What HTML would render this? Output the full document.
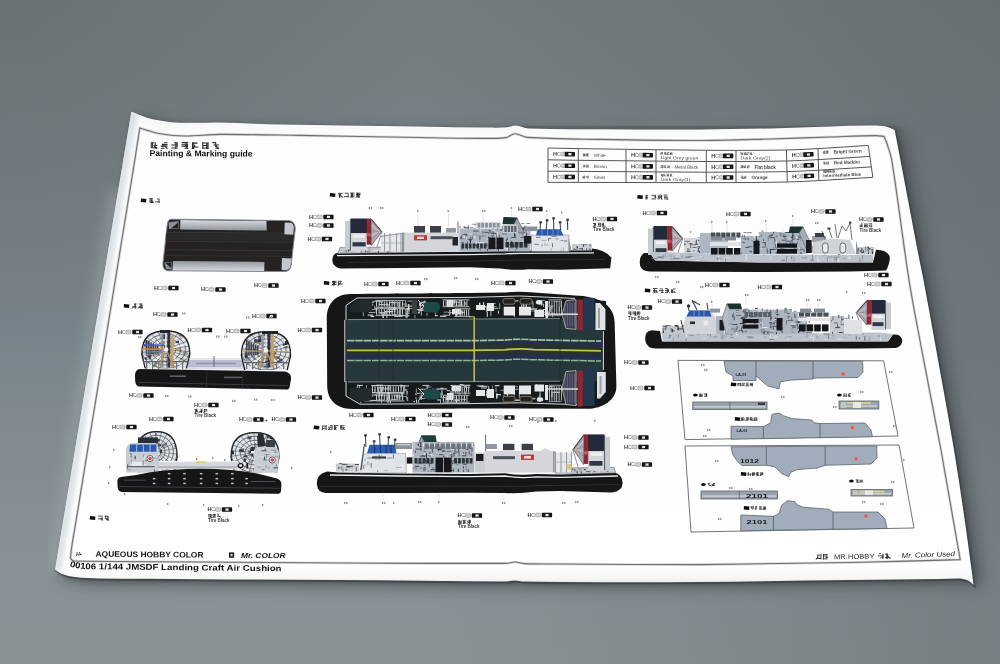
<!DOCTYPE html>
<html><head><meta charset="utf-8"><title>Painting &amp; Marking guide</title>
<style>html,body{margin:0;padding:0;background:#8b9092;}body{width:1000px;height:664px;overflow:hidden;font-family:"Liberation Sans",sans-serif;}svg{display:block}text{font-family:"Liberation Sans",sans-serif;}</style>
</head><body>
<svg width="1000" height="664" viewBox="0 0 1000 664">

<defs>
<linearGradient id="bgv" x1="0" y1="0" x2="0" y2="1">
 <stop offset="0" stop-color="#757c7f"/>
 <stop offset="0.5" stop-color="#79868b"/>
 <stop offset="0.85" stop-color="#889296"/>
 <stop offset="1" stop-color="#899295"/>
</linearGradient>
<radialGradient id="bgtl" gradientUnits="userSpaceOnUse" cx="0" cy="0" r="420">
 <stop offset="0" stop-color="#4e5458" stop-opacity="0.26"/>
 <stop offset="1" stop-color="#4e5458" stop-opacity="0"/>
</radialGradient>
<linearGradient id="bgr" x1="0" y1="0" x2="1" y2="0">
 <stop offset="0.42" stop-color="#485054" stop-opacity="0"/>
 <stop offset="0.72" stop-color="#485054" stop-opacity="0.13"/>
 <stop offset="0.9" stop-color="#485054" stop-opacity="0.24"/>
 <stop offset="1" stop-color="#485054" stop-opacity="0.28"/>
</linearGradient>
<filter id="sh" x="-10%" y="-10%" width="120%" height="120%"><feGaussianBlur stdDeviation="7"/></filter>
<filter id="sh2" x="-10%" y="-10%" width="120%" height="120%"><feGaussianBlur stdDeviation="2.5"/></filter>
<filter id="soft" x="-2%" y="-2%" width="104%" height="104%"><feGaussianBlur stdDeviation="0.55"/></filter>
<filter id="soft2" x="-2%" y="-2%" width="104%" height="104%"><feGaussianBlur stdDeviation="0.7"/></filter>
<linearGradient id="pg" x1="0" y1="0" x2="0" y2="1">
 <stop offset="0" stop-color="#f4f5f5"/>
 <stop offset="0.06" stop-color="#fdfdfd"/>
 <stop offset="0.96" stop-color="#ffffff"/>
 <stop offset="0.985" stop-color="#f6f7f7"/>
 <stop offset="1" stop-color="#e4e6e6"/>
</linearGradient>
<clipPath id="pc"><path d="M131.3,111.4 C134.2,112.6 137.1,113.8 140.0,115.0 C142.6,116.0 145.3,117.2 148.0,118.0 C151.9,119.1 156.0,119.9 160.0,120.6 C164.0,121.3 168.0,121.9 172.0,122.2 C178.0,122.6 184.0,122.7 190.0,122.8 C200.0,122.9 210.0,122.4 220.0,122.6 C236.7,122.9 253.3,123.9 270.0,124.2 C320.0,125.1 370.0,125.6 420.0,126.4 C443.3,126.8 466.7,127.4 490.0,127.6 C495.7,127.7 501.4,127.7 507.0,127.2 C509.9,127.0 512.7,125.3 515.6,125.5 C520.2,125.8 524.4,128.3 529.0,128.5 C552.6,129.5 576.3,129.1 600.0,129.2 C633.3,129.4 666.7,129.5 700.0,129.4 C723.3,129.3 746.7,129.0 770.0,128.5 C790.0,128.0 810.0,127.0 830.0,126.4 C843.3,126.0 856.7,125.5 870.0,125.5 C875.3,125.5 880.7,125.4 886.0,126.4 C889.1,127.0 891.8,128.8 894.7,130.0 C896.6,140.0 898.5,150.0 900.4,160.0 C902.9,173.3 905.5,186.7 908.0,200.0 C911.5,218.7 915.0,237.3 918.6,256.0 C920.2,264.0 922.0,272.0 923.5,280.0 C927.6,302.0 931.6,324.0 935.5,346.0 C941.7,380.7 948.2,415.3 954.0,450.0 C958.0,473.9 961.5,498.0 965.0,522.0 C968.0,543.0 970.7,564.0 973.6,585.0 C971.7,583.5 970.1,581.6 968.0,580.6 C965.5,579.4 962.7,578.8 960.0,578.6 C953.3,578.2 946.7,578.9 940.0,579.0 C910.0,579.4 880.0,579.6 850.0,580.0 C800.0,580.6 750.0,581.6 700.0,582.0 C666.7,582.3 633.3,582.3 600.0,582.2 C574.7,582.1 549.3,582.1 524.0,581.6 C521.0,581.5 518.0,580.4 515.0,580.4 C512.0,580.4 509.0,581.4 506.0,581.4 C450.7,581.3 395.3,580.4 340.0,580.0 C293.3,579.7 246.7,579.5 200.0,579.2 C166.7,579.0 133.3,579.1 100.0,578.5 C91.7,578.4 83.3,578.0 75.0,577.0 C70.6,576.5 66.2,575.6 62.0,574.0 C59.4,573.0 57.3,571.0 55.0,569.5 L131.3,111.4 Z"/></clipPath>
</defs>

<rect width="1000" height="664" fill="url(#bgv)"/>
<rect width="1000" height="664" fill="url(#bgtl)"/>
<rect width="1000" height="664" fill="url(#bgr)"/>
<path d="M131.3,111.4 C134.2,112.6 137.1,113.8 140.0,115.0 C142.6,116.0 145.3,117.2 148.0,118.0 C151.9,119.1 156.0,119.9 160.0,120.6 C164.0,121.3 168.0,121.9 172.0,122.2 C178.0,122.6 184.0,122.7 190.0,122.8 C200.0,122.9 210.0,122.4 220.0,122.6 C236.7,122.9 253.3,123.9 270.0,124.2 C320.0,125.1 370.0,125.6 420.0,126.4 C443.3,126.8 466.7,127.4 490.0,127.6 C495.7,127.7 501.4,127.7 507.0,127.2 C509.9,127.0 512.7,125.3 515.6,125.5 C520.2,125.8 524.4,128.3 529.0,128.5 C552.6,129.5 576.3,129.1 600.0,129.2 C633.3,129.4 666.7,129.5 700.0,129.4 C723.3,129.3 746.7,129.0 770.0,128.5 C790.0,128.0 810.0,127.0 830.0,126.4 C843.3,126.0 856.7,125.5 870.0,125.5 C875.3,125.5 880.7,125.4 886.0,126.4 C889.1,127.0 891.8,128.8 894.7,130.0 C896.6,140.0 898.5,150.0 900.4,160.0 C902.9,173.3 905.5,186.7 908.0,200.0 C911.5,218.7 915.0,237.3 918.6,256.0 C920.2,264.0 922.0,272.0 923.5,280.0 C927.6,302.0 931.6,324.0 935.5,346.0 C941.7,380.7 948.2,415.3 954.0,450.0 C958.0,473.9 961.5,498.0 965.0,522.0 C968.0,543.0 970.7,564.0 973.6,585.0 C971.7,583.5 970.1,581.6 968.0,580.6 C965.5,579.4 962.7,578.8 960.0,578.6 C953.3,578.2 946.7,578.9 940.0,579.0 C910.0,579.4 880.0,579.6 850.0,580.0 C800.0,580.6 750.0,581.6 700.0,582.0 C666.7,582.3 633.3,582.3 600.0,582.2 C574.7,582.1 549.3,582.1 524.0,581.6 C521.0,581.5 518.0,580.4 515.0,580.4 C512.0,580.4 509.0,581.4 506.0,581.4 C450.7,581.3 395.3,580.4 340.0,580.0 C293.3,579.7 246.7,579.5 200.0,579.2 C166.7,579.0 133.3,579.1 100.0,578.5 C91.7,578.4 83.3,578.0 75.0,577.0 C70.6,576.5 66.2,575.6 62.0,574.0 C59.4,573.0 57.3,571.0 55.0,569.5 L131.3,111.4 Z" fill="#4a4f52" opacity="0.55" filter="url(#sh)" transform="translate(12,3)"/>
<path d="M131.3,111.4 C134.2,112.6 137.1,113.8 140.0,115.0 C142.6,116.0 145.3,117.2 148.0,118.0 C151.9,119.1 156.0,119.9 160.0,120.6 C164.0,121.3 168.0,121.9 172.0,122.2 C178.0,122.6 184.0,122.7 190.0,122.8 C200.0,122.9 210.0,122.4 220.0,122.6 C236.7,122.9 253.3,123.9 270.0,124.2 C320.0,125.1 370.0,125.6 420.0,126.4 C443.3,126.8 466.7,127.4 490.0,127.6 C495.7,127.7 501.4,127.7 507.0,127.2 C509.9,127.0 512.7,125.3 515.6,125.5 C520.2,125.8 524.4,128.3 529.0,128.5 C552.6,129.5 576.3,129.1 600.0,129.2 C633.3,129.4 666.7,129.5 700.0,129.4 C723.3,129.3 746.7,129.0 770.0,128.5 C790.0,128.0 810.0,127.0 830.0,126.4 C843.3,126.0 856.7,125.5 870.0,125.5 C875.3,125.5 880.7,125.4 886.0,126.4 C889.1,127.0 891.8,128.8 894.7,130.0 C896.6,140.0 898.5,150.0 900.4,160.0 C902.9,173.3 905.5,186.7 908.0,200.0 C911.5,218.7 915.0,237.3 918.6,256.0 C920.2,264.0 922.0,272.0 923.5,280.0 C927.6,302.0 931.6,324.0 935.5,346.0 C941.7,380.7 948.2,415.3 954.0,450.0 C958.0,473.9 961.5,498.0 965.0,522.0 C968.0,543.0 970.7,564.0 973.6,585.0 C971.7,583.5 970.1,581.6 968.0,580.6 C965.5,579.4 962.7,578.8 960.0,578.6 C953.3,578.2 946.7,578.9 940.0,579.0 C910.0,579.4 880.0,579.6 850.0,580.0 C800.0,580.6 750.0,581.6 700.0,582.0 C666.7,582.3 633.3,582.3 600.0,582.2 C574.7,582.1 549.3,582.1 524.0,581.6 C521.0,581.5 518.0,580.4 515.0,580.4 C512.0,580.4 509.0,581.4 506.0,581.4 C450.7,581.3 395.3,580.4 340.0,580.0 C293.3,579.7 246.7,579.5 200.0,579.2 C166.7,579.0 133.3,579.1 100.0,578.5 C91.7,578.4 83.3,578.0 75.0,577.0 C70.6,576.5 66.2,575.6 62.0,574.0 C59.4,573.0 57.3,571.0 55.0,569.5 L131.3,111.4 Z" fill="#3c4042" opacity="0.55" filter="url(#sh2)" transform="translate(3.5,2.5)"/>
<path d="M131.3,111.4 C134.2,112.6 137.1,113.8 140.0,115.0 C142.6,116.0 145.3,117.2 148.0,118.0 C151.9,119.1 156.0,119.9 160.0,120.6 C164.0,121.3 168.0,121.9 172.0,122.2 C178.0,122.6 184.0,122.7 190.0,122.8 C200.0,122.9 210.0,122.4 220.0,122.6 C236.7,122.9 253.3,123.9 270.0,124.2 C320.0,125.1 370.0,125.6 420.0,126.4 C443.3,126.8 466.7,127.4 490.0,127.6 C495.7,127.7 501.4,127.7 507.0,127.2 C509.9,127.0 512.7,125.3 515.6,125.5 C520.2,125.8 524.4,128.3 529.0,128.5 C552.6,129.5 576.3,129.1 600.0,129.2 C633.3,129.4 666.7,129.5 700.0,129.4 C723.3,129.3 746.7,129.0 770.0,128.5 C790.0,128.0 810.0,127.0 830.0,126.4 C843.3,126.0 856.7,125.5 870.0,125.5 C875.3,125.5 880.7,125.4 886.0,126.4 C889.1,127.0 891.8,128.8 894.7,130.0 C896.6,140.0 898.5,150.0 900.4,160.0 C902.9,173.3 905.5,186.7 908.0,200.0 C911.5,218.7 915.0,237.3 918.6,256.0 C920.2,264.0 922.0,272.0 923.5,280.0 C927.6,302.0 931.6,324.0 935.5,346.0 C941.7,380.7 948.2,415.3 954.0,450.0 C958.0,473.9 961.5,498.0 965.0,522.0 C968.0,543.0 970.7,564.0 973.6,585.0 C971.7,583.5 970.1,581.6 968.0,580.6 C965.5,579.4 962.7,578.8 960.0,578.6 C953.3,578.2 946.7,578.9 940.0,579.0 C910.0,579.4 880.0,579.6 850.0,580.0 C800.0,580.6 750.0,581.6 700.0,582.0 C666.7,582.3 633.3,582.3 600.0,582.2 C574.7,582.1 549.3,582.1 524.0,581.6 C521.0,581.5 518.0,580.4 515.0,580.4 C512.0,580.4 509.0,581.4 506.0,581.4 C450.7,581.3 395.3,580.4 340.0,580.0 C293.3,579.7 246.7,579.5 200.0,579.2 C166.7,579.0 133.3,579.1 100.0,578.5 C91.7,578.4 83.3,578.0 75.0,577.0 C70.6,576.5 66.2,575.6 62.0,574.0 C59.4,573.0 57.3,571.0 55.0,569.5 L131.3,111.4 Z" fill="#454a4d" opacity="0.30" filter="url(#sh)" transform="translate(2,9)"/>
<path d="M505,128 C600,131 760,130 830,128 S880,126 896,132" fill="none" stroke="#3a3f42" stroke-width="16" opacity="0.42" filter="url(#sh)"/>
<path d="M131.3,111.4 C134.2,112.6 137.1,113.8 140.0,115.0 C142.6,116.0 145.3,117.2 148.0,118.0 C151.9,119.1 156.0,119.9 160.0,120.6 C164.0,121.3 168.0,121.9 172.0,122.2 C178.0,122.6 184.0,122.7 190.0,122.8 C200.0,122.9 210.0,122.4 220.0,122.6 C236.7,122.9 253.3,123.9 270.0,124.2 C320.0,125.1 370.0,125.6 420.0,126.4 C443.3,126.8 466.7,127.4 490.0,127.6 C495.7,127.7 501.4,127.7 507.0,127.2 C509.9,127.0 512.7,125.3 515.6,125.5 C520.2,125.8 524.4,128.3 529.0,128.5 C552.6,129.5 576.3,129.1 600.0,129.2 C633.3,129.4 666.7,129.5 700.0,129.4 C723.3,129.3 746.7,129.0 770.0,128.5 C790.0,128.0 810.0,127.0 830.0,126.4 C843.3,126.0 856.7,125.5 870.0,125.5 C875.3,125.5 880.7,125.4 886.0,126.4 C889.1,127.0 891.8,128.8 894.7,130.0 C896.6,140.0 898.5,150.0 900.4,160.0 C902.9,173.3 905.5,186.7 908.0,200.0 C911.5,218.7 915.0,237.3 918.6,256.0 C920.2,264.0 922.0,272.0 923.5,280.0 C927.6,302.0 931.6,324.0 935.5,346.0 C941.7,380.7 948.2,415.3 954.0,450.0 C958.0,473.9 961.5,498.0 965.0,522.0 C968.0,543.0 970.7,564.0 973.6,585.0 C971.7,583.5 970.1,581.6 968.0,580.6 C965.5,579.4 962.7,578.8 960.0,578.6 C953.3,578.2 946.7,578.9 940.0,579.0 C910.0,579.4 880.0,579.6 850.0,580.0 C800.0,580.6 750.0,581.6 700.0,582.0 C666.7,582.3 633.3,582.3 600.0,582.2 C574.7,582.1 549.3,582.1 524.0,581.6 C521.0,581.5 518.0,580.4 515.0,580.4 C512.0,580.4 509.0,581.4 506.0,581.4 C450.7,581.3 395.3,580.4 340.0,580.0 C293.3,579.7 246.7,579.5 200.0,579.2 C166.7,579.0 133.3,579.1 100.0,578.5 C91.7,578.4 83.3,578.0 75.0,577.0 C70.6,576.5 66.2,575.6 62.0,574.0 C59.4,573.0 57.3,571.0 55.0,569.5 L131.3,111.4 Z" fill="none" stroke="#3e4346" stroke-width="2.2" opacity="0.7" filter="url(#soft2)" transform="translate(0.8,1.0)"/>
<path d="M118,190 L55,570" fill="none" stroke="#a9b4b8" stroke-width="12" opacity="0.55" filter="url(#sh)"/>
<path d="M131.3,111.4 C134.2,112.6 137.1,113.8 140.0,115.0 C142.6,116.0 145.3,117.2 148.0,118.0 C151.9,119.1 156.0,119.9 160.0,120.6 C164.0,121.3 168.0,121.9 172.0,122.2 C178.0,122.6 184.0,122.7 190.0,122.8 C200.0,122.9 210.0,122.4 220.0,122.6 C236.7,122.9 253.3,123.9 270.0,124.2 C320.0,125.1 370.0,125.6 420.0,126.4 C443.3,126.8 466.7,127.4 490.0,127.6 C495.7,127.7 501.4,127.7 507.0,127.2 C509.9,127.0 512.7,125.3 515.6,125.5 C520.2,125.8 524.4,128.3 529.0,128.5 C552.6,129.5 576.3,129.1 600.0,129.2 C633.3,129.4 666.7,129.5 700.0,129.4 C723.3,129.3 746.7,129.0 770.0,128.5 C790.0,128.0 810.0,127.0 830.0,126.4 C843.3,126.0 856.7,125.5 870.0,125.5 C875.3,125.5 880.7,125.4 886.0,126.4 C889.1,127.0 891.8,128.8 894.7,130.0 C896.6,140.0 898.5,150.0 900.4,160.0 C902.9,173.3 905.5,186.7 908.0,200.0 C911.5,218.7 915.0,237.3 918.6,256.0 C920.2,264.0 922.0,272.0 923.5,280.0 C927.6,302.0 931.6,324.0 935.5,346.0 C941.7,380.7 948.2,415.3 954.0,450.0 C958.0,473.9 961.5,498.0 965.0,522.0 C968.0,543.0 970.7,564.0 973.6,585.0 C971.7,583.5 970.1,581.6 968.0,580.6 C965.5,579.4 962.7,578.8 960.0,578.6 C953.3,578.2 946.7,578.9 940.0,579.0 C910.0,579.4 880.0,579.6 850.0,580.0 C800.0,580.6 750.0,581.6 700.0,582.0 C666.7,582.3 633.3,582.3 600.0,582.2 C574.7,582.1 549.3,582.1 524.0,581.6 C521.0,581.5 518.0,580.4 515.0,580.4 C512.0,580.4 509.0,581.4 506.0,581.4 C450.7,581.3 395.3,580.4 340.0,580.0 C293.3,579.7 246.7,579.5 200.0,579.2 C166.7,579.0 133.3,579.1 100.0,578.5 C91.7,578.4 83.3,578.0 75.0,577.0 C70.6,576.5 66.2,575.6 62.0,574.0 C59.4,573.0 57.3,571.0 55.0,569.5 L131.3,111.4 Z" fill="url(#pg)"/>
<g clip-path="url(#pc)"><path d="M131.3,111.4 L55,569.5" fill="none" stroke="#c3ccd2" stroke-width="13" opacity="0.55" filter="url(#sh2)"/></g>
<g clip-path="url(#pc)"><g filter="url(#soft)">
<path d="M139.8,128.0 C142.5,128.9 145.2,129.8 148.0,130.6 C152.0,131.7 156.0,133.1 160.2,133.7 C168.2,134.9 176.2,135.9 184.3,136.0 C196.2,136.1 208.1,134.5 220.0,134.4 C246.7,134.3 273.3,135.0 300.0,135.4 C340.0,136.0 380.0,136.9 420.0,137.5 C443.3,137.9 466.7,138.4 490.0,138.4 C495.3,138.4 500.7,138.6 506.0,137.6 C509.2,137.0 511.7,133.8 515.0,133.8 C519.2,133.8 522.8,137.1 527.0,137.4 C551.3,139.0 575.7,139.0 600.0,139.4 C633.3,140.0 666.7,140.6 700.0,140.5 C723.3,140.4 746.7,139.6 770.0,139.0 C790.0,138.5 810.0,137.6 830.0,137.0 C845.3,136.5 860.7,135.8 876.0,135.6 C878.7,135.6 881.3,136.1 884.0,136.4 C884.8,138.3 885.8,140.1 886.4,142.0 C888.3,147.9 890.7,153.8 891.7,160.0 C898.2,199.9 902.7,240.1 909.0,280.0 C912.5,302.1 916.9,324.0 921.0,346.0 C927.5,380.7 934.6,415.3 941.0,450.0 C947.7,486.5 953.8,523.1 960.2,559.6 C923.5,560.6 886.7,561.8 850.0,562.5 C800.0,563.5 750.0,564.3 700.0,564.6 C653.3,564.8 606.7,564.3 560.0,564.0 C548.0,563.9 536.0,564.1 524.0,563.6 C521.0,563.5 518.0,562.0 515.0,562.0 C512.0,562.0 509.0,563.4 506.0,563.4 C450.7,563.7 395.3,563.3 340.0,563.0 C293.3,562.8 246.7,562.3 200.0,562.0 C160.0,561.7 120.0,561.6 80.0,561.2 C77.7,561.2 75.2,561.5 73.0,560.8 C71.8,560.4 71.3,558.9 70.4,558.0 C70.9,553.7 71.3,549.3 72.0,545.0 C73.3,536.6 74.8,528.3 76.2,520.0 C94.7,406.7 113.2,293.3 131.6,180.0 C134.4,162.7 137.1,145.3 139.8,128.0 Z" fill="none" stroke="#b4b4b8" stroke-width="2.6" opacity="0.5"/>
<path d="M139.8,128.0 C142.5,128.9 145.2,129.8 148.0,130.6 C152.0,131.7 156.0,133.1 160.2,133.7 C168.2,134.9 176.2,135.9 184.3,136.0 C196.2,136.1 208.1,134.5 220.0,134.4 C246.7,134.3 273.3,135.0 300.0,135.4 C340.0,136.0 380.0,136.9 420.0,137.5 C443.3,137.9 466.7,138.4 490.0,138.4 C495.3,138.4 500.7,138.6 506.0,137.6 C509.2,137.0 511.7,133.8 515.0,133.8 C519.2,133.8 522.8,137.1 527.0,137.4 C551.3,139.0 575.7,139.0 600.0,139.4 C633.3,140.0 666.7,140.6 700.0,140.5 C723.3,140.4 746.7,139.6 770.0,139.0 C790.0,138.5 810.0,137.6 830.0,137.0 C845.3,136.5 860.7,135.8 876.0,135.6 C878.7,135.6 881.3,136.1 884.0,136.4 C884.8,138.3 885.8,140.1 886.4,142.0 C888.3,147.9 890.7,153.8 891.7,160.0 C898.2,199.9 902.7,240.1 909.0,280.0 C912.5,302.1 916.9,324.0 921.0,346.0 C927.5,380.7 934.6,415.3 941.0,450.0 C947.7,486.5 953.8,523.1 960.2,559.6 C923.5,560.6 886.7,561.8 850.0,562.5 C800.0,563.5 750.0,564.3 700.0,564.6 C653.3,564.8 606.7,564.3 560.0,564.0 C548.0,563.9 536.0,564.1 524.0,563.6 C521.0,563.5 518.0,562.0 515.0,562.0 C512.0,562.0 509.0,563.4 506.0,563.4 C450.7,563.7 395.3,563.3 340.0,563.0 C293.3,562.8 246.7,562.3 200.0,562.0 C160.0,561.7 120.0,561.6 80.0,561.2 C77.7,561.2 75.2,561.5 73.0,560.8 C71.8,560.4 71.3,558.9 70.4,558.0 C70.9,553.7 71.3,549.3 72.0,545.0 C73.3,536.6 74.8,528.3 76.2,520.0 C94.7,406.7 113.2,293.3 131.6,180.0 C134.4,162.7 137.1,145.3 139.8,128.0 Z" fill="none" stroke="#707075" stroke-width="1.1"/>
<path d="M151.6,142.8 L154.2,142.8 M153.6,145.5 L157.2,145.5 M150.6,147.8 L157.2,147.8 M151.3,142.3 L151.3,146.9 M155.2,142.3 L155.2,148.9 M152.6,142.3 L152.6,146.9 M153.9,145.3 L157.2,148.9 " stroke="#2a2a2a" stroke-width="1.05" fill="none"/>
<path d="M163.9,142.8 L167.5,142.8 M161.9,144.5 L167.5,144.5 M160.9,146.1 L167.5,146.1 M160.9,148.2 L164.5,148.2 M162.9,143.6 L162.9,146.9 M164.2,145.3 L167.5,148.9 " stroke="#2a2a2a" stroke-width="1.05" fill="none"/>
<path d="M174.2,142.8 L177.8,142.8 M171.2,144.9 L177.8,144.9 M171.2,147.9 L177.8,147.9 M177.1,142.3 L177.1,146.9 M175.8,142.3 L175.8,148.9 " stroke="#2a2a2a" stroke-width="1.05" fill="none"/>
<path d="M181.5,142.5 L188.1,142.5 M181.5,144.3 L188.1,144.3 M181.5,146.1 L188.1,146.1 M184.5,148.2 L188.1,148.2 M186.1,142.3 L186.1,146.9 M187.4,143.6 L187.4,146.9 M184.8,145.3 L188.1,148.9 " stroke="#2a2a2a" stroke-width="1.05" fill="none"/>
<path d="M192.8,143.1 L197.4,143.1 M192.8,146.9 L198.4,146.9 M192.5,142.3 L192.5,148.9 M193.8,142.3 L193.8,148.9 M195.1,145.3 L191.8,148.9 " stroke="#2a2a2a" stroke-width="1.05" fill="none"/>
<path d="M202.1,143.0 L208.7,143.0 M202.1,145.5 L208.7,145.5 M202.1,147.9 L208.7,147.9 M208.0,142.3 L208.0,148.9 M206.7,143.6 L206.7,148.9 M202.8,142.3 L202.8,148.9 " stroke="#2a2a2a" stroke-width="1.05" fill="none"/>
<path d="M212.4,142.6 L216.0,142.6 M213.4,144.9 L219.0,144.9 M215.4,148.1 L219.0,148.1 M215.7,142.3 L215.7,146.9 M215.7,145.3 L219.0,148.9 " stroke="#2a2a2a" stroke-width="1.05" fill="none"/>
<text x="149.6" y="156.1" font-size="8.5" fill="#111" font-weight="bold" textLength="103" lengthAdjust="spacingAndGlyphs" transform="rotate(0.3 150 156)">Painting &amp; Marking guide</text>
<text x="76.0" y="555.8" font-size="5.2" fill="#222" font-weight="bold" font-style="italic">H&#8226;</text>
<text x="95.5" y="556.7" font-size="8.0" fill="#111" font-weight="bold" textLength="108" lengthAdjust="spacingAndGlyphs" transform="rotate(0.5 96 557)">AQUEOUS HOBBY COLOR</text>
<rect x="229.0" y="552.4" width="5.2" height="5.4" fill="#222" />
<rect x="230.6" y="554.0" width="2.0" height="2.2" fill="#ddd" />
<text x="241.0" y="557.9" font-size="8.0" fill="#111" font-weight="bold" font-style="italic" textLength="44.5" lengthAdjust="spacingAndGlyphs">Mr. COLOR</text>
<path id="btp" d="M69.6,566.4 C75,568.2 82,568.9 92,569.2 C150,569.9 220,570.6 283,571.2" fill="none"/>
<text font-size="8.3" font-weight="bold" fill="#111"><textPath href="#btp" textLength="212" lengthAdjust="spacingAndGlyphs">00106 1/144 JMSDF Landing Craft Air Cushion</textPath></text>
<path d="M816.8,555.1 L821.4,555.1 M816.0,558.5 L821.4,558.5 M820.9,554.2 L820.9,559.6 M817.6,555.3 L817.6,558.0 M818.7,556.6 L816.0,559.6 " stroke="#222" stroke-width="0.80" fill="none"/>
<path d="M823.0,554.6 L827.6,554.6 M823.0,556.0 L826.0,556.0 M825.4,557.3 L828.4,557.3 M823.0,558.8 L826.0,558.8 M823.5,554.2 L823.5,559.6 M826.8,554.2 L826.8,559.6 " stroke="#222" stroke-width="0.80" fill="none"/>
<text x="834.0" y="559.2" font-size="6.8" fill="#222" font-weight="normal" textLength="40.5" lengthAdjust="spacingAndGlyphs" transform="rotate(-0.8 834 559)">MR.HOBBY</text>
<path d="M878.8,553.7 L881.0,553.7 M878.0,555.9 L883.4,555.9 M880.4,557.8 L883.4,557.8 M882.9,553.5 L882.9,557.3 M882.9,554.6 L882.9,558.9 " stroke="#222" stroke-width="0.80" fill="none"/>
<path d="M885.0,554.0 L888.0,554.0 M885.0,557.6 L890.4,557.6 M887.7,554.6 L887.7,557.3 M887.7,554.6 L887.7,558.9 M886.6,553.5 L886.6,558.9 M887.7,555.9 L890.4,558.9 " stroke="#222" stroke-width="0.80" fill="none"/>
<text x="901.6" y="558.0" font-size="7.0" fill="#222" font-weight="normal" font-style="italic" textLength="53.5" lengthAdjust="spacingAndGlyphs" transform="rotate(-2.0 901 558)">Mr. Color Used</text>
<path d="M141.0,198.6 l5.4,0.4 l-0.3,3.4 l-5.4,-0.4 z" fill="#111"/>
<path d="M149.0,198.6 L152.9,198.6 M149.7,200.0 L152.9,200.0 M149.0,201.2 L153.6,201.2 M149.7,202.5 L153.6,202.5 M151.3,198.4 L151.3,203.0 M151.3,200.5 L153.6,203.0 " stroke="#2a2a2a" stroke-width="0.85" fill="none"/>
<path d="M157.1,199.0 L159.6,199.0 M155.0,201.9 L159.6,201.9 M159.1,199.3 L159.1,203.0 " stroke="#2a2a2a" stroke-width="0.85" fill="none"/>
<path d="M124.0,304.1 l5.4,0.4 l-0.3,3.4 l-5.4,-0.4 z" fill="#111"/>
<path d="M134.1,303.9 L136.6,303.9 M132.0,307.0 L136.6,307.0 M135.2,303.9 L135.2,308.5 M135.2,303.9 L135.2,308.5 M134.3,306.0 L132.0,308.5 " stroke="#2a2a2a" stroke-width="0.85" fill="none"/>
<path d="M138.7,304.0 L142.6,304.0 M138.7,307.4 L142.6,307.4 M141.2,303.9 L141.2,308.5 M140.3,304.8 L140.3,308.5 M142.1,304.8 L142.1,308.5 M140.3,306.0 L138.0,308.5 " stroke="#2a2a2a" stroke-width="0.85" fill="none"/>
<path d="M330.0,193.1 l5.4,0.4 l-0.3,3.4 l-5.4,-0.4 z" fill="#111"/>
<path d="M338.0,193.3 L342.6,193.3 M338.7,194.7 L340.5,194.7 M340.1,196.8 L342.6,196.8 M339.4,193.8 L339.4,197.5 M339.4,193.8 L339.4,197.5 M340.3,193.8 L340.3,196.1 M340.3,195.0 L342.6,197.5 " stroke="#2a2a2a" stroke-width="0.85" fill="none"/>
<path d="M344.7,193.2 L348.6,193.2 M344.0,196.6 L348.6,196.6 M348.1,193.8 L348.1,197.5 " stroke="#2a2a2a" stroke-width="0.85" fill="none"/>
<path d="M350.0,193.1 L354.6,193.1 M350.7,195.0 L354.6,195.0 M350.7,196.8 L354.6,196.8 M351.4,192.9 L351.4,197.5 M352.3,193.8 L352.3,196.1 M352.3,192.9 L352.3,197.5 M352.3,195.0 L350.0,197.5 " stroke="#2a2a2a" stroke-width="0.85" fill="none"/>
<path d="M356.0,193.2 L360.6,193.2 M356.0,194.5 L360.6,194.5 M356.0,195.8 L358.5,195.8 M356.0,196.9 L359.9,196.9 M357.4,192.9 L357.4,196.1 M359.2,193.8 L359.2,197.5 M358.3,192.9 L358.3,197.5 M358.3,195.0 L356.0,197.5 " stroke="#2a2a2a" stroke-width="0.85" fill="none"/>
<path d="M324.0,281.1 l5.4,0.4 l-0.3,3.4 l-5.4,-0.4 z" fill="#111"/>
<path d="M332.0,281.4 L336.6,281.4 M332.0,282.7 L336.6,282.7 M332.0,284.5 L336.6,284.5 M334.3,280.9 L334.3,285.5 M333.4,280.9 L333.4,285.5 M334.3,281.8 L334.3,284.1 M334.3,283.0 L332.0,285.5 " stroke="#2a2a2a" stroke-width="0.85" fill="none"/>
<path d="M338.0,281.3 L341.9,281.3 M338.0,284.0 L342.6,284.0 M338.5,281.8 L338.5,285.5 M340.3,281.8 L340.3,284.1 M340.3,283.0 L338.0,285.5 " stroke="#2a2a2a" stroke-width="0.85" fill="none"/>
<path d="M637.5,195.1 l5.4,0.4 l-0.3,3.4 l-5.4,-0.4 z" fill="#111"/>
<path d="M646.2,195.7 L648.0,195.7 M645.5,197.9 L648.0,197.9 M646.0,194.9 L646.0,199.5 M646.9,195.8 L646.9,199.5 " stroke="#2a2a2a" stroke-width="0.85" fill="none"/>
<path d="M651.5,195.3 L656.1,195.3 M653.6,196.8 L656.1,196.8 M651.5,198.9 L656.1,198.9 M655.6,195.8 L655.6,198.1 " stroke="#2a2a2a" stroke-width="0.85" fill="none"/>
<path d="M659.6,195.0 L661.4,195.0 M658.2,196.7 L662.1,196.7 M657.5,198.8 L660.0,198.8 M658.9,194.9 L658.9,198.1 M661.6,194.9 L661.6,199.5 M658.9,195.8 L658.9,198.1 M659.8,197.0 L662.1,199.5 " stroke="#2a2a2a" stroke-width="0.85" fill="none"/>
<path d="M663.5,195.0 L667.4,195.0 M664.2,197.0 L668.1,197.0 M665.6,199.0 L668.1,199.0 M664.9,195.8 L664.9,199.5 M665.8,197.0 L668.1,199.5 " stroke="#2a2a2a" stroke-width="0.85" fill="none"/>
<path d="M645.0,288.6 l5.4,0.4 l-0.3,3.4 l-5.4,-0.4 z" fill="#111"/>
<path d="M653.0,288.5 L657.6,288.5 M653.0,290.6 L657.6,290.6 M653.0,292.1 L657.6,292.1 M654.4,288.4 L654.4,293.0 M655.3,290.5 L657.6,293.0 " stroke="#2a2a2a" stroke-width="0.85" fill="none"/>
<path d="M659.7,288.8 L661.5,288.8 M659.0,290.6 L663.6,290.6 M661.1,292.5 L663.6,292.5 M662.2,288.4 L662.2,293.0 " stroke="#2a2a2a" stroke-width="0.85" fill="none"/>
<path d="M665.0,288.5 L667.5,288.5 M665.0,290.5 L668.9,290.5 M665.0,292.4 L667.5,292.4 M667.3,288.4 L667.3,293.0 M668.2,289.3 L668.2,291.6 M668.2,289.3 L668.2,291.6 M667.3,290.5 L669.6,293.0 " stroke="#2a2a2a" stroke-width="0.85" fill="none"/>
<path d="M673.1,289.0 L675.6,289.0 M671.0,292.1 L674.9,292.1 M671.5,289.3 L671.5,293.0 M672.4,289.3 L672.4,293.0 M673.3,290.5 L675.6,293.0 " stroke="#2a2a2a" stroke-width="0.85" fill="none"/>
<path d="M314.0,425.6 l5.4,0.4 l-0.3,3.4 l-5.4,-0.4 z" fill="#111"/>
<path d="M322.0,426.0 L326.6,426.0 M324.1,428.7 L326.6,428.7 M322.5,426.3 L322.5,430.0 M326.1,425.4 L326.1,430.0 M324.3,427.5 L322.0,430.0 " stroke="#2a2a2a" stroke-width="0.85" fill="none"/>
<path d="M330.1,425.5 L332.6,425.5 M328.0,427.2 L332.6,427.2 M328.0,429.3 L332.6,429.3 M332.1,426.3 L332.1,428.6 M330.3,427.5 L328.0,430.0 " stroke="#2a2a2a" stroke-width="0.85" fill="none"/>
<path d="M334.0,425.6 L338.6,425.6 M334.0,427.6 L336.5,427.6 M334.0,429.4 L336.5,429.4 M335.4,426.3 L335.4,428.6 M334.5,425.4 L334.5,430.0 M336.3,427.5 L334.0,430.0 " stroke="#2a2a2a" stroke-width="0.85" fill="none"/>
<path d="M340.7,425.8 L344.6,425.8 M342.1,427.7 L344.6,427.7 M340.0,429.0 L344.6,429.0 M341.4,425.4 L341.4,428.6 M340.5,425.4 L340.5,428.6 M342.3,427.5 L344.6,430.0 " stroke="#2a2a2a" stroke-width="0.85" fill="none"/>
<path d="M90.0,516.1 l5.4,0.4 l-0.3,3.4 l-5.4,-0.4 z" fill="#111"/>
<path d="M98.0,516.1 L102.6,516.1 M98.0,518.8 L102.6,518.8 M102.1,516.8 L102.1,520.5 M100.3,518.0 L102.6,520.5 " stroke="#2a2a2a" stroke-width="0.85" fill="none"/>
<path d="M104.7,516.2 L107.9,516.2 M106.1,519.5 L108.6,519.5 M108.1,515.9 L108.1,520.5 M107.2,516.8 L107.2,520.5 M105.4,515.9 L105.4,519.1 M106.3,518.0 L108.6,520.5 " stroke="#2a2a2a" stroke-width="0.85" fill="none"/>
<text x="154.0" y="289.9" font-size="5.6" fill="#3a3a3a" font-weight="bold" >H</text>
<text x="157.8" y="289.9" font-size="5.6" fill="#6a6a6a" font-weight="normal" >C</text>
<rect x="161.8" y="286.2" width="5.4" height="3.6" rx="1.4" fill="#d4d4d4" stroke="#8a8a8a" stroke-width="0.6"/>
<rect x="168.3" y="285.7" width="10.3" height="4.6" rx="0.9" fill="#121212"/>
<rect x="171.9" y="286.9" width="3.2" height="2.3" fill="#e2e2e2"/>
<text x="201.0" y="291.4" font-size="5.6" fill="#3a3a3a" font-weight="bold" >H</text>
<text x="204.8" y="291.4" font-size="5.6" fill="#6a6a6a" font-weight="normal" >C</text>
<rect x="208.8" y="287.7" width="5.4" height="3.6" rx="1.4" fill="#d4d4d4" stroke="#8a8a8a" stroke-width="0.6"/>
<rect x="215.3" y="287.2" width="10.3" height="4.6" rx="0.9" fill="#121212"/>
<rect x="218.9" y="288.4" width="3.2" height="2.3" fill="#e2e2e2"/>
<text x="254.0" y="287.4" font-size="5.6" fill="#3a3a3a" font-weight="bold" >H</text>
<text x="257.8" y="287.4" font-size="5.6" fill="#6a6a6a" font-weight="normal" >C</text>
<rect x="261.8" y="283.7" width="5.4" height="3.6" rx="1.4" fill="#d4d4d4" stroke="#8a8a8a" stroke-width="0.6"/>
<rect x="268.3" y="283.2" width="10.3" height="4.6" rx="0.9" fill="#121212"/>
<rect x="271.9" y="284.4" width="3.2" height="2.3" fill="#e2e2e2"/>
<text x="309.0" y="218.9" font-size="5.6" fill="#3a3a3a" font-weight="bold" >H</text>
<text x="312.8" y="218.9" font-size="5.6" fill="#6a6a6a" font-weight="normal" >C</text>
<rect x="316.8" y="215.2" width="5.4" height="3.6" rx="1.4" fill="#d4d4d4" stroke="#8a8a8a" stroke-width="0.6"/>
<rect x="323.3" y="214.7" width="10.3" height="4.6" rx="0.9" fill="#121212"/>
<rect x="326.9" y="215.8" width="3.2" height="2.3" fill="#e2e2e2"/>
<text x="309.0" y="227.4" font-size="5.6" fill="#3a3a3a" font-weight="bold" >H</text>
<text x="312.8" y="227.4" font-size="5.6" fill="#6a6a6a" font-weight="normal" >C</text>
<rect x="316.8" y="223.7" width="5.4" height="3.6" rx="1.4" fill="#d4d4d4" stroke="#8a8a8a" stroke-width="0.6"/>
<rect x="323.3" y="223.2" width="10.3" height="4.6" rx="0.9" fill="#121212"/>
<rect x="326.9" y="224.3" width="3.2" height="2.3" fill="#e2e2e2"/>
<text x="307.5" y="240.9" font-size="5.6" fill="#3a3a3a" font-weight="bold" >H</text>
<text x="311.3" y="240.9" font-size="5.6" fill="#6a6a6a" font-weight="normal" >C</text>
<rect x="315.3" y="237.2" width="5.4" height="3.6" rx="1.4" fill="#d4d4d4" stroke="#8a8a8a" stroke-width="0.6"/>
<rect x="321.8" y="236.7" width="10.3" height="4.6" rx="0.9" fill="#121212"/>
<rect x="325.4" y="237.8" width="3.2" height="2.3" fill="#e2e2e2"/>
<text x="301.0" y="302.9" font-size="5.6" fill="#3a3a3a" font-weight="bold" >H</text>
<text x="304.8" y="302.9" font-size="5.6" fill="#6a6a6a" font-weight="normal" >C</text>
<rect x="308.8" y="299.2" width="5.4" height="3.6" rx="1.4" fill="#d4d4d4" stroke="#8a8a8a" stroke-width="0.6"/>
<rect x="315.3" y="298.7" width="10.3" height="4.6" rx="0.9" fill="#121212"/>
<rect x="318.9" y="299.9" width="3.2" height="2.3" fill="#e2e2e2"/>
<text x="153.0" y="316.4" font-size="5.6" fill="#3a3a3a" font-weight="bold" >H</text>
<text x="156.8" y="316.4" font-size="5.6" fill="#6a6a6a" font-weight="normal" >C</text>
<rect x="160.8" y="312.7" width="5.4" height="3.6" rx="1.4" fill="#d4d4d4" stroke="#8a8a8a" stroke-width="0.6"/>
<rect x="167.3" y="312.2" width="10.3" height="4.6" rx="0.9" fill="#121212"/>
<rect x="170.9" y="313.4" width="3.2" height="2.3" fill="#e2e2e2"/>
<text x="252.0" y="317.9" font-size="5.6" fill="#3a3a3a" font-weight="bold" >H</text>
<text x="255.8" y="317.9" font-size="5.6" fill="#6a6a6a" font-weight="normal" >C</text>
<rect x="259.8" y="314.2" width="5.4" height="3.6" rx="1.4" fill="#d4d4d4" stroke="#8a8a8a" stroke-width="0.6"/>
<rect x="266.3" y="313.7" width="10.3" height="4.6" rx="0.9" fill="#121212"/>
<rect x="269.9" y="314.9" width="3.2" height="2.3" fill="#e2e2e2"/>
<text x="118.0" y="333.9" font-size="5.6" fill="#3a3a3a" font-weight="bold" >H</text>
<text x="121.8" y="333.9" font-size="5.6" fill="#6a6a6a" font-weight="normal" >C</text>
<rect x="125.8" y="330.2" width="5.4" height="3.6" rx="1.4" fill="#d4d4d4" stroke="#8a8a8a" stroke-width="0.6"/>
<rect x="132.3" y="329.7" width="10.3" height="4.6" rx="0.9" fill="#121212"/>
<rect x="135.9" y="330.9" width="3.2" height="2.3" fill="#e2e2e2"/>
<text x="187.5" y="331.9" font-size="5.6" fill="#3a3a3a" font-weight="bold" >H</text>
<text x="191.3" y="331.9" font-size="5.6" fill="#6a6a6a" font-weight="normal" >C</text>
<rect x="195.3" y="328.2" width="5.4" height="3.6" rx="1.4" fill="#d4d4d4" stroke="#8a8a8a" stroke-width="0.6"/>
<rect x="201.8" y="327.7" width="10.3" height="4.6" rx="0.9" fill="#121212"/>
<rect x="205.4" y="328.9" width="3.2" height="2.3" fill="#e2e2e2"/>
<text x="226.0" y="332.9" font-size="5.6" fill="#3a3a3a" font-weight="bold" >H</text>
<text x="229.8" y="332.9" font-size="5.6" fill="#6a6a6a" font-weight="normal" >C</text>
<rect x="233.8" y="329.2" width="5.4" height="3.6" rx="1.4" fill="#d4d4d4" stroke="#8a8a8a" stroke-width="0.6"/>
<rect x="240.3" y="328.7" width="10.3" height="4.6" rx="0.9" fill="#121212"/>
<rect x="243.9" y="329.9" width="3.2" height="2.3" fill="#e2e2e2"/>
<text x="297.5" y="331.9" font-size="5.6" fill="#3a3a3a" font-weight="bold" >H</text>
<text x="301.3" y="331.9" font-size="5.6" fill="#6a6a6a" font-weight="normal" >C</text>
<rect x="305.3" y="328.2" width="5.4" height="3.6" rx="1.4" fill="#d4d4d4" stroke="#8a8a8a" stroke-width="0.6"/>
<rect x="311.8" y="327.7" width="10.3" height="4.6" rx="0.9" fill="#121212"/>
<rect x="315.4" y="328.9" width="3.2" height="2.3" fill="#e2e2e2"/>
<text x="129.0" y="397.4" font-size="5.6" fill="#3a3a3a" font-weight="bold" >H</text>
<text x="132.8" y="397.4" font-size="5.6" fill="#6a6a6a" font-weight="normal" >C</text>
<rect x="136.8" y="393.7" width="5.4" height="3.6" rx="1.4" fill="#d4d4d4" stroke="#8a8a8a" stroke-width="0.6"/>
<rect x="143.3" y="393.2" width="10.3" height="4.6" rx="0.9" fill="#121212"/>
<rect x="146.9" y="394.4" width="3.2" height="2.3" fill="#e2e2e2"/>
<text x="194.0" y="406.9" font-size="5.6" fill="#3a3a3a" font-weight="bold" >H</text>
<text x="197.8" y="406.9" font-size="5.6" fill="#6a6a6a" font-weight="normal" >C</text>
<rect x="201.8" y="403.2" width="5.4" height="3.6" rx="1.4" fill="#d4d4d4" stroke="#8a8a8a" stroke-width="0.6"/>
<rect x="208.3" y="402.7" width="10.3" height="4.6" rx="0.9" fill="#121212"/>
<rect x="211.9" y="403.9" width="3.2" height="2.3" fill="#e2e2e2"/>
<text x="297.5" y="399.4" font-size="5.6" fill="#3a3a3a" font-weight="bold" >H</text>
<text x="301.3" y="399.4" font-size="5.6" fill="#6a6a6a" font-weight="normal" >C</text>
<rect x="305.3" y="395.7" width="5.4" height="3.6" rx="1.4" fill="#d4d4d4" stroke="#8a8a8a" stroke-width="0.6"/>
<rect x="311.8" y="395.2" width="10.3" height="4.6" rx="0.9" fill="#121212"/>
<rect x="315.4" y="396.4" width="3.2" height="2.3" fill="#e2e2e2"/>
<text x="149.0" y="420.9" font-size="5.6" fill="#3a3a3a" font-weight="bold" >H</text>
<text x="152.8" y="420.9" font-size="5.6" fill="#6a6a6a" font-weight="normal" >C</text>
<rect x="156.8" y="417.2" width="5.4" height="3.6" rx="1.4" fill="#d4d4d4" stroke="#8a8a8a" stroke-width="0.6"/>
<rect x="163.3" y="416.7" width="10.3" height="4.6" rx="0.9" fill="#121212"/>
<rect x="166.9" y="417.9" width="3.2" height="2.3" fill="#e2e2e2"/>
<text x="239.0" y="421.4" font-size="5.6" fill="#3a3a3a" font-weight="bold" >H</text>
<text x="242.8" y="421.4" font-size="5.6" fill="#6a6a6a" font-weight="normal" >C</text>
<rect x="246.8" y="417.7" width="5.4" height="3.6" rx="1.4" fill="#d4d4d4" stroke="#8a8a8a" stroke-width="0.6"/>
<rect x="253.3" y="417.2" width="10.3" height="4.6" rx="0.9" fill="#121212"/>
<rect x="256.9" y="418.4" width="3.2" height="2.3" fill="#e2e2e2"/>
<text x="271.5" y="421.4" font-size="5.6" fill="#3a3a3a" font-weight="bold" >H</text>
<text x="275.3" y="421.4" font-size="5.6" fill="#6a6a6a" font-weight="normal" >C</text>
<rect x="279.3" y="417.7" width="5.4" height="3.6" rx="1.4" fill="#d4d4d4" stroke="#8a8a8a" stroke-width="0.6"/>
<rect x="285.8" y="417.2" width="10.3" height="4.6" rx="0.9" fill="#121212"/>
<rect x="289.4" y="418.4" width="3.2" height="2.3" fill="#e2e2e2"/>
<text x="112.0" y="428.9" font-size="5.6" fill="#3a3a3a" font-weight="bold" >H</text>
<text x="115.8" y="428.9" font-size="5.6" fill="#6a6a6a" font-weight="normal" >C</text>
<rect x="119.8" y="425.2" width="5.4" height="3.6" rx="1.4" fill="#d4d4d4" stroke="#8a8a8a" stroke-width="0.6"/>
<rect x="126.3" y="424.7" width="10.3" height="4.6" rx="0.9" fill="#121212"/>
<rect x="129.9" y="425.9" width="3.2" height="2.3" fill="#e2e2e2"/>
<text x="207.5" y="511.4" font-size="5.6" fill="#3a3a3a" font-weight="bold" >H</text>
<text x="211.3" y="511.4" font-size="5.6" fill="#6a6a6a" font-weight="normal" >C</text>
<rect x="215.3" y="507.7" width="5.4" height="3.6" rx="1.4" fill="#d4d4d4" stroke="#8a8a8a" stroke-width="0.6"/>
<rect x="221.8" y="507.2" width="10.3" height="4.6" rx="0.9" fill="#121212"/>
<rect x="225.4" y="508.4" width="3.2" height="2.3" fill="#e2e2e2"/>
<text x="518.0" y="210.9" font-size="5.6" fill="#3a3a3a" font-weight="bold" >H</text>
<text x="521.8" y="210.9" font-size="5.6" fill="#6a6a6a" font-weight="normal" >C</text>
<rect x="525.8" y="207.2" width="5.4" height="3.6" rx="1.4" fill="#d4d4d4" stroke="#8a8a8a" stroke-width="0.6"/>
<rect x="532.3" y="206.7" width="10.3" height="4.6" rx="0.9" fill="#121212"/>
<rect x="535.9" y="207.8" width="3.2" height="2.3" fill="#e2e2e2"/>
<text x="364.0" y="285.9" font-size="5.6" fill="#3a3a3a" font-weight="bold" >H</text>
<text x="367.8" y="285.9" font-size="5.6" fill="#6a6a6a" font-weight="normal" >C</text>
<rect x="371.8" y="282.2" width="5.4" height="3.6" rx="1.4" fill="#d4d4d4" stroke="#8a8a8a" stroke-width="0.6"/>
<rect x="378.3" y="281.7" width="10.3" height="4.6" rx="0.9" fill="#121212"/>
<rect x="381.9" y="282.9" width="3.2" height="2.3" fill="#e2e2e2"/>
<text x="396.0" y="284.9" font-size="5.6" fill="#3a3a3a" font-weight="bold" >H</text>
<text x="399.8" y="284.9" font-size="5.6" fill="#6a6a6a" font-weight="normal" >C</text>
<rect x="403.8" y="281.2" width="5.4" height="3.6" rx="1.4" fill="#d4d4d4" stroke="#8a8a8a" stroke-width="0.6"/>
<rect x="410.3" y="280.7" width="10.3" height="4.6" rx="0.9" fill="#121212"/>
<rect x="413.9" y="281.9" width="3.2" height="2.3" fill="#e2e2e2"/>
<text x="491.0" y="284.9" font-size="5.6" fill="#3a3a3a" font-weight="bold" >H</text>
<text x="494.8" y="284.9" font-size="5.6" fill="#6a6a6a" font-weight="normal" >C</text>
<rect x="498.8" y="281.2" width="5.4" height="3.6" rx="1.4" fill="#d4d4d4" stroke="#8a8a8a" stroke-width="0.6"/>
<rect x="505.3" y="280.7" width="10.3" height="4.6" rx="0.9" fill="#121212"/>
<rect x="508.9" y="281.9" width="3.2" height="2.3" fill="#e2e2e2"/>
<text x="528.5" y="283.4" font-size="5.6" fill="#3a3a3a" font-weight="bold" >H</text>
<text x="532.3" y="283.4" font-size="5.6" fill="#6a6a6a" font-weight="normal" >C</text>
<rect x="536.3" y="279.7" width="5.4" height="3.6" rx="1.4" fill="#d4d4d4" stroke="#8a8a8a" stroke-width="0.6"/>
<rect x="542.8" y="279.2" width="10.3" height="4.6" rx="0.9" fill="#121212"/>
<rect x="546.4" y="280.4" width="3.2" height="2.3" fill="#e2e2e2"/>
<text x="592.5" y="220.9" font-size="5.6" fill="#3a3a3a" font-weight="bold" >H</text>
<text x="596.3" y="220.9" font-size="5.6" fill="#6a6a6a" font-weight="normal" >C</text>
<rect x="600.3" y="217.2" width="5.4" height="3.6" rx="1.4" fill="#d4d4d4" stroke="#8a8a8a" stroke-width="0.6"/>
<rect x="606.8" y="216.7" width="10.3" height="4.6" rx="0.9" fill="#121212"/>
<rect x="610.4" y="217.8" width="3.2" height="2.3" fill="#e2e2e2"/>
<text x="642.5" y="214.9" font-size="5.6" fill="#3a3a3a" font-weight="bold" >H</text>
<text x="646.3" y="214.9" font-size="5.6" fill="#6a6a6a" font-weight="normal" >C</text>
<rect x="650.3" y="211.2" width="5.4" height="3.6" rx="1.4" fill="#d4d4d4" stroke="#8a8a8a" stroke-width="0.6"/>
<rect x="656.8" y="210.7" width="10.3" height="4.6" rx="0.9" fill="#121212"/>
<rect x="660.4" y="211.8" width="3.2" height="2.3" fill="#e2e2e2"/>
<text x="627.5" y="309.4" font-size="5.6" fill="#3a3a3a" font-weight="bold" >H</text>
<text x="631.3" y="309.4" font-size="5.6" fill="#6a6a6a" font-weight="normal" >C</text>
<rect x="635.3" y="305.7" width="5.4" height="3.6" rx="1.4" fill="#d4d4d4" stroke="#8a8a8a" stroke-width="0.6"/>
<rect x="641.8" y="305.2" width="10.3" height="4.6" rx="0.9" fill="#121212"/>
<rect x="645.4" y="306.4" width="3.2" height="2.3" fill="#e2e2e2"/>
<text x="657.5" y="303.4" font-size="5.6" fill="#3a3a3a" font-weight="bold" >H</text>
<text x="661.3" y="303.4" font-size="5.6" fill="#6a6a6a" font-weight="normal" >C</text>
<rect x="665.3" y="299.7" width="5.4" height="3.6" rx="1.4" fill="#d4d4d4" stroke="#8a8a8a" stroke-width="0.6"/>
<rect x="671.8" y="299.2" width="10.3" height="4.6" rx="0.9" fill="#121212"/>
<rect x="675.4" y="300.4" width="3.2" height="2.3" fill="#e2e2e2"/>
<text x="726.0" y="215.9" font-size="5.6" fill="#3a3a3a" font-weight="bold" >H</text>
<text x="729.8" y="215.9" font-size="5.6" fill="#6a6a6a" font-weight="normal" >C</text>
<rect x="733.8" y="212.2" width="5.4" height="3.6" rx="1.4" fill="#d4d4d4" stroke="#8a8a8a" stroke-width="0.6"/>
<rect x="740.3" y="211.7" width="10.3" height="4.6" rx="0.9" fill="#121212"/>
<rect x="743.9" y="212.8" width="3.2" height="2.3" fill="#e2e2e2"/>
<text x="811.0" y="213.4" font-size="5.6" fill="#3a3a3a" font-weight="bold" >H</text>
<text x="814.8" y="213.4" font-size="5.6" fill="#6a6a6a" font-weight="normal" >C</text>
<rect x="818.8" y="209.7" width="5.4" height="3.6" rx="1.4" fill="#d4d4d4" stroke="#8a8a8a" stroke-width="0.6"/>
<rect x="825.3" y="209.2" width="10.3" height="4.6" rx="0.9" fill="#121212"/>
<rect x="828.9" y="210.3" width="3.2" height="2.3" fill="#e2e2e2"/>
<text x="859.0" y="221.4" font-size="5.6" fill="#3a3a3a" font-weight="bold" >H</text>
<text x="862.8" y="221.4" font-size="5.6" fill="#6a6a6a" font-weight="normal" >C</text>
<rect x="866.8" y="217.7" width="5.4" height="3.6" rx="1.4" fill="#d4d4d4" stroke="#8a8a8a" stroke-width="0.6"/>
<rect x="873.3" y="217.2" width="10.3" height="4.6" rx="0.9" fill="#121212"/>
<rect x="876.9" y="218.3" width="3.2" height="2.3" fill="#e2e2e2"/>
<text x="705.0" y="286.9" font-size="5.6" fill="#3a3a3a" font-weight="bold" >H</text>
<text x="708.8" y="286.9" font-size="5.6" fill="#6a6a6a" font-weight="normal" >C</text>
<rect x="712.8" y="283.2" width="5.4" height="3.6" rx="1.4" fill="#d4d4d4" stroke="#8a8a8a" stroke-width="0.6"/>
<rect x="719.3" y="282.7" width="10.3" height="4.6" rx="0.9" fill="#121212"/>
<rect x="722.9" y="283.9" width="3.2" height="2.3" fill="#e2e2e2"/>
<text x="757.5" y="288.9" font-size="5.6" fill="#3a3a3a" font-weight="bold" >H</text>
<text x="761.3" y="288.9" font-size="5.6" fill="#6a6a6a" font-weight="normal" >C</text>
<rect x="765.3" y="285.2" width="5.4" height="3.6" rx="1.4" fill="#d4d4d4" stroke="#8a8a8a" stroke-width="0.6"/>
<rect x="771.8" y="284.7" width="10.3" height="4.6" rx="0.9" fill="#121212"/>
<rect x="775.4" y="285.9" width="3.2" height="2.3" fill="#e2e2e2"/>
<text x="864.0" y="276.9" font-size="5.6" fill="#3a3a3a" font-weight="bold" >H</text>
<text x="867.8" y="276.9" font-size="5.6" fill="#6a6a6a" font-weight="normal" >C</text>
<rect x="871.8" y="273.2" width="5.4" height="3.6" rx="1.4" fill="#d4d4d4" stroke="#8a8a8a" stroke-width="0.6"/>
<rect x="878.3" y="272.7" width="10.3" height="4.6" rx="0.9" fill="#121212"/>
<rect x="881.9" y="273.9" width="3.2" height="2.3" fill="#e2e2e2"/>
<text x="867.0" y="285.9" font-size="5.6" fill="#3a3a3a" font-weight="bold" >H</text>
<text x="870.8" y="285.9" font-size="5.6" fill="#6a6a6a" font-weight="normal" >C</text>
<rect x="874.8" y="282.2" width="5.4" height="3.6" rx="1.4" fill="#d4d4d4" stroke="#8a8a8a" stroke-width="0.6"/>
<rect x="881.3" y="281.7" width="10.3" height="4.6" rx="0.9" fill="#121212"/>
<rect x="884.9" y="282.9" width="3.2" height="2.3" fill="#e2e2e2"/>
<text x="349.0" y="416.9" font-size="5.6" fill="#3a3a3a" font-weight="bold" >H</text>
<text x="352.8" y="416.9" font-size="5.6" fill="#6a6a6a" font-weight="normal" >C</text>
<rect x="356.8" y="413.2" width="5.4" height="3.6" rx="1.4" fill="#d4d4d4" stroke="#8a8a8a" stroke-width="0.6"/>
<rect x="363.3" y="412.7" width="10.3" height="4.6" rx="0.9" fill="#121212"/>
<rect x="366.9" y="413.9" width="3.2" height="2.3" fill="#e2e2e2"/>
<text x="391.0" y="420.9" font-size="5.6" fill="#3a3a3a" font-weight="bold" >H</text>
<text x="394.8" y="420.9" font-size="5.6" fill="#6a6a6a" font-weight="normal" >C</text>
<rect x="398.8" y="417.2" width="5.4" height="3.6" rx="1.4" fill="#d4d4d4" stroke="#8a8a8a" stroke-width="0.6"/>
<rect x="405.3" y="416.7" width="10.3" height="4.6" rx="0.9" fill="#121212"/>
<rect x="408.9" y="417.9" width="3.2" height="2.3" fill="#e2e2e2"/>
<text x="427.5" y="416.9" font-size="5.6" fill="#3a3a3a" font-weight="bold" >H</text>
<text x="431.3" y="416.9" font-size="5.6" fill="#6a6a6a" font-weight="normal" >C</text>
<rect x="435.3" y="413.2" width="5.4" height="3.6" rx="1.4" fill="#d4d4d4" stroke="#8a8a8a" stroke-width="0.6"/>
<rect x="441.8" y="412.7" width="10.3" height="4.6" rx="0.9" fill="#121212"/>
<rect x="445.4" y="413.9" width="3.2" height="2.3" fill="#e2e2e2"/>
<text x="427.5" y="426.4" font-size="5.6" fill="#3a3a3a" font-weight="bold" >H</text>
<text x="431.3" y="426.4" font-size="5.6" fill="#6a6a6a" font-weight="normal" >C</text>
<rect x="435.3" y="422.7" width="5.4" height="3.6" rx="1.4" fill="#d4d4d4" stroke="#8a8a8a" stroke-width="0.6"/>
<rect x="441.8" y="422.2" width="10.3" height="4.6" rx="0.9" fill="#121212"/>
<rect x="445.4" y="423.4" width="3.2" height="2.3" fill="#e2e2e2"/>
<text x="490.0" y="419.4" font-size="5.6" fill="#3a3a3a" font-weight="bold" >H</text>
<text x="493.8" y="419.4" font-size="5.6" fill="#6a6a6a" font-weight="normal" >C</text>
<rect x="497.8" y="415.7" width="5.4" height="3.6" rx="1.4" fill="#d4d4d4" stroke="#8a8a8a" stroke-width="0.6"/>
<rect x="504.3" y="415.2" width="10.3" height="4.6" rx="0.9" fill="#121212"/>
<rect x="507.9" y="416.4" width="3.2" height="2.3" fill="#e2e2e2"/>
<text x="529.0" y="421.4" font-size="5.6" fill="#3a3a3a" font-weight="bold" >H</text>
<text x="532.8" y="421.4" font-size="5.6" fill="#6a6a6a" font-weight="normal" >C</text>
<rect x="536.8" y="417.7" width="5.4" height="3.6" rx="1.4" fill="#d4d4d4" stroke="#8a8a8a" stroke-width="0.6"/>
<rect x="543.3" y="417.2" width="10.3" height="4.6" rx="0.9" fill="#121212"/>
<rect x="546.9" y="418.4" width="3.2" height="2.3" fill="#e2e2e2"/>
<text x="624.0" y="364.4" font-size="5.6" fill="#3a3a3a" font-weight="bold" >H</text>
<text x="627.8" y="364.4" font-size="5.6" fill="#6a6a6a" font-weight="normal" >C</text>
<rect x="631.8" y="360.7" width="5.4" height="3.6" rx="1.4" fill="#d4d4d4" stroke="#8a8a8a" stroke-width="0.6"/>
<rect x="638.3" y="360.2" width="10.3" height="4.6" rx="0.9" fill="#121212"/>
<rect x="641.9" y="361.4" width="3.2" height="2.3" fill="#e2e2e2"/>
<text x="630.0" y="389.9" font-size="5.6" fill="#3a3a3a" font-weight="bold" >H</text>
<text x="633.8" y="389.9" font-size="5.6" fill="#6a6a6a" font-weight="normal" >C</text>
<rect x="637.8" y="386.2" width="5.4" height="3.6" rx="1.4" fill="#d4d4d4" stroke="#8a8a8a" stroke-width="0.6"/>
<rect x="644.3" y="385.7" width="10.3" height="4.6" rx="0.9" fill="#121212"/>
<rect x="647.9" y="386.9" width="3.2" height="2.3" fill="#e2e2e2"/>
<text x="624.0" y="439.4" font-size="5.6" fill="#3a3a3a" font-weight="bold" >H</text>
<text x="627.8" y="439.4" font-size="5.6" fill="#6a6a6a" font-weight="normal" >C</text>
<rect x="631.8" y="435.7" width="5.4" height="3.6" rx="1.4" fill="#d4d4d4" stroke="#8a8a8a" stroke-width="0.6"/>
<rect x="638.3" y="435.2" width="10.3" height="4.6" rx="0.9" fill="#121212"/>
<rect x="641.9" y="436.4" width="3.2" height="2.3" fill="#e2e2e2"/>
<text x="624.0" y="448.9" font-size="5.6" fill="#3a3a3a" font-weight="bold" >H</text>
<text x="627.8" y="448.9" font-size="5.6" fill="#6a6a6a" font-weight="normal" >C</text>
<rect x="631.8" y="445.2" width="5.4" height="3.6" rx="1.4" fill="#d4d4d4" stroke="#8a8a8a" stroke-width="0.6"/>
<rect x="638.3" y="444.7" width="10.3" height="4.6" rx="0.9" fill="#121212"/>
<rect x="641.9" y="445.9" width="3.2" height="2.3" fill="#e2e2e2"/>
<text x="627.5" y="466.4" font-size="5.6" fill="#3a3a3a" font-weight="bold" >H</text>
<text x="631.3" y="466.4" font-size="5.6" fill="#6a6a6a" font-weight="normal" >C</text>
<rect x="635.3" y="462.7" width="5.4" height="3.6" rx="1.4" fill="#d4d4d4" stroke="#8a8a8a" stroke-width="0.6"/>
<rect x="641.8" y="462.2" width="10.3" height="4.6" rx="0.9" fill="#121212"/>
<rect x="645.4" y="463.4" width="3.2" height="2.3" fill="#e2e2e2"/>
<text x="527.5" y="516.9" font-size="5.6" fill="#3a3a3a" font-weight="bold" >H</text>
<text x="531.3" y="516.9" font-size="5.6" fill="#6a6a6a" font-weight="normal" >C</text>
<rect x="535.3" y="513.2" width="5.4" height="3.6" rx="1.4" fill="#d4d4d4" stroke="#8a8a8a" stroke-width="0.6"/>
<rect x="541.8" y="512.7" width="10.3" height="4.6" rx="0.9" fill="#121212"/>
<rect x="545.4" y="513.9" width="3.2" height="2.3" fill="#e2e2e2"/>
<text x="457.5" y="517.4" font-size="5.6" fill="#3a3a3a" font-weight="bold" >H</text>
<text x="461.3" y="517.4" font-size="5.6" fill="#6a6a6a" font-weight="normal" >C</text>
<rect x="465.3" y="513.7" width="5.4" height="3.6" rx="1.4" fill="#d4d4d4" stroke="#8a8a8a" stroke-width="0.6"/>
<rect x="471.8" y="513.2" width="10.3" height="4.6" rx="0.9" fill="#121212"/>
<rect x="475.4" y="514.4" width="3.2" height="2.3" fill="#e2e2e2"/>
<text x="264.5" y="421.5" font-size="6.0" fill="#333" font-weight="normal" >+</text>
<path d="M194.5,409.4 L197.6,409.4 M196.1,410.3 L197.6,410.3 M195.0,411.3 L198.1,411.3 M194.5,412.2 L196.5,412.2 M196.3,409.2 L196.3,411.7 M195.6,409.2 L195.6,412.8 M196.3,410.8 L198.1,412.8 " stroke="#333" stroke-width="0.80" fill="none"/>
<path d="M200.6,409.2 L202.6,409.2 M200.6,410.4 L202.6,410.4 M199.5,411.4 L202.6,411.4 M199.5,412.2 L202.1,412.2 M201.5,409.2 L201.5,412.8 M201.5,409.9 L201.5,412.8 M200.8,410.8 L199.0,412.8 " stroke="#333" stroke-width="0.80" fill="none"/>
<path d="M204.0,409.6 L207.1,409.6 M203.5,410.9 L205.5,410.9 M204.0,412.1 L205.5,412.1 M204.6,409.2 L204.6,411.7 M206.7,409.2 L206.7,411.7 M205.3,410.8 L203.5,412.8 " stroke="#333" stroke-width="0.80" fill="none"/>
<text x="194.5" y="417.4" font-size="4.7" fill="#3a3a3a" font-weight="bold" textLength="21.5" lengthAdjust="spacingAndGlyphs">Tire Black</text>
<path d="M208.0,514.6 L211.1,514.6 M208.0,515.9 L211.6,515.9 M208.5,517.1 L211.1,517.1 M211.2,514.2 L211.2,517.8 M210.5,514.2 L210.5,516.7 M209.8,515.8 L211.6,517.8 " stroke="#333" stroke-width="0.80" fill="none"/>
<path d="M212.5,514.5 L216.1,514.5 M212.5,515.9 L214.5,515.9 M212.5,517.2 L216.1,517.2 M215.0,514.2 L215.0,516.7 M214.3,514.2 L214.3,516.7 M214.3,515.8 L212.5,517.8 " stroke="#333" stroke-width="0.80" fill="none"/>
<path d="M217.0,514.3 L219.0,514.3 M217.5,516.5 L220.6,516.5 M218.1,514.9 L218.1,516.7 M218.8,515.8 L220.6,517.8 " stroke="#333" stroke-width="0.80" fill="none"/>
<text x="208.0" y="522.4" font-size="4.7" fill="#3a3a3a" font-weight="bold" textLength="21.5" lengthAdjust="spacingAndGlyphs">Tire Black</text>
<path d="M593.0,223.5 L596.1,223.5 M594.6,224.7 L596.1,224.7 M593.5,226.2 L596.1,226.2 M594.8,223.2 L594.8,225.7 M594.8,223.9 L594.8,225.7 M594.8,223.2 L594.8,225.7 M594.8,224.8 L593.0,226.8 " stroke="#333" stroke-width="0.80" fill="none"/>
<path d="M598.0,223.2 L601.1,223.2 M598.0,224.7 L601.1,224.7 M597.5,226.2 L601.1,226.2 M598.6,223.2 L598.6,225.7 M600.7,223.2 L600.7,226.8 " stroke="#333" stroke-width="0.80" fill="none"/>
<path d="M602.5,223.2 L604.0,223.2 M602.0,224.7 L604.0,224.7 M602.5,226.1 L605.6,226.1 M603.1,223.2 L603.1,226.8 M603.1,223.2 L603.1,226.8 " stroke="#333" stroke-width="0.80" fill="none"/>
<text x="593.0" y="231.4" font-size="4.7" fill="#3a3a3a" font-weight="bold" textLength="21.5" lengthAdjust="spacingAndGlyphs">Tire Black</text>
<path d="M628.0,312.0 L631.6,312.0 M628.0,313.4 L631.6,313.4 M629.6,314.8 L631.6,314.8 M630.5,311.7 L630.5,315.3 " stroke="#333" stroke-width="0.80" fill="none"/>
<path d="M632.5,311.9 L636.1,311.9 M632.5,312.9 L635.6,312.9 M632.5,313.9 L636.1,313.9 M634.1,315.0 L636.1,315.0 M635.7,311.7 L635.7,315.3 M635.7,311.7 L635.7,315.3 M634.3,313.3 L636.1,315.3 " stroke="#333" stroke-width="0.80" fill="none"/>
<path d="M637.0,312.0 L640.1,312.0 M637.0,313.1 L640.6,313.1 M637.5,314.9 L640.1,314.9 M638.8,311.7 L638.8,314.2 M637.4,311.7 L637.4,314.2 M638.8,313.3 L637.0,315.3 " stroke="#333" stroke-width="0.80" fill="none"/>
<text x="628.0" y="319.9" font-size="4.7" fill="#3a3a3a" font-weight="bold" textLength="21.5" lengthAdjust="spacingAndGlyphs">Tire Black</text>
<path d="M861.1,223.9 L862.6,223.9 M859.5,225.3 L861.5,225.3 M859.5,226.6 L862.6,226.6 M861.3,224.4 L861.3,226.2 M862.0,224.4 L862.0,227.3 " stroke="#333" stroke-width="0.80" fill="none"/>
<path d="M864.0,224.0 L867.6,224.0 M864.0,225.5 L867.1,225.5 M864.0,226.8 L867.6,226.8 M867.2,224.4 L867.2,227.3 M865.1,224.4 L865.1,227.3 M865.8,225.3 L864.0,227.3 " stroke="#333" stroke-width="0.80" fill="none"/>
<path d="M868.5,223.8 L872.1,223.8 M868.5,225.3 L870.5,225.3 M870.1,226.8 L871.6,226.8 M871.7,224.4 L871.7,227.3 M870.3,225.3 L868.5,227.3 " stroke="#333" stroke-width="0.80" fill="none"/>
<text x="859.5" y="231.9" font-size="4.7" fill="#3a3a3a" font-weight="bold" textLength="21.5" lengthAdjust="spacingAndGlyphs">Tire Black</text>
<path d="M458.5,520.4 L460.0,520.4 M458.0,521.8 L461.6,521.8 M458.5,523.2 L461.1,523.2 M459.8,520.9 L459.8,523.8 M461.2,520.2 L461.2,523.8 M459.1,520.2 L459.1,523.8 M459.8,521.8 L458.0,523.8 " stroke="#333" stroke-width="0.80" fill="none"/>
<path d="M462.5,520.3 L466.1,520.3 M464.1,522.0 L466.1,522.0 M462.5,523.0 L466.1,523.0 M464.3,520.2 L464.3,523.8 M463.6,520.2 L463.6,523.8 " stroke="#333" stroke-width="0.80" fill="none"/>
<path d="M468.6,520.2 L470.1,520.2 M467.0,521.2 L470.6,521.2 M467.5,522.2 L470.6,522.2 M468.6,523.2 L470.1,523.2 M470.2,520.2 L470.2,522.7 M469.5,520.2 L469.5,523.8 M469.5,520.2 L469.5,522.7 M468.8,521.8 L467.0,523.8 " stroke="#333" stroke-width="0.80" fill="none"/>
<text x="458.0" y="528.4" font-size="4.7" fill="#3a3a3a" font-weight="bold" textLength="21.5" lengthAdjust="spacingAndGlyphs">Tire Black</text>
<line x1="548.0" y1="148.0" x2="548.0" y2="182.3" stroke="#555" stroke-width="1.00" />
<line x1="578.3" y1="148.6" x2="578.3" y2="182.4" stroke="#555" stroke-width="1.00" />
<line x1="626.0" y1="149.3" x2="626.0" y2="182.5" stroke="#555" stroke-width="1.00" />
<line x1="656.0" y1="149.7" x2="656.0" y2="182.6" stroke="#555" stroke-width="1.00" />
<line x1="706.3" y1="150.3" x2="706.3" y2="182.7" stroke="#555" stroke-width="1.00" />
<line x1="736.0" y1="150.4" x2="736.0" y2="182.6" stroke="#555" stroke-width="1.00" />
<line x1="786.4" y1="150.0" x2="787.3" y2="182.0" stroke="#555" stroke-width="1.00" />
<line x1="818.0" y1="148.6" x2="818.9" y2="180.6" stroke="#555" stroke-width="1.00" />
<line x1="868.3" y1="145.4" x2="872.8" y2="177.3" stroke="#555" stroke-width="1.00" />
<path d="M548.0,148.0 C558.1,148.2 568.2,148.4 578.3,148.6 C594.2,148.9 610.1,149.1 626.0,149.3 C636.0,149.4 646.0,149.6 656.0,149.7 C672.8,149.9 689.5,150.2 706.3,150.3 C716.2,150.4 726.1,150.4 736.0,150.4 C752.8,150.3 769.6,150.4 786.4,150.0 C796.9,149.8 807.5,149.2 818.0,148.6 C834.8,147.7 851.5,146.5 868.3,145.4" fill="none" stroke="#555" stroke-width="1.00" />
<path d="M548.0,159.8 C558.1,160.0 568.2,160.1 578.3,160.3 C594.2,160.4 610.1,160.6 626.0,160.8 C636.0,160.9 646.0,161.0 656.0,161.1 C672.8,161.2 689.5,161.4 706.3,161.5 C716.2,161.5 726.1,161.6 736.0,161.5 C752.9,161.4 769.8,161.4 786.7,161.0 C797.3,160.8 807.8,160.2 818.3,159.6 C835.5,158.7 852.7,157.5 869.9,156.4" fill="none" stroke="#555" stroke-width="1.00" />
<path d="M548.0,171.2 C558.1,171.2 568.2,171.3 578.3,171.4 C594.2,171.5 610.1,171.6 626.0,171.7 C636.0,171.8 646.0,171.9 656.0,171.9 C672.8,172.0 689.5,172.1 706.3,172.2 C716.2,172.2 726.1,172.2 736.0,172.1 C753.0,172.0 770.0,172.0 787.0,171.6 C797.5,171.4 808.1,170.8 818.6,170.2 C836.2,169.2 853.8,168.0 871.3,166.9" fill="none" stroke="#555" stroke-width="1.00" />
<path d="M548.0,182.3 C558.1,182.3 568.2,182.4 578.3,182.4 C594.2,182.4 610.1,182.5 626.0,182.5 C636.0,182.5 646.0,182.6 656.0,182.6 C672.8,182.6 689.5,182.7 706.3,182.7 C716.2,182.7 726.1,182.7 736.0,182.6 C753.1,182.5 770.2,182.4 787.3,182.0 C797.8,181.7 808.4,181.2 818.9,180.6 C836.9,179.6 854.8,178.4 872.8,177.3" fill="none" stroke="#555" stroke-width="1.00" />
<g transform="rotate(0.97 548.0 153.8)">
<text x="553.0" y="155.7" font-size="5.6" fill="#3a3a3a" font-weight="bold" >H</text>
<text x="556.8" y="155.7" font-size="5.6" fill="#6a6a6a" font-weight="normal" >C</text>
<rect x="560.8" y="152.0" width="5.4" height="3.6" rx="1.4" fill="#d4d4d4" stroke="#8a8a8a" stroke-width="0.6"/>
<rect x="564.7" y="151.5" width="10.3" height="4.6" rx="0.9" fill="#121212"/>
<rect x="568.3" y="152.7" width="3.2" height="2.3" fill="#e2e2e2"/>
<path d="M582.8,153.1 L584.2,153.1 M582.8,154.2 L585.4,154.2 M582.8,155.3 L584.2,155.3 M583.6,153.6 L583.6,155.6 M585.1,153.0 L585.1,155.6 M584.6,153.0 L584.6,155.6 M584.1,154.2 L585.4,155.6 " stroke="#555" stroke-width="0.60" fill="none"/>
<path d="M586.5,153.2 L588.7,153.2 M586.5,154.1 L588.3,154.1 M586.1,155.3 L588.7,155.3 M587.4,153.0 L587.4,154.9 M586.4,153.0 L586.4,154.9 M587.9,153.0 L587.9,155.6 M587.4,154.2 L586.1,155.6 " stroke="#555" stroke-width="0.60" fill="none"/>
<text x="593.8" y="156.0" font-size="4.6" fill="#484848" font-weight="normal" >White</text>
</g>
<g transform="rotate(0.65 548.0 165.5)">
<text x="553.0" y="167.4" font-size="5.6" fill="#3a3a3a" font-weight="bold" >H</text>
<text x="556.8" y="167.4" font-size="5.6" fill="#6a6a6a" font-weight="normal" >C</text>
<rect x="560.8" y="163.7" width="5.4" height="3.6" rx="1.4" fill="#d4d4d4" stroke="#8a8a8a" stroke-width="0.6"/>
<rect x="564.7" y="163.2" width="10.3" height="4.6" rx="0.9" fill="#121212"/>
<rect x="568.3" y="164.3" width="3.2" height="2.3" fill="#e2e2e2"/>
<path d="M582.8,164.8 L585.4,164.8 M582.8,165.7 L585.4,165.7 M582.8,166.6 L585.4,166.6 M584.6,164.5 L584.6,166.4 " stroke="#555" stroke-width="0.60" fill="none"/>
<path d="M586.1,164.8 L588.7,164.8 M586.1,165.6 L588.7,165.6 M586.1,166.6 L588.7,166.6 M586.9,165.1 L586.9,166.4 M587.4,165.7 L588.7,167.1 " stroke="#555" stroke-width="0.60" fill="none"/>
<text x="593.8" y="167.5" font-size="4.6" fill="#484848" font-weight="normal" >Brown</text>
</g>
<g transform="rotate(0.34 548.0 176.8)">
<text x="553.0" y="178.7" font-size="5.6" fill="#3a3a3a" font-weight="bold" >H</text>
<text x="556.8" y="178.7" font-size="5.6" fill="#6a6a6a" font-weight="normal" >C</text>
<rect x="560.8" y="175.0" width="5.4" height="3.6" rx="1.4" fill="#d4d4d4" stroke="#8a8a8a" stroke-width="0.6"/>
<rect x="564.7" y="174.5" width="10.3" height="4.6" rx="0.9" fill="#121212"/>
<rect x="568.3" y="175.7" width="3.2" height="2.3" fill="#e2e2e2"/>
<path d="M584.0,175.8 L585.0,175.8 M583.2,176.6 L585.4,176.6 M582.8,177.3 L584.2,177.3 M584.0,178.0 L585.0,178.0 M583.1,175.7 L583.1,178.3 M584.1,175.7 L584.1,178.3 M584.1,176.9 L582.8,178.3 " stroke="#555" stroke-width="0.60" fill="none"/>
<path d="M587.3,176.0 L588.3,176.0 M587.3,177.8 L588.7,177.8 M588.4,175.7 L588.4,177.5 M586.4,175.7 L586.4,177.5 M587.4,175.7 L587.4,178.3 " stroke="#555" stroke-width="0.60" fill="none"/>
<text x="593.8" y="178.7" font-size="4.6" fill="#484848" font-weight="normal" >Silver</text>
</g>
<g transform="rotate(0.67 626.0 154.9)">
<text x="631.0" y="156.8" font-size="5.6" fill="#3a3a3a" font-weight="bold" >H</text>
<text x="634.8" y="156.8" font-size="5.6" fill="#6a6a6a" font-weight="normal" >C</text>
<rect x="638.8" y="153.1" width="5.4" height="3.6" rx="1.4" fill="#d4d4d4" stroke="#8a8a8a" stroke-width="0.6"/>
<rect x="642.7" y="152.6" width="10.3" height="4.6" rx="0.9" fill="#121212"/>
<rect x="646.3" y="153.8" width="3.2" height="2.3" fill="#e2e2e2"/>
<path d="M660.9,152.1 L662.9,152.1 M660.5,152.9 L662.9,152.9 M660.9,154.0 L661.8,154.0 M660.7,152.4 L660.7,154.3 M662.2,151.9 L662.2,154.3 " stroke="#555" stroke-width="0.60" fill="none"/>
<path d="M664.0,152.0 L666.0,152.0 M664.0,153.0 L666.0,153.0 M663.6,153.7 L666.0,153.7 M665.8,151.9 L665.8,154.3 M664.8,153.0 L666.0,154.3 " stroke="#555" stroke-width="0.60" fill="none"/>
<path d="M667.1,151.9 L669.1,151.9 M666.7,152.9 L668.0,152.9 M666.7,154.0 L669.1,154.0 M667.9,151.9 L667.9,154.3 M667.9,153.0 L666.7,154.3 " stroke="#555" stroke-width="0.60" fill="none"/>
<path d="M670.2,152.0 L671.8,152.0 M670.2,152.9 L672.2,152.9 M669.8,154.0 L671.8,154.0 M672.0,151.9 L672.0,154.3 M670.5,152.4 L670.5,154.3 M671.0,153.0 L672.2,154.3 " stroke="#555" stroke-width="0.60" fill="none"/>
<text x="660.5" y="158.7" font-size="4.4" fill="#484848" font-weight="normal" textLength="38" lengthAdjust="spacingAndGlyphs">Light Grey green</text>
</g>
<g transform="rotate(0.47 626.0 166.2)">
<text x="631.0" y="168.1" font-size="5.6" fill="#3a3a3a" font-weight="bold" >H</text>
<text x="634.8" y="168.1" font-size="5.6" fill="#6a6a6a" font-weight="normal" >C</text>
<rect x="638.8" y="164.4" width="5.4" height="3.6" rx="1.4" fill="#d4d4d4" stroke="#8a8a8a" stroke-width="0.6"/>
<rect x="642.7" y="163.9" width="10.3" height="4.6" rx="0.9" fill="#121212"/>
<rect x="646.3" y="165.1" width="3.2" height="2.3" fill="#e2e2e2"/>
<path d="M660.5,165.3 L663.1,165.3 M661.7,166.4 L663.1,166.4 M660.5,167.3 L663.1,167.3 M662.8,165.2 L662.8,167.0 M662.3,165.2 L662.3,167.0 M661.8,166.3 L660.5,167.8 " stroke="#555" stroke-width="0.60" fill="none"/>
<path d="M665.0,165.4 L666.0,165.4 M663.8,166.9 L666.0,166.9 M664.1,165.2 L664.1,167.8 M665.1,165.2 L665.1,167.0 M665.1,166.3 L666.4,167.8 " stroke="#555" stroke-width="0.60" fill="none"/>
<path d="M667.5,165.4 L668.5,165.4 M668.3,166.2 L669.3,166.2 M668.3,167.4 L669.7,167.4 M669.4,165.2 L669.4,167.0 M667.9,165.7 L667.9,167.0 M668.9,165.7 L668.9,167.8 M668.4,166.3 L667.1,167.8 " stroke="#555" stroke-width="0.60" fill="none"/>
<text x="674.5" y="168.2" font-size="4.6" fill="#484848" font-weight="normal" >Metal Black</text>
</g>
<g transform="rotate(0.28 626.0 177.2)">
<text x="631.0" y="179.1" font-size="5.6" fill="#3a3a3a" font-weight="bold" >H</text>
<text x="634.8" y="179.1" font-size="5.6" fill="#6a6a6a" font-weight="normal" >C</text>
<rect x="638.8" y="175.4" width="5.4" height="3.6" rx="1.4" fill="#d4d4d4" stroke="#8a8a8a" stroke-width="0.6"/>
<rect x="642.7" y="174.9" width="10.3" height="4.6" rx="0.9" fill="#121212"/>
<rect x="646.3" y="176.0" width="3.2" height="2.3" fill="#e2e2e2"/>
<path d="M660.9,174.2 L661.8,174.2 M660.9,175.0 L662.9,175.0 M660.9,175.8 L662.9,175.8 M662.7,173.9 L662.7,176.3 M661.7,173.9 L661.7,175.6 M661.7,175.0 L662.9,176.3 " stroke="#555" stroke-width="0.60" fill="none"/>
<path d="M663.6,174.2 L664.9,174.2 M663.6,175.6 L666.0,175.6 M663.8,173.9 L663.8,176.3 M664.3,174.4 L664.3,175.6 " stroke="#555" stroke-width="0.60" fill="none"/>
<path d="M666.7,174.0 L669.1,174.0 M666.7,175.6 L668.0,175.6 M668.4,174.4 L668.4,176.3 M667.4,173.9 L667.4,175.6 M668.4,174.4 L668.4,176.3 M667.9,175.0 L666.7,176.3 " stroke="#555" stroke-width="0.60" fill="none"/>
<path d="M669.8,174.0 L671.8,174.0 M669.8,175.8 L671.8,175.8 M670.5,173.9 L670.5,176.3 M671.5,173.9 L671.5,175.6 M671.0,175.0 L672.2,176.3 " stroke="#555" stroke-width="0.60" fill="none"/>
<text x="660.5" y="180.7" font-size="4.4" fill="#484848" font-weight="normal" textLength="30" lengthAdjust="spacingAndGlyphs">Dark Gray(1)</text>
</g>
<g transform="rotate(0.13 706.3 155.8)">
<text x="711.3" y="157.7" font-size="5.6" fill="#3a3a3a" font-weight="bold" >H</text>
<text x="715.1" y="157.7" font-size="5.6" fill="#6a6a6a" font-weight="normal" >C</text>
<rect x="719.1" y="154.0" width="5.4" height="3.6" rx="1.4" fill="#d4d4d4" stroke="#8a8a8a" stroke-width="0.6"/>
<rect x="723.0" y="153.5" width="10.3" height="4.6" rx="0.9" fill="#121212"/>
<rect x="726.6" y="154.7" width="3.2" height="2.3" fill="#e2e2e2"/>
<path d="M740.5,152.7 L741.8,152.7 M740.5,153.2 L742.9,153.2 M740.5,153.9 L742.9,153.9 M740.9,154.6 L742.5,154.6 M742.2,153.0 L742.2,154.2 M742.7,152.5 L742.7,154.2 " stroke="#555" stroke-width="0.60" fill="none"/>
<path d="M744.7,152.6 L746.0,152.6 M744.0,153.6 L746.0,153.6 M743.6,154.6 L745.6,154.6 M745.8,152.5 L745.8,154.9 M744.3,152.5 L744.3,154.9 M744.8,153.6 L746.0,154.9 " stroke="#555" stroke-width="0.60" fill="none"/>
<path d="M746.7,152.6 L749.1,152.6 M746.7,154.3 L748.0,154.3 M748.9,152.5 L748.9,154.2 M746.9,152.5 L746.9,154.9 M747.9,153.6 L746.7,154.9 " stroke="#555" stroke-width="0.60" fill="none"/>
<path d="M750.2,152.7 L752.2,152.7 M750.2,153.5 L751.8,153.5 M749.8,154.5 L752.2,154.5 M751.0,152.5 L751.0,154.2 M751.0,153.6 L752.2,154.9 " stroke="#555" stroke-width="0.60" fill="none"/>
<text x="740.5" y="159.3" font-size="4.4" fill="#484848" font-weight="normal" textLength="30" lengthAdjust="spacingAndGlyphs">Dark Gray(2)</text>
</g>
<g transform="rotate(-0.00 706.3 166.8)">
<text x="711.3" y="168.7" font-size="5.6" fill="#3a3a3a" font-weight="bold" >H</text>
<text x="715.1" y="168.7" font-size="5.6" fill="#6a6a6a" font-weight="normal" >C</text>
<rect x="719.1" y="165.0" width="5.4" height="3.6" rx="1.4" fill="#d4d4d4" stroke="#8a8a8a" stroke-width="0.6"/>
<rect x="723.0" y="164.5" width="10.3" height="4.6" rx="0.9" fill="#121212"/>
<rect x="726.6" y="165.7" width="3.2" height="2.3" fill="#e2e2e2"/>
<path d="M740.9,165.6 L743.1,165.6 M740.5,166.7 L741.9,166.7 M740.5,167.7 L742.7,167.7 M742.8,165.5 L742.8,168.1 M742.3,166.0 L742.3,168.1 M742.8,165.5 L742.8,167.3 M741.8,166.7 L740.5,168.1 " stroke="#555" stroke-width="0.60" fill="none"/>
<path d="M745.0,165.7 L746.4,165.7 M744.2,167.6 L746.4,167.6 M745.1,165.5 L745.1,168.1 M744.1,165.5 L744.1,168.1 M744.1,166.0 L744.1,167.3 M745.1,166.7 L743.8,168.1 " stroke="#555" stroke-width="0.60" fill="none"/>
<path d="M747.5,165.6 L749.7,165.6 M747.5,166.4 L748.5,166.4 M748.3,167.0 L749.7,167.0 M747.1,167.8 L748.5,167.8 M747.9,165.5 L747.9,168.1 M748.4,166.7 L747.1,168.1 " stroke="#555" stroke-width="0.60" fill="none"/>
<text x="754.5" y="168.5" font-size="4.6" fill="#484848" font-weight="bold" >Flat black</text>
</g>
<g transform="rotate(-0.13 706.3 177.5)">
<text x="711.3" y="179.4" font-size="5.6" fill="#3a3a3a" font-weight="bold" >H</text>
<text x="715.1" y="179.4" font-size="5.6" fill="#6a6a6a" font-weight="normal" >C</text>
<rect x="719.1" y="175.7" width="5.4" height="3.6" rx="1.4" fill="#d4d4d4" stroke="#8a8a8a" stroke-width="0.6"/>
<rect x="723.0" y="175.2" width="10.3" height="4.6" rx="0.9" fill="#121212"/>
<rect x="726.6" y="176.4" width="3.2" height="2.3" fill="#e2e2e2"/>
<path d="M740.9,176.2 L742.7,176.2 M740.5,177.4 L741.9,177.4 M741.7,178.4 L743.1,178.4 M742.8,176.1 L742.8,178.7 M742.3,176.7 L742.3,178.7 M741.8,177.3 L743.1,178.7 " stroke="#555" stroke-width="0.60" fill="none"/>
<path d="M745.0,176.3 L746.4,176.3 M743.8,177.2 L746.4,177.2 M743.8,178.3 L746.4,178.3 M744.1,176.7 L744.1,178.7 M745.1,176.7 L745.1,178.7 M745.1,177.3 L743.8,178.7 " stroke="#555" stroke-width="0.60" fill="none"/>
<text x="751.5" y="179.1" font-size="4.6" fill="#484848" font-weight="bold" >Orange</text>
</g>
<g transform="rotate(-2.54 786.6 155.4)">
<text x="791.6" y="157.3" font-size="5.6" fill="#3a3a3a" font-weight="bold" >H</text>
<text x="795.4" y="157.3" font-size="5.6" fill="#6a6a6a" font-weight="normal" >C</text>
<rect x="799.4" y="153.6" width="5.4" height="3.6" rx="1.4" fill="#d4d4d4" stroke="#8a8a8a" stroke-width="0.6"/>
<rect x="803.3" y="153.1" width="10.3" height="4.6" rx="0.9" fill="#121212"/>
<rect x="806.9" y="154.3" width="3.2" height="2.3" fill="#e2e2e2"/>
<path d="M823.8,152.8 L825.3,152.8 M822.7,153.9 L825.3,153.9 M823.0,154.9 L825.3,154.9 M824.0,152.7 L824.0,155.3 M825.0,152.7 L825.0,155.3 " stroke="#555" stroke-width="0.60" fill="none"/>
<path d="M826.0,152.8 L828.6,152.8 M826.0,153.5 L828.6,153.5 M827.1,154.3 L828.2,154.3 M826.0,155.1 L828.6,155.1 M827.8,152.7 L827.8,154.6 M826.7,152.7 L826.7,154.6 M827.3,153.9 L826.0,155.3 " stroke="#555" stroke-width="0.60" fill="none"/>
<text x="833.7" y="155.7" font-size="4.6" fill="#484848" font-weight="bold" >Bright Green</text>
</g>
<g transform="rotate(-2.54 786.9 166.3)">
<text x="791.9" y="168.2" font-size="5.6" fill="#3a3a3a" font-weight="bold" >H</text>
<text x="795.7" y="168.2" font-size="5.6" fill="#6a6a6a" font-weight="normal" >C</text>
<rect x="799.7" y="164.5" width="5.4" height="3.6" rx="1.4" fill="#d4d4d4" stroke="#8a8a8a" stroke-width="0.6"/>
<rect x="803.6" y="164.0" width="10.3" height="4.6" rx="0.9" fill="#121212"/>
<rect x="807.2" y="165.2" width="3.2" height="2.3" fill="#e2e2e2"/>
<path d="M823.0,163.9 L825.6,163.9 M823.0,165.6 L825.6,165.6 M824.8,163.6 L824.8,165.4 M824.8,163.6 L824.8,166.2 " stroke="#555" stroke-width="0.60" fill="none"/>
<path d="M827.4,163.8 L828.9,163.8 M826.3,164.7 L827.7,164.7 M826.3,165.8 L828.9,165.8 M828.6,163.6 L828.6,166.2 M826.5,163.6 L826.5,166.2 M827.6,164.8 L828.9,166.2 " stroke="#555" stroke-width="0.60" fill="none"/>
<text x="834.0" y="166.6" font-size="4.6" fill="#484848" font-weight="bold" >Red Madder</text>
</g>
<g transform="rotate(-2.54 787.2 176.9)">
<text x="792.2" y="178.8" font-size="5.6" fill="#3a3a3a" font-weight="bold" >H</text>
<text x="796.0" y="178.8" font-size="5.6" fill="#6a6a6a" font-weight="normal" >C</text>
<rect x="800.0" y="175.1" width="5.4" height="3.6" rx="1.4" fill="#d4d4d4" stroke="#8a8a8a" stroke-width="0.6"/>
<rect x="803.9" y="174.6" width="10.3" height="4.6" rx="0.9" fill="#121212"/>
<rect x="807.5" y="175.7" width="3.2" height="2.3" fill="#e2e2e2"/>
<path d="M823.3,172.1 L825.7,172.1 M823.3,173.7 L825.7,173.7 M825.4,172.1 L825.4,174.5 M825.4,172.1 L825.4,174.5 M824.0,172.1 L824.0,174.5 M824.5,173.2 L825.7,174.5 " stroke="#555" stroke-width="0.60" fill="none"/>
<path d="M826.4,172.3 L828.8,172.3 M826.7,173.2 L828.4,173.2 M827.4,174.0 L828.4,174.0 M828.5,172.6 L828.5,174.5 M826.6,172.1 L826.6,174.5 M828.5,172.1 L828.5,173.8 M827.6,173.2 L828.8,174.5 " stroke="#555" stroke-width="0.60" fill="none"/>
<path d="M829.5,172.2 L831.9,172.2 M830.5,173.3 L831.9,173.3 M829.5,174.1 L831.9,174.1 M830.7,172.6 L830.7,173.8 M829.7,172.1 L829.7,174.5 M830.7,173.2 L831.9,174.5 " stroke="#555" stroke-width="0.60" fill="none"/>
<path d="M833.6,172.2 L834.6,172.2 M833.6,173.9 L835.0,173.9 M834.2,172.1 L834.2,174.5 M833.8,172.6 L833.8,174.5 M832.8,172.1 L832.8,174.5 M833.8,173.2 L835.0,174.5 " stroke="#555" stroke-width="0.60" fill="none"/>
<text x="823.3" y="178.9" font-size="4.4" fill="#484848" font-weight="bold" textLength="38" lengthAdjust="spacingAndGlyphs">Intermediate Blue</text>
</g>
<rect x="368.7" y="206.9" width="1.4" height="2.2" fill="#999"/>
<rect x="370.8" y="206.9" width="1.4" height="2.2" fill="#999"/>
<rect x="380.0" y="206.9" width="1.4" height="2.2" fill="#999"/>
<rect x="382.1" y="206.9" width="1.4" height="2.2" fill="#999"/>
<rect x="417.0" y="209.9" width="1.4" height="2.2" fill="#999"/>
<rect x="447.5" y="209.9" width="1.4" height="2.2" fill="#999"/>
<rect x="482.0" y="209.9" width="1.4" height="2.2" fill="#999"/>
<rect x="484.1" y="209.9" width="1.4" height="2.2" fill="#999"/>
<rect x="510.7" y="206.9" width="1.4" height="2.2" fill="#999"/>
<rect x="546.0" y="209.9" width="1.4" height="2.2" fill="#999"/>
<rect x="561.0" y="211.4" width="1.4" height="2.2" fill="#999"/>
<rect x="454.0" y="276.9" width="1.4" height="2.2" fill="#999"/>
<rect x="456.1" y="276.9" width="1.4" height="2.2" fill="#999"/>
<rect x="475.0" y="277.9" width="1.4" height="2.2" fill="#999"/>
<rect x="477.1" y="277.9" width="1.4" height="2.2" fill="#999"/>
<rect x="424.0" y="277.9" width="1.4" height="2.2" fill="#999"/>
<rect x="426.1" y="277.9" width="1.4" height="2.2" fill="#999"/>
<rect x="690.0" y="230.9" width="1.4" height="2.2" fill="#999"/>
<rect x="711.0" y="220.9" width="1.4" height="2.2" fill="#999"/>
<rect x="726.0" y="220.9" width="1.4" height="2.2" fill="#999"/>
<rect x="765.0" y="219.9" width="1.4" height="2.2" fill="#999"/>
<rect x="792.0" y="214.9" width="1.4" height="2.2" fill="#999"/>
<rect x="815.0" y="221.9" width="1.4" height="2.2" fill="#999"/>
<rect x="817.1" y="221.9" width="1.4" height="2.2" fill="#999"/>
<rect x="676.0" y="280.9" width="1.4" height="2.2" fill="#999"/>
<rect x="678.1" y="280.9" width="1.4" height="2.2" fill="#999"/>
<rect x="692.0" y="300.9" width="1.4" height="2.2" fill="#999"/>
<rect x="694.1" y="300.9" width="1.4" height="2.2" fill="#999"/>
<rect x="711.0" y="300.9" width="1.4" height="2.2" fill="#999"/>
<rect x="745.0" y="293.9" width="1.4" height="2.2" fill="#999"/>
<rect x="747.1" y="293.9" width="1.4" height="2.2" fill="#999"/>
<rect x="806.0" y="298.9" width="1.4" height="2.2" fill="#999"/>
<rect x="808.1" y="298.9" width="1.4" height="2.2" fill="#999"/>
<rect x="817.0" y="298.9" width="1.4" height="2.2" fill="#999"/>
<rect x="819.1" y="298.9" width="1.4" height="2.2" fill="#999"/>
<rect x="846.0" y="290.9" width="1.4" height="2.2" fill="#999"/>
<rect x="862.0" y="291.9" width="1.4" height="2.2" fill="#999"/>
<rect x="864.1" y="291.9" width="1.4" height="2.2" fill="#999"/>
<rect x="330.0" y="450.9" width="1.4" height="2.2" fill="#999"/>
<rect x="344.0" y="501.9" width="1.4" height="2.2" fill="#999"/>
<rect x="346.1" y="501.9" width="1.4" height="2.2" fill="#999"/>
<rect x="382.0" y="501.9" width="1.4" height="2.2" fill="#999"/>
<rect x="384.1" y="501.9" width="1.4" height="2.2" fill="#999"/>
<rect x="393.0" y="501.9" width="1.4" height="2.2" fill="#999"/>
<rect x="418.0" y="500.9" width="1.4" height="2.2" fill="#999"/>
<rect x="420.1" y="500.9" width="1.4" height="2.2" fill="#999"/>
<rect x="438.0" y="500.9" width="1.4" height="2.2" fill="#999"/>
<rect x="502.0" y="501.9" width="1.4" height="2.2" fill="#999"/>
<rect x="504.1" y="501.9" width="1.4" height="2.2" fill="#999"/>
<rect x="562.0" y="501.9" width="1.4" height="2.2" fill="#999"/>
<rect x="564.1" y="501.9" width="1.4" height="2.2" fill="#999"/>
<rect x="575.0" y="500.9" width="1.4" height="2.2" fill="#999"/>
<rect x="577.1" y="500.9" width="1.4" height="2.2" fill="#999"/>
<rect x="466.0" y="425.9" width="1.4" height="2.2" fill="#999"/>
<rect x="468.1" y="425.9" width="1.4" height="2.2" fill="#999"/>
<rect x="509.0" y="424.9" width="1.4" height="2.2" fill="#999"/>
<rect x="511.1" y="424.9" width="1.4" height="2.2" fill="#999"/>
<rect x="537.0" y="420.9" width="1.4" height="2.2" fill="#999"/>
<rect x="553.0" y="419.9" width="1.4" height="2.2" fill="#999"/>
<rect x="555.1" y="419.9" width="1.4" height="2.2" fill="#999"/>
<rect x="594.0" y="419.9" width="1.4" height="2.2" fill="#999"/>
<rect x="700.0" y="285.9" width="1.4" height="2.2" fill="#999"/>
<rect x="702.1" y="285.9" width="1.4" height="2.2" fill="#999"/>
<rect x="655.0" y="275.9" width="1.4" height="2.2" fill="#999"/>
<rect x="657.1" y="275.9" width="1.4" height="2.2" fill="#999"/>
<rect x="884.0" y="266.9" width="1.4" height="2.2" fill="#999"/>
<rect x="886.1" y="266.9" width="1.4" height="2.2" fill="#999"/>
<line x1="418.0" y1="213.0" x2="418.0" y2="232.0" stroke="#c4c6c8" stroke-width="0.50" />
<line x1="448.5" y1="213.0" x2="448.5" y2="226.0" stroke="#c4c6c8" stroke-width="0.50" />
<line x1="483.0" y1="213.0" x2="483.0" y2="222.0" stroke="#c4c6c8" stroke-width="0.50" />
<line x1="511.7" y1="210.0" x2="511.7" y2="217.0" stroke="#c4c6c8" stroke-width="0.50" />
<line x1="547.0" y1="213.0" x2="547.0" y2="222.0" stroke="#c4c6c8" stroke-width="0.50" />
<line x1="712.0" y1="224.0" x2="712.0" y2="236.0" stroke="#c4c6c8" stroke-width="0.50" />
<line x1="727.0" y1="224.0" x2="727.0" y2="236.0" stroke="#c4c6c8" stroke-width="0.50" />
<line x1="766.0" y1="223.0" x2="766.0" y2="232.0" stroke="#c4c6c8" stroke-width="0.50" />
<line x1="793.0" y1="218.0" x2="793.0" y2="226.0" stroke="#c4c6c8" stroke-width="0.50" />
<line x1="712.0" y1="304.0" x2="712.0" y2="310.0" stroke="#c4c6c8" stroke-width="0.50" />
<line x1="746.0" y1="297.0" x2="746.0" y2="304.0" stroke="#c4c6c8" stroke-width="0.50" />
<line x1="807.0" y1="302.0" x2="807.0" y2="309.0" stroke="#c4c6c8" stroke-width="0.50" />
<line x1="818.0" y1="302.0" x2="818.0" y2="309.0" stroke="#c4c6c8" stroke-width="0.50" />
<line x1="383.0" y1="494.0" x2="383.0" y2="501.0" stroke="#c4c6c8" stroke-width="0.50" />
<line x1="439.0" y1="494.0" x2="439.0" y2="500.0" stroke="#c4c6c8" stroke-width="0.50" />
<line x1="503.0" y1="494.0" x2="503.0" y2="501.0" stroke="#c4c6c8" stroke-width="0.50" />
<line x1="563.0" y1="494.0" x2="563.0" y2="501.0" stroke="#c4c6c8" stroke-width="0.50" />
<linearGradient id="rail1" x1="0" y1="0" x2="0" y2="1"><stop offset="0" stop-color="#d9dce0"/><stop offset="1" stop-color="#8e959d"/></linearGradient>
<linearGradient id="rail2" x1="0" y1="0" x2="0" y2="1"><stop offset="0" stop-color="#9097a0"/><stop offset="1" stop-color="#d6d9de"/></linearGradient>
<path d="M171,219.2 L289,220.6 Q295.6,221.5 295.2,229.5 L291,266 Q290.2,271.6 284,271.5 L168,270.8 Q162.2,270 163,262.5 L167.2,225 Q167.8,219.3 171,219.2 Z" fill="#252424" stroke="#80868d" stroke-width="1.00" />
<line x1="166.0" y1="232.3" x2="292.0" y2="233.3" stroke="#3a3a3a" stroke-width="0.80" />
<line x1="166.0" y1="241.3" x2="292.0" y2="242.3" stroke="#383838" stroke-width="0.80" />
<line x1="166.0" y1="249.8" x2="292.0" y2="250.8" stroke="#3a3a3a" stroke-width="0.80" />
<line x1="166.0" y1="255.5" x2="292.0" y2="256.5" stroke="#323232" stroke-width="0.80" />
<rect x="166.0" y="233.5" width="126.0" height="7.0" fill="#2b2a2a" />
<path d="M180.5,219.9 L266.5,221 L266.7,230.6 L180,229.6 Z" fill="url(#rail1)" />
<path d="M173,261 L264.5,261.9 L264.2,271 L172.5,270.4 Z" fill="url(#rail2)" />
<path d="M284.7,222.4 L291,222.8 Q294.2,224 293.8,229 L293.2,234.8 L284.4,234.2 Z" fill="#c4c8ce" />
<path d="M282,258 L291.6,258.6 L290.4,266.5 Q289.8,270 285,270.2 L281.6,270 Z" fill="#c4c8ce" />
<path d="M168.5,222.5 L178.5,221 L178.5,229 L169,229 Z" fill="#8a9097" />
<path d="M171,228.6 L178,222.5 L178,228.6 Z" fill="#222" />
<path d="M164.5,262.5 L172,262.5 L172,269.5 L166,269 Z" fill="#8a9097" />
<path d="M165.5,263 L171.5,263 L171.5,268.6 Z" fill="#222" />
<path d="M336,253.2 L400,252.6 L470,251.8 L505,251 Q515,250.3 528,250.6 L585,250 L592,248.6 Q604,249.6 611.4,257.5 L610.2,268.2 L560,269.8 L528,269.2 Q515,270.6 500,268.4 L470,267.2 L400,268 L340,268.6 Q331.6,266 332.4,259 Q333,254.2 336,253.2 Z" fill="#121415" />
<path d="M340,247.4 L402,247 L402,252.6 L338,253.4 Z" fill="#c3c7cc" stroke="#4a5058" stroke-width="0.50" />
<rect x="377.8" y="250.2" width="1.1" height="2.4" fill="#3a3f45" />
<rect x="390.6" y="250.3" width="1.7" height="0.7" fill="#2a2e33" />
<rect x="368.7" y="248.5" width="0.9" height="1.5" fill="#6f767e" />
<rect x="365.1" y="248.2" width="0.8" height="4.2" fill="#3a3f45" />
<rect x="349.2" y="249.8" width="1.5" height="1.0" fill="#6f767e" />
<rect x="386.6" y="251.0" width="2.2" height="0.8" fill="#6f767e" />
<rect x="372.8" y="250.0" width="5.7" height="0.9" fill="#e4e6e8" />
<rect x="358.6" y="248.9" width="2.2" height="0.6" fill="#2a2e33" />
<rect x="389.2" y="249.7" width="1.0" height="1.7" fill="#2a2e33" />
<rect x="389.3" y="249.3" width="3.7" height="1.0" fill="#3a3f45" />
<rect x="356.1" y="250.9" width="0.8" height="1.7" fill="#e4e6e8" />
<rect x="362.6" y="249.6" width="1.7" height="0.7" fill="#6f767e" />
<rect x="348.0" y="248.5" width="0.8" height="3.3" fill="#2a2e33" />
<rect x="386.8" y="248.0" width="1.0" height="4.5" fill="#3a3f45" />
<rect x="366.5" y="251.0" width="3.8" height="0.8" fill="#6f767e" />
<rect x="361.1" y="250.8" width="0.8" height="1.8" fill="#6f767e" />
<rect x="388.1" y="249.8" width="0.8" height="2.8" fill="#3a3f45" />
<rect x="345.8" y="249.7" width="0.6" height="2.9" fill="#2a2e33" />
<rect x="389.8" y="249.2" width="1.8" height="1.1" fill="#3a3f45" />
<rect x="388.3" y="248.8" width="5.9" height="0.9" fill="#6f767e" />
<rect x="378.2" y="250.4" width="3.5" height="0.7" fill="#e4e6e8" />
<rect x="358.4" y="249.2" width="1.0" height="3.4" fill="#e4e6e8" />
<path d="M337,255.6 L470,254.6 L505,253.8 Q515,253.1 528,253.4 L594,252.8" fill="none" stroke="#eceef0" stroke-width="1.30" />
<path d="M348,262.4 L470,261.2 L505,260.4 Q515,259.7 528,260.0 L605,259.6" fill="none" stroke="#3a3f42" stroke-width="0.70" />
<rect x="345.0" y="221.0" width="4.6" height="28.5" fill="#c9cdd2" />
<rect x="349.8" y="219.0" width="1.4" height="31.0" fill="#5a6068" />
<rect x="351.0" y="218.5" width="16.0" height="14.7" fill="#222a3a" />
<rect x="351.0" y="233.2" width="16.0" height="17.3" fill="#d2d5da" />
<rect x="352.5" y="234.5" width="12.2" height="3.2" fill="#eceef0" />
<rect x="352.5" y="242.2" width="13.2" height="4.2" fill="#2f3946" />
<rect x="366.8" y="218.5" width="4.4" height="26.2" fill="#93272f" />
<rect x="366.8" y="233.2" width="4.4" height="3.2" fill="#c9555a" />
<path d="M371.0,219.0 L381.6,231.9 L371.4,245.4 Z" fill="#a9aeb8" stroke="#3a3f45" stroke-width="0.60" />
<line x1="371.4" y1="220.5" x2="380.6" y2="231.9" stroke="#b05a62" stroke-width="0.50" />
<line x1="371.4" y1="225.5" x2="380.2" y2="231.9" stroke="#eceef0" stroke-width="0.50" />
<line x1="371.4" y1="230.5" x2="379.8" y2="231.9" stroke="#b05a62" stroke-width="0.50" />
<line x1="371.4" y1="235.5" x2="379.4" y2="231.9" stroke="#eceef0" stroke-width="0.50" />
<line x1="371.4" y1="240.5" x2="379.0" y2="231.9" stroke="#b05a62" stroke-width="0.50" />
<line x1="371.2" y1="218.8" x2="382.0" y2="231.9" stroke="#30343a" stroke-width="0.90" />
<line x1="382.0" y1="231.9" x2="377.0" y2="247.3" stroke="#5a6068" stroke-width="0.70" />
<rect x="381.0" y="234.0" width="21.0" height="17.5" fill="#e4e6e9" />
<line x1="384.5" y1="233.0" x2="384.5" y2="251.5" stroke="#7d848c" stroke-width="0.80" />
<line x1="390.0" y1="233.0" x2="390.0" y2="251.5" stroke="#7d848c" stroke-width="0.80" />
<line x1="396.5" y1="233.0" x2="396.5" y2="251.5" stroke="#7d848c" stroke-width="0.80" />
<line x1="401.0" y1="233.0" x2="401.0" y2="251.5" stroke="#7d848c" stroke-width="0.80" />
<line x1="381.0" y1="236.4" x2="402.0" y2="233.4" stroke="#7d848c" stroke-width="0.80" />
<line x1="381.0" y1="243.0" x2="402.0" y2="243.0" stroke="#9aa0a8" stroke-width="0.60" />
<rect x="402.0" y="232.6" width="57.5" height="19.2" fill="#d3d7dc" />
<rect x="402.0" y="232.6" width="2.2" height="19.2" fill="#8e959d" />
<rect x="414.0" y="235.2" width="13.0" height="5.2" fill="#c23a3a" />
<rect x="417.0" y="236.6" width="7.0" height="2.4" fill="#f0d8d8" />
<rect x="430.5" y="236.2" width="22.0" height="3.0" fill="#4a5058" />
<rect x="414.0" y="226.0" width="11.0" height="6.6" fill="#3a4147" />
<rect x="430.0" y="226.0" width="11.0" height="6.6" fill="#3a4147" />
<rect x="446.0" y="228.0" width="10.0" height="4.6" fill="#9299a2" />
<line x1="458.0" y1="221.5" x2="458.0" y2="233.0" stroke="#6a7078" stroke-width="1.00" />
<rect x="452.5" y="237.0" width="5.5" height="8.5" fill="#22262b" />
<rect x="459.5" y="228.5" width="71.0" height="23.0" fill="#adb5c0" />
<rect x="525.3" y="241.3" width="2.7" height="0.8" fill="#7b828b" />
<rect x="467.2" y="244.8" width="0.7" height="4.8" fill="#40464d" />
<rect x="471.8" y="236.0" width="0.9" height="3.3" fill="#5f666e" />
<rect x="513.3" y="243.5" width="0.9" height="4.2" fill="#40464d" />
<rect x="497.8" y="240.7" width="0.7" height="4.9" fill="#4a5058" />
<rect x="479.6" y="248.1" width="0.9" height="1.5" fill="#2a2f35" />
<rect x="512.5" y="231.6" width="2.8" height="0.9" fill="#4a5058" />
<rect x="514.1" y="232.2" width="1.0" height="4.4" fill="#40464d" />
<rect x="522.7" y="227.6" width="0.8" height="2.8" fill="#40464d" />
<rect x="495.0" y="237.0" width="5.3" height="1.1" fill="#e4e6e8" />
<rect x="478.9" y="225.1" width="0.8" height="3.7" fill="#2a2f35" />
<rect x="494.9" y="247.8" width="4.0" height="1.0" fill="#40464d" />
<rect x="508.8" y="223.7" width="3.5" height="0.9" fill="#7b828b" />
<rect x="511.5" y="227.8" width="1.1" height="4.9" fill="#7b828b" />
<rect x="463.2" y="226.5" width="2.3" height="0.7" fill="#5f666e" />
<rect x="488.0" y="232.3" width="0.6" height="2.2" fill="#4a5058" />
<rect x="521.4" y="223.0" width="2.8" height="0.8" fill="#5f666e" />
<rect x="506.7" y="237.5" width="0.9" height="2.6" fill="#40464d" />
<rect x="496.8" y="232.0" width="1.1" height="4.4" fill="#e4e6e8" />
<rect x="487.5" y="237.9" width="0.8" height="2.0" fill="#e4e6e8" />
<rect x="498.1" y="248.4" width="0.9" height="2.6" fill="#4a5058" />
<rect x="459.6" y="225.9" width="0.9" height="2.0" fill="#4a5058" />
<rect x="519.5" y="238.0" width="5.9" height="0.8" fill="#e4e6e8" />
<rect x="526.1" y="233.1" width="1.1" height="3.6" fill="#40464d" />
<rect x="510.3" y="231.0" width="1.6" height="1.1" fill="#40464d" />
<rect x="493.2" y="230.6" width="2.0" height="0.9" fill="#e4e6e8" />
<rect x="476.3" y="224.1" width="3.3" height="0.8" fill="#2a2f35" />
<rect x="478.3" y="247.8" width="0.7" height="2.4" fill="#7b828b" />
<rect x="508.9" y="230.6" width="6.0" height="0.9" fill="#2a2f35" />
<rect x="519.8" y="246.7" width="2.1" height="0.7" fill="#4a5058" />
<rect x="482.5" y="230.9" width="0.8" height="2.8" fill="#4a5058" />
<rect x="515.2" y="226.5" width="4.0" height="0.9" fill="#5f666e" />
<rect x="520.3" y="237.5" width="5.0" height="0.8" fill="#2a2f35" />
<rect x="506.7" y="248.3" width="1.0" height="2.7" fill="#e4e6e8" />
<rect x="486.3" y="245.6" width="2.8" height="1.0" fill="#5f666e" />
<rect x="480.3" y="223.1" width="0.9" height="3.8" fill="#e4e6e8" />
<rect x="521.9" y="226.8" width="4.0" height="0.8" fill="#40464d" />
<rect x="496.3" y="234.3" width="0.6" height="4.1" fill="#40464d" />
<rect x="515.6" y="244.0" width="0.6" height="4.0" fill="#5f666e" />
<rect x="527.9" y="241.6" width="2.1" height="0.7" fill="#4a5058" />
<rect x="516.0" y="225.9" width="1.1" height="4.0" fill="#e4e6e8" />
<rect x="469.8" y="239.2" width="2.2" height="0.9" fill="#5f666e" />
<rect x="497.6" y="240.5" width="0.7" height="3.5" fill="#5f666e" />
<rect x="510.4" y="246.3" width="3.4" height="0.8" fill="#2a2f35" />
<rect x="493.0" y="232.4" width="1.1" height="2.0" fill="#40464d" />
<rect x="469.9" y="239.7" width="1.1" height="3.4" fill="#2a2f35" />
<rect x="474.6" y="224.7" width="5.2" height="0.7" fill="#7b828b" />
<rect x="514.8" y="245.9" width="3.3" height="0.7" fill="#5f666e" />
<rect x="504.4" y="225.3" width="0.6" height="1.9" fill="#2a2f35" />
<rect x="490.6" y="233.3" width="5.8" height="0.7" fill="#2a2f35" />
<rect x="461.5" y="242.2" width="2.2" height="1.1" fill="#4a5058" />
<rect x="513.9" y="242.9" width="5.6" height="0.8" fill="#7b828b" />
<rect x="469.1" y="239.6" width="2.6" height="0.8" fill="#2a2f35" />
<rect x="507.8" y="244.1" width="4.8" height="0.8" fill="#40464d" />
<rect x="514.6" y="234.5" width="0.9" height="3.6" fill="#2a2f35" />
<rect x="474.2" y="227.8" width="1.7" height="0.7" fill="#7b828b" />
<rect x="462.2" y="246.6" width="4.9" height="0.6" fill="#e4e6e8" />
<rect x="480.1" y="247.8" width="0.8" height="3.1" fill="#7b828b" />
<rect x="470.1" y="227.2" width="3.2" height="1.0" fill="#7b828b" />
<rect x="497.3" y="225.9" width="1.0" height="3.9" fill="#5f666e" />
<rect x="492.5" y="223.9" width="0.8" height="4.8" fill="#4a5058" />
<rect x="461.0" y="235.1" width="0.7" height="4.2" fill="#40464d" />
<rect x="479.4" y="240.9" width="0.7" height="2.2" fill="#5f666e" />
<rect x="498.9" y="240.4" width="1.1" height="4.0" fill="#4a5058" />
<rect x="480.9" y="235.4" width="4.8" height="1.0" fill="#7b828b" />
<rect x="512.6" y="227.7" width="1.7" height="0.9" fill="#4a5058" />
<rect x="526.3" y="223.2" width="3.7" height="0.8" fill="#5f666e" />
<rect x="461.8" y="245.1" width="0.9" height="4.8" fill="#4a5058" />
<rect x="464.4" y="246.8" width="5.7" height="0.6" fill="#7b828b" />
<rect x="503.6" y="236.2" width="0.6" height="4.4" fill="#e4e6e8" />
<rect x="480.5" y="224.4" width="5.9" height="0.7" fill="#2a2f35" />
<rect x="503.4" y="228.0" width="5.7" height="1.0" fill="#5f666e" />
<rect x="496.6" y="247.4" width="1.0" height="2.3" fill="#5f666e" />
<rect x="489.7" y="232.5" width="5.0" height="0.9" fill="#7b828b" />
<rect x="509.2" y="247.2" width="3.5" height="1.0" fill="#7b828b" />
<rect x="497.5" y="226.7" width="5.0" height="0.7" fill="#e4e6e8" />
<rect x="480.9" y="226.4" width="2.6" height="0.6" fill="#e4e6e8" />
<rect x="525.8" y="240.7" width="3.7" height="0.7" fill="#4a5058" />
<rect x="473.2" y="230.6" width="1.9" height="0.8" fill="#40464d" />
<rect x="485.5" y="243.4" width="2.8" height="1.1" fill="#7b828b" />
<rect x="498.9" y="234.7" width="0.9" height="4.8" fill="#4a5058" />
<rect x="462.7" y="234.3" width="5.1" height="0.9" fill="#40464d" />
<rect x="464.0" y="227.5" width="4.5" height="0.7" fill="#5f666e" />
<rect x="496.7" y="242.6" width="2.0" height="1.1" fill="#40464d" />
<rect x="489.4" y="229.8" width="0.6" height="3.3" fill="#7b828b" />
<rect x="484.3" y="231.8" width="4.1" height="1.0" fill="#4a5058" />
<rect x="526.8" y="230.1" width="0.9" height="2.0" fill="#e4e6e8" />
<rect x="513.9" y="226.1" width="5.6" height="0.8" fill="#e4e6e8" />
<rect x="471.2" y="224.3" width="0.7" height="3.2" fill="#e4e6e8" />
<rect x="500.3" y="225.7" width="0.8" height="1.7" fill="#5f666e" />
<rect x="461.8" y="238.3" width="5.5" height="0.8" fill="#7b828b" />
<rect x="473.3" y="244.8" width="3.8" height="1.0" fill="#7b828b" />
<rect x="484.6" y="244.4" width="0.9" height="4.7" fill="#5f666e" />
<rect x="501.8" y="233.6" width="5.2" height="0.8" fill="#5f666e" />
<rect x="465.9" y="233.5" width="0.7" height="4.7" fill="#40464d" />
<rect x="492.2" y="235.5" width="0.6" height="2.2" fill="#4a5058" />
<rect x="460.2" y="236.6" width="0.7" height="2.9" fill="#40464d" />
<rect x="505.9" y="239.2" width="0.9" height="3.4" fill="#4a5058" />
<rect x="486.8" y="249.0" width="1.1" height="2.0" fill="#4a5058" />
<rect x="463.7" y="226.9" width="5.8" height="0.6" fill="#2a2f35" />
<rect x="473.7" y="230.6" width="5.0" height="0.9" fill="#4a5058" />
<rect x="487.8" y="248.7" width="5.7" height="0.7" fill="#5f666e" />
<rect x="511.1" y="240.8" width="1.0" height="3.9" fill="#4a5058" />
<rect x="501.0" y="237.9" width="1.9" height="0.7" fill="#40464d" />
<rect x="526.3" y="237.4" width="1.5" height="0.8" fill="#7b828b" />
<rect x="510.9" y="237.0" width="4.5" height="0.8" fill="#40464d" />
<rect x="467.0" y="241.3" width="1.0" height="2.8" fill="#5f666e" />
<rect x="474.1" y="231.1" width="4.3" height="1.0" fill="#7b828b" />
<rect x="464.8" y="233.9" width="4.5" height="0.9" fill="#4a5058" />
<rect x="516.4" y="246.3" width="0.8" height="3.0" fill="#2a2f35" />
<rect x="500.3" y="229.5" width="1.9" height="1.0" fill="#40464d" />
<rect x="472.3" y="223.8" width="4.0" height="0.9" fill="#7b828b" />
<rect x="489.2" y="231.6" width="5.0" height="0.8" fill="#5f666e" />
<rect x="463.7" y="235.8" width="1.1" height="2.6" fill="#e4e6e8" />
<rect x="503.7" y="247.6" width="4.6" height="1.0" fill="#e4e6e8" />
<rect x="517.0" y="223.0" width="0.7" height="2.7" fill="#40464d" />
<rect x="501.7" y="225.8" width="1.0" height="4.4" fill="#7b828b" />
<rect x="508.3" y="247.5" width="0.9" height="3.5" fill="#5f666e" />
<rect x="484.5" y="244.6" width="3.0" height="0.7" fill="#4a5058" />
<rect x="527.2" y="243.3" width="2.8" height="0.8" fill="#5f666e" />
<rect x="467.6" y="238.8" width="4.6" height="0.8" fill="#40464d" />
<rect x="524.2" y="224.9" width="1.0" height="2.5" fill="#5f666e" />
<rect x="515.0" y="249.5" width="0.7" height="1.5" fill="#7b828b" />
<rect x="479.4" y="236.2" width="1.0" height="3.5" fill="#40464d" />
<rect x="487.5" y="248.0" width="3.4" height="0.7" fill="#7b828b" />
<rect x="478.1" y="242.1" width="5.9" height="0.9" fill="#e4e6e8" />
<rect x="526.9" y="237.3" width="3.1" height="0.6" fill="#40464d" />
<rect x="468.3" y="225.2" width="0.7" height="4.3" fill="#5f666e" />
<rect x="476.7" y="235.1" width="3.8" height="0.6" fill="#7b828b" />
<rect x="472.8" y="244.3" width="3.8" height="1.1" fill="#2a2f35" />
<rect x="524.9" y="241.2" width="0.6" height="2.9" fill="#2a2f35" />
<rect x="489.3" y="238.7" width="0.9" height="3.7" fill="#5f666e" />
<rect x="474.3" y="234.2" width="1.0" height="4.4" fill="#e4e6e8" />
<rect x="522.2" y="233.0" width="1.0" height="4.6" fill="#7b828b" />
<rect x="480.3" y="228.1" width="0.6" height="2.8" fill="#e4e6e8" />
<rect x="488.4" y="230.2" width="2.8" height="0.9" fill="#5f666e" />
<rect x="512.2" y="243.1" width="4.6" height="0.6" fill="#e4e6e8" />
<rect x="520.1" y="228.2" width="5.2" height="1.1" fill="#2a2f35" />
<rect x="490.9" y="235.4" width="3.1" height="0.9" fill="#5f666e" />
<rect x="472.2" y="234.4" width="4.9" height="0.8" fill="#7b828b" />
<rect x="469.9" y="236.7" width="1.0" height="1.8" fill="#5f666e" />
<rect x="466.8" y="233.6" width="5.6" height="0.9" fill="#e4e6e8" />
<rect x="525.7" y="229.4" width="0.7" height="3.4" fill="#4a5058" />
<rect x="485.9" y="229.3" width="0.6" height="1.6" fill="#7b828b" />
<rect x="488.2" y="236.4" width="1.0" height="1.7" fill="#2a2f35" />
<rect x="475.8" y="241.3" width="1.0" height="3.5" fill="#e4e6e8" />
<rect x="490.3" y="240.4" width="0.8" height="3.4" fill="#4a5058" />
<rect x="499.4" y="238.7" width="3.2" height="1.0" fill="#2a2f35" />
<rect x="523.3" y="225.1" width="4.8" height="0.9" fill="#e4e6e8" />
<rect x="466.2" y="236.6" width="0.8" height="2.9" fill="#e4e6e8" />
<rect x="461.5" y="243.5" width="2.7" height="5.0" fill="#2b3036" />
<rect x="465.2" y="243.5" width="2.7" height="5.0" fill="#2b3036" />
<rect x="468.9" y="243.5" width="2.7" height="5.0" fill="#2b3036" />
<rect x="472.6" y="243.5" width="2.7" height="5.0" fill="#2b3036" />
<rect x="476.4" y="243.5" width="2.7" height="5.0" fill="#2b3036" />
<rect x="480.1" y="243.5" width="2.7" height="5.0" fill="#2b3036" />
<rect x="483.8" y="243.5" width="2.7" height="5.0" fill="#2b3036" />
<rect x="488.5" y="237.5" width="7.0" height="11.5" fill="#17191c" />
<rect x="496.5" y="237.5" width="7.0" height="11.5" fill="#17191c" />
<rect x="505.5" y="242.0" width="3.6" height="5.5" fill="#2b3036" />
<rect x="510.1" y="242.0" width="3.6" height="5.5" fill="#2b3036" />
<rect x="514.7" y="242.0" width="3.6" height="5.5" fill="#2b3036" />
<rect x="519.3" y="242.0" width="3.6" height="5.5" fill="#2b3036" />
<rect x="523.9" y="242.0" width="3.6" height="5.5" fill="#2b3036" />
<rect x="476.0" y="222.0" width="25.0" height="6.5" fill="#d9dcdf" />
<rect x="477.5" y="223.0" width="2.8" height="4.5" fill="#8a919a" />
<rect x="481.3" y="223.0" width="2.8" height="4.5" fill="#8a919a" />
<rect x="485.2" y="223.0" width="2.8" height="4.5" fill="#8a919a" />
<rect x="489.0" y="223.0" width="2.8" height="4.5" fill="#8a919a" />
<rect x="492.8" y="223.0" width="2.8" height="4.5" fill="#8a919a" />
<rect x="496.7" y="223.0" width="2.8" height="4.5" fill="#8a919a" />
<path d="M503.5,217 L517,217.4 L519,224.4 L502.5,224 Z" fill="#1b302d" />
<path d="M517,218 L524.6,233 L519,233 L513.6,224.4 Z" fill="#9aa2ac" stroke="#4a5058" stroke-width="0.60" />
<rect x="503.0" y="224.4" width="15.0" height="8.6" fill="#c2c7cd" />
<rect x="504.5" y="226.0" width="2.2" height="6.0" fill="#5a626a" />
<rect x="507.8" y="226.0" width="2.2" height="6.0" fill="#5a626a" />
<rect x="511.0" y="226.0" width="2.2" height="6.0" fill="#5a626a" />
<rect x="514.2" y="226.0" width="2.2" height="6.0" fill="#5a626a" />
<rect x="524.0" y="236.0" width="7.5" height="7.5" fill="#1c1f23" />
<rect x="531.5" y="235.0" width="37.5" height="16.4" fill="#e0e3e7" stroke="#7b828b" stroke-width="0.5"/>
<path d="M537.5,229.2 L560.5,229.2 L563.5,235.4 L536,235.4 Z" fill="#2a57ab" />
<line x1="542.0" y1="229.4" x2="542.0" y2="235.2" stroke="#9db6e0" stroke-width="0.60" />
<line x1="547.5" y1="229.4" x2="547.5" y2="235.2" stroke="#9db6e0" stroke-width="0.60" />
<line x1="553.0" y1="229.4" x2="553.0" y2="235.2" stroke="#9db6e0" stroke-width="0.60" />
<line x1="558.0" y1="229.4" x2="558.0" y2="235.2" stroke="#9db6e0" stroke-width="0.60" />
<rect x="524.5" y="226.5" width="13.0" height="4.6" fill="#8a9199" />
<rect x="544.6" y="242.7" width="0.7" height="3.1" fill="#8b929b" />
<rect x="557.5" y="237.6" width="0.8" height="2.7" fill="#a7adb5" />
<rect x="549.0" y="237.9" width="2.6" height="0.6" fill="#a7adb5" />
<rect x="545.8" y="244.5" width="2.7" height="1.0" fill="#a7adb5" />
<rect x="563.2" y="247.3" width="0.9" height="3.7" fill="#a7adb5" />
<rect x="551.5" y="236.1" width="5.2" height="0.8" fill="#6f767e" />
<rect x="534.3" y="243.9" width="4.7" height="0.9" fill="#6f767e" />
<rect x="552.0" y="243.2" width="1.0" height="4.0" fill="#6f767e" />
<rect x="536.1" y="236.9" width="4.4" height="1.0" fill="#6f767e" />
<rect x="560.7" y="248.9" width="0.7" height="2.1" fill="#a7adb5" />
<rect x="541.5" y="240.0" width="4.9" height="0.9" fill="#a7adb5" />
<rect x="548.4" y="238.1" width="2.7" height="1.1" fill="#8b929b" />
<rect x="548.1" y="238.0" width="0.9" height="3.0" fill="#6f767e" />
<rect x="554.5" y="238.4" width="3.7" height="0.9" fill="#a7adb5" />
<rect x="563.9" y="240.6" width="3.5" height="0.9" fill="#6f767e" />
<rect x="550.7" y="248.2" width="0.9" height="2.8" fill="#a7adb5" />
<rect x="560.6" y="240.0" width="2.7" height="0.8" fill="#6f767e" />
<rect x="541.7" y="244.5" width="1.1" height="1.9" fill="#8b929b" />
<line x1="540.5" y1="222.0" x2="540.2" y2="230.0" stroke="#454a50" stroke-width="1.10" />
<rect x="539.3" y="221.2" width="2.6" height="2.2" fill="#33383d" />
<line x1="547.0" y1="220.0" x2="546.2" y2="230.0" stroke="#454a50" stroke-width="1.10" />
<rect x="545.8" y="219.2" width="2.6" height="2.2" fill="#33383d" />
<line x1="553.5" y1="218.0" x2="553.8" y2="230.0" stroke="#454a50" stroke-width="1.10" />
<rect x="552.3" y="217.2" width="2.6" height="2.2" fill="#33383d" />
<line x1="560.0" y1="222.0" x2="560.7" y2="230.0" stroke="#454a50" stroke-width="1.10" />
<rect x="558.8" y="221.2" width="2.6" height="2.2" fill="#33383d" />
<line x1="567.5" y1="219.5" x2="567.7" y2="230.0" stroke="#454a50" stroke-width="1.10" />
<rect x="566.3" y="218.7" width="2.6" height="2.2" fill="#33383d" />
<path d="M568.5,236 L571.5,251 L568.5,251 Z" fill="#8b929b" />
<rect x="572.0" y="244.0" width="20.0" height="6.5" fill="#c9cdd2" />
<rect x="572.9" y="248.8" width="4.4" height="1.0" fill="#6f767e" />
<rect x="573.8" y="248.2" width="0.8" height="2.3" fill="#6f767e" />
<rect x="579.4" y="248.3" width="2.9" height="0.7" fill="#3a3f45" />
<rect x="586.2" y="248.4" width="0.7" height="2.1" fill="#3a3f45" />
<rect x="579.6" y="248.7" width="0.9" height="1.8" fill="#6f767e" />
<rect x="588.8" y="248.7" width="2.0" height="1.0" fill="#3a3f45" />
<rect x="583.1" y="244.0" width="0.9" height="2.8" fill="#3a3f45" />
<rect x="576.9" y="246.5" width="0.8" height="2.2" fill="#2a2e33" />
<rect x="589.7" y="244.2" width="0.7" height="2.2" fill="#2a2e33" />
<rect x="581.5" y="244.3" width="5.7" height="0.8" fill="#6f767e" />
<rect x="582.0" y="247.9" width="0.7" height="2.1" fill="#2a2e33" />
<rect x="576.6" y="246.1" width="0.9" height="2.0" fill="#3a3f45" />
<path d="M644,253 Q638.4,257 640.2,266 Q642,271.6 650,271.4 L760,272 L850,271.4 L886,270.4 Q890.6,262 889.6,256 Q886,249.6 876,249.8 L873,262.4 L760,262.6 L655,260.6 L650,253 Z" fill="#121415" />
<rect x="648.0" y="228.5" width="4.6" height="26.5" fill="#c9cdd2" />
<rect x="652.8" y="226.5" width="1.4" height="29.0" fill="#5a6068" />
<rect x="654.0" y="226.0" width="13.8" height="13.8" fill="#222a3a" />
<rect x="654.0" y="239.8" width="13.8" height="16.2" fill="#d2d5da" />
<rect x="655.5" y="241.0" width="10.0" height="3.0" fill="#eceef0" />
<rect x="655.5" y="248.2" width="11.0" height="3.9" fill="#2f3946" />
<rect x="667.6" y="226.0" width="4.4" height="24.6" fill="#93272f" />
<rect x="667.6" y="239.8" width="4.4" height="3.0" fill="#c9555a" />
<path d="M671.8,226.5 L682.4,238.6 L672.2,251.2 Z" fill="#a9aeb8" stroke="#3a3f45" stroke-width="0.60" />
<line x1="672.2" y1="228.0" x2="681.4" y2="238.6" stroke="#b05a62" stroke-width="0.50" />
<line x1="672.2" y1="233.0" x2="681.0" y2="238.6" stroke="#eceef0" stroke-width="0.50" />
<line x1="672.2" y1="238.0" x2="680.6" y2="238.6" stroke="#b05a62" stroke-width="0.50" />
<line x1="672.2" y1="243.0" x2="680.2" y2="238.6" stroke="#eceef0" stroke-width="0.50" />
<line x1="672.2" y1="248.0" x2="679.8" y2="238.6" stroke="#b05a62" stroke-width="0.50" />
<line x1="672.0" y1="226.3" x2="682.8" y2="238.6" stroke="#30343a" stroke-width="0.90" />
<line x1="682.8" y1="238.6" x2="677.8" y2="253.0" stroke="#5a6068" stroke-width="0.70" />
<path d="M648.5,252 L656,260.5 L760,262.4 L873,262.2 L873,255 L760,254.4 L660,252 Z" fill="#bcc3cd" />
<rect x="751.0" y="260.1" width="0.8" height="1.9" fill="#a7adb5" />
<rect x="687.1" y="253.7" width="4.3" height="1.0" fill="#a7adb5" />
<rect x="827.2" y="256.6" width="5.5" height="0.9" fill="#8b929b" />
<rect x="769.9" y="257.2" width="1.6" height="0.9" fill="#e4e6e8" />
<rect x="791.2" y="256.7" width="1.1" height="2.5" fill="#6f767e" />
<rect x="662.8" y="255.2" width="0.7" height="2.8" fill="#a7adb5" />
<rect x="714.1" y="254.5" width="0.6" height="3.2" fill="#a7adb5" />
<rect x="719.1" y="259.4" width="0.8" height="2.6" fill="#e4e6e8" />
<rect x="725.1" y="258.5" width="1.0" height="3.5" fill="#8b929b" />
<rect x="685.2" y="256.7" width="5.1" height="1.0" fill="#6f767e" />
<rect x="659.5" y="257.0" width="2.0" height="0.7" fill="#a7adb5" />
<rect x="838.4" y="254.8" width="0.9" height="2.8" fill="#a7adb5" />
<rect x="792.7" y="259.9" width="2.6" height="0.6" fill="#6f767e" />
<rect x="746.1" y="255.3" width="0.8" height="3.6" fill="#e4e6e8" />
<rect x="823.4" y="258.4" width="0.9" height="1.5" fill="#e4e6e8" />
<rect x="662.6" y="253.1" width="0.7" height="3.1" fill="#e4e6e8" />
<rect x="848.6" y="256.5" width="1.8" height="1.0" fill="#e4e6e8" />
<rect x="834.5" y="257.6" width="1.0" height="3.7" fill="#8b929b" />
<rect x="794.0" y="256.3" width="1.1" height="3.9" fill="#a7adb5" />
<rect x="672.1" y="255.8" width="2.5" height="0.6" fill="#e4e6e8" />
<rect x="662.8" y="254.4" width="0.8" height="4.2" fill="#8b929b" />
<rect x="847.7" y="258.2" width="3.3" height="0.8" fill="#e4e6e8" />
<rect x="862.4" y="255.1" width="0.7" height="3.9" fill="#6f767e" />
<rect x="818.6" y="259.5" width="1.0" height="2.5" fill="#e4e6e8" />
<rect x="811.9" y="254.5" width="1.0" height="4.5" fill="#8b929b" />
<rect x="692.4" y="257.0" width="0.8" height="1.8" fill="#e4e6e8" />
<rect x="730.1" y="254.1" width="1.5" height="0.7" fill="#e4e6e8" />
<rect x="859.5" y="258.6" width="0.8" height="3.4" fill="#6f767e" />
<rect x="810.5" y="259.6" width="3.2" height="1.1" fill="#6f767e" />
<rect x="817.3" y="256.6" width="0.8" height="4.7" fill="#e4e6e8" />
<rect x="687.7" y="256.2" width="5.2" height="0.7" fill="#6f767e" />
<rect x="674.1" y="256.9" width="0.8" height="1.8" fill="#6f767e" />
<rect x="670.8" y="258.5" width="2.9" height="1.0" fill="#8b929b" />
<rect x="718.4" y="258.1" width="3.8" height="0.6" fill="#8b929b" />
<rect x="659.0" y="256.8" width="3.5" height="0.7" fill="#6f767e" />
<rect x="786.1" y="257.3" width="0.9" height="4.6" fill="#8b929b" />
<rect x="780.4" y="253.5" width="3.4" height="0.7" fill="#e4e6e8" />
<rect x="669.4" y="255.6" width="4.6" height="0.8" fill="#8b929b" />
<rect x="833.5" y="256.7" width="5.8" height="1.0" fill="#8b929b" />
<rect x="781.5" y="259.7" width="3.6" height="1.0" fill="#6f767e" />
<rect x="763.4" y="253.7" width="1.0" height="2.9" fill="#a7adb5" />
<rect x="785.9" y="256.0" width="2.1" height="0.8" fill="#8b929b" />
<rect x="717.6" y="255.7" width="0.9" height="2.1" fill="#e4e6e8" />
<rect x="681.6" y="255.3" width="0.9" height="3.9" fill="#8b929b" />
<rect x="664.9" y="253.6" width="0.7" height="3.8" fill="#8b929b" />
<rect x="745.8" y="255.2" width="0.9" height="5.0" fill="#e4e6e8" />
<rect x="836.0" y="257.6" width="0.7" height="3.2" fill="#6f767e" />
<rect x="837.7" y="253.7" width="2.7" height="1.1" fill="#6f767e" />
<rect x="858.4" y="260.1" width="5.4" height="1.1" fill="#a7adb5" />
<rect x="682.0" y="259.0" width="0.8" height="2.1" fill="#e4e6e8" />
<rect x="652.1" y="258.1" width="2.4" height="0.7" fill="#e4e6e8" />
<rect x="676.2" y="255.8" width="2.4" height="0.8" fill="#e4e6e8" />
<rect x="843.4" y="258.0" width="2.0" height="0.9" fill="#8b929b" />
<rect x="724.9" y="257.6" width="5.7" height="0.6" fill="#e4e6e8" />
<rect x="657.3" y="256.6" width="5.6" height="1.1" fill="#6f767e" />
<rect x="824.2" y="254.7" width="1.6" height="0.7" fill="#a7adb5" />
<rect x="674.0" y="258.2" width="5.5" height="0.9" fill="#6f767e" />
<rect x="823.0" y="254.9" width="2.7" height="0.6" fill="#a7adb5" />
<rect x="703.3" y="260.2" width="1.0" height="1.8" fill="#a7adb5" />
<rect x="838.1" y="258.5" width="1.1" height="3.5" fill="#e4e6e8" />
<rect x="797.0" y="253.7" width="4.6" height="0.6" fill="#a7adb5" />
<rect x="676.6" y="253.6" width="3.2" height="1.1" fill="#e4e6e8" />
<rect x="651.5" y="258.2" width="5.8" height="0.9" fill="#6f767e" />
<rect x="720.1" y="257.8" width="1.0" height="2.5" fill="#a7adb5" />
<rect x="801.5" y="257.4" width="5.6" height="0.9" fill="#8b929b" />
<rect x="700.5" y="254.5" width="0.9" height="2.5" fill="#a7adb5" />
<rect x="695.6" y="259.9" width="4.2" height="1.0" fill="#e4e6e8" />
<rect x="699.0" y="256.3" width="2.6" height="0.9" fill="#e4e6e8" />
<rect x="826.9" y="257.9" width="0.9" height="3.5" fill="#8b929b" />
<rect x="716.8" y="257.2" width="0.9" height="2.6" fill="#6f767e" />
<rect x="684.0" y="238.0" width="44.0" height="15.0" fill="#d4d7dc" />
<rect x="719.2" y="249.2" width="0.8" height="2.2" fill="#2a2f35" />
<rect x="707.5" y="239.0" width="5.7" height="0.6" fill="#e4e6e8" />
<rect x="691.6" y="244.5" width="4.7" height="0.7" fill="#40464d" />
<rect x="687.3" y="241.5" width="0.9" height="1.6" fill="#7b828b" />
<rect x="723.6" y="248.5" width="4.4" height="0.6" fill="#e4e6e8" />
<rect x="704.4" y="238.3" width="1.0" height="3.2" fill="#2a2f35" />
<rect x="686.6" y="251.3" width="4.2" height="0.7" fill="#4a5058" />
<rect x="694.8" y="243.8" width="3.4" height="1.0" fill="#4a5058" />
<rect x="712.1" y="250.3" width="1.0" height="2.7" fill="#7b828b" />
<rect x="707.8" y="248.2" width="0.7" height="4.8" fill="#e4e6e8" />
<rect x="704.7" y="244.1" width="1.0" height="3.1" fill="#e4e6e8" />
<rect x="702.6" y="244.8" width="0.8" height="4.0" fill="#7b828b" />
<rect x="687.5" y="248.0" width="0.9" height="4.3" fill="#4a5058" />
<rect x="690.2" y="243.5" width="0.9" height="4.9" fill="#5f666e" />
<rect x="718.8" y="237.0" width="5.6" height="1.1" fill="#5f666e" />
<rect x="698.0" y="247.9" width="0.9" height="3.7" fill="#40464d" />
<rect x="714.0" y="251.0" width="3.7" height="0.9" fill="#2a2f35" />
<rect x="697.6" y="247.9" width="0.6" height="5.0" fill="#7b828b" />
<rect x="692.0" y="250.4" width="2.8" height="1.0" fill="#7b828b" />
<rect x="702.6" y="237.0" width="5.6" height="0.7" fill="#e4e6e8" />
<rect x="694.9" y="241.6" width="2.0" height="0.7" fill="#40464d" />
<rect x="696.0" y="239.6" width="1.0" height="5.0" fill="#5f666e" />
<rect x="710.4" y="243.4" width="3.9" height="0.7" fill="#7b828b" />
<rect x="712.0" y="249.4" width="2.9" height="0.7" fill="#7b828b" />
<rect x="697.3" y="250.7" width="5.5" height="0.8" fill="#5f666e" />
<rect x="688.8" y="248.9" width="0.8" height="1.8" fill="#5f666e" />
<rect x="684.3" y="240.8" width="5.6" height="1.1" fill="#7b828b" />
<rect x="699.3" y="250.9" width="0.7" height="2.1" fill="#2a2f35" />
<rect x="684.3" y="243.4" width="1.1" height="1.8" fill="#2a2f35" />
<rect x="716.7" y="239.8" width="2.0" height="0.7" fill="#2a2f35" />
<rect x="710.1" y="244.1" width="0.9" height="3.3" fill="#40464d" />
<rect x="692.5" y="247.0" width="4.3" height="0.8" fill="#4a5058" />
<rect x="703.7" y="244.7" width="1.1" height="2.4" fill="#7b828b" />
<rect x="719.8" y="243.5" width="1.9" height="1.0" fill="#2a2f35" />
<rect x="707.0" y="251.3" width="4.5" height="0.8" fill="#5f666e" />
<rect x="711.9" y="236.8" width="5.3" height="0.9" fill="#7b828b" />
<rect x="698.8" y="246.6" width="0.8" height="2.3" fill="#4a5058" />
<rect x="704.7" y="248.2" width="5.8" height="1.0" fill="#e4e6e8" />
<rect x="688.8" y="243.3" width="3.6" height="0.9" fill="#40464d" />
<rect x="719.2" y="250.5" width="0.6" height="2.5" fill="#4a5058" />
<rect x="699.6" y="240.8" width="1.0" height="2.8" fill="#7b828b" />
<rect x="719.7" y="241.9" width="4.2" height="0.8" fill="#7b828b" />
<rect x="709.1" y="247.7" width="0.6" height="4.6" fill="#5f666e" />
<rect x="716.6" y="250.1" width="3.9" height="1.0" fill="#4a5058" />
<rect x="714.3" y="242.6" width="2.5" height="0.7" fill="#5f666e" />
<rect x="699.9" y="240.9" width="2.2" height="0.8" fill="#40464d" />
<rect x="704.7" y="238.6" width="1.1" height="1.7" fill="#e4e6e8" />
<rect x="697.8" y="237.4" width="5.8" height="0.6" fill="#7b828b" />
<rect x="709.5" y="243.8" width="4.6" height="0.8" fill="#e4e6e8" />
<rect x="702.4" y="248.3" width="0.9" height="3.6" fill="#4a5058" />
<rect x="709.1" y="237.6" width="0.9" height="4.0" fill="#2a2f35" />
<rect x="697.8" y="239.9" width="1.6" height="0.9" fill="#40464d" />
<rect x="723.6" y="246.6" width="0.7" height="3.3" fill="#4a5058" />
<rect x="725.5" y="238.8" width="0.9" height="2.5" fill="#7b828b" />
<rect x="709.6" y="247.0" width="5.2" height="0.7" fill="#2a2f35" />
<rect x="700.7" y="243.0" width="0.8" height="1.6" fill="#40464d" />
<rect x="711.6" y="243.3" width="0.9" height="2.4" fill="#5f666e" />
<rect x="717.5" y="237.3" width="3.3" height="0.9" fill="#5f666e" />
<rect x="719.8" y="251.3" width="3.4" height="0.8" fill="#40464d" />
<rect x="697.5" y="246.2" width="5.3" height="1.1" fill="#4a5058" />
<rect x="700.0" y="233.0" width="28.0" height="20.0" fill="#adb5c0" />
<rect x="711.0" y="232.5" width="4.1" height="5.1" fill="#4a5159" />
<rect x="716.1" y="232.5" width="4.1" height="5.1" fill="#4a5159" />
<rect x="721.2" y="232.5" width="4.1" height="5.1" fill="#4a5159" />
<rect x="726.2" y="232.5" width="4.1" height="5.1" fill="#4a5159" />
<rect x="731.3" y="232.5" width="4.1" height="5.1" fill="#4a5159" />
<rect x="736.4" y="232.5" width="4.1" height="5.1" fill="#4a5159" />
<rect x="710.0" y="242.0" width="31.0" height="4.0" fill="#dfe1e4" />
<rect x="711.0" y="248.0" width="6.6" height="6.5" fill="#15171a" />
<rect x="718.6" y="248.0" width="6.6" height="6.5" fill="#15171a" />
<rect x="726.2" y="248.0" width="6.6" height="6.5" fill="#15171a" />
<rect x="733.9" y="248.0" width="6.6" height="6.5" fill="#15171a" />
<rect x="711.0" y="236.5" width="11.0" height="4.0" fill="#858c95" />
<rect x="725.0" y="236.5" width="11.0" height="4.0" fill="#858c95" />
<rect x="741.0" y="236.0" width="24.0" height="18.0" fill="#adb5c0" />
<rect x="776.9" y="236.0" width="1.0" height="3.2" fill="#4a5058" />
<rect x="744.8" y="237.8" width="0.9" height="2.3" fill="#5f666e" />
<rect x="763.1" y="234.7" width="0.7" height="3.8" fill="#4a5058" />
<rect x="745.3" y="247.3" width="3.8" height="0.7" fill="#2a2f35" />
<rect x="797.1" y="236.7" width="0.8" height="3.5" fill="#40464d" />
<rect x="747.2" y="234.9" width="3.2" height="0.9" fill="#e4e6e8" />
<rect x="742.0" y="234.8" width="0.9" height="2.0" fill="#5f666e" />
<rect x="763.1" y="232.8" width="3.1" height="0.9" fill="#4a5058" />
<rect x="768.4" y="240.6" width="5.2" height="0.8" fill="#4a5058" />
<rect x="795.9" y="234.5" width="1.1" height="4.1" fill="#4a5058" />
<rect x="791.1" y="236.0" width="0.9" height="4.8" fill="#40464d" />
<rect x="759.6" y="250.4" width="1.9" height="0.7" fill="#5f666e" />
<rect x="748.1" y="246.0" width="5.3" height="0.7" fill="#7b828b" />
<rect x="791.8" y="250.9" width="5.3" height="0.8" fill="#2a2f35" />
<rect x="762.0" y="252.1" width="5.6" height="1.0" fill="#4a5058" />
<rect x="758.7" y="232.7" width="5.1" height="0.8" fill="#2a2f35" />
<rect x="759.3" y="234.6" width="0.6" height="3.0" fill="#7b828b" />
<rect x="743.7" y="232.0" width="2.7" height="0.8" fill="#5f666e" />
<rect x="766.8" y="233.6" width="0.7" height="4.3" fill="#5f666e" />
<rect x="786.0" y="243.8" width="0.9" height="4.4" fill="#5f666e" />
<rect x="787.9" y="241.7" width="1.0" height="3.4" fill="#7b828b" />
<rect x="775.7" y="249.5" width="0.8" height="1.9" fill="#5f666e" />
<rect x="781.5" y="241.6" width="3.1" height="1.1" fill="#e4e6e8" />
<rect x="774.5" y="236.8" width="5.7" height="1.0" fill="#5f666e" />
<rect x="782.6" y="239.9" width="4.6" height="0.7" fill="#2a2f35" />
<rect x="768.4" y="232.3" width="4.9" height="1.1" fill="#7b828b" />
<rect x="749.2" y="250.8" width="3.0" height="0.7" fill="#40464d" />
<rect x="756.0" y="236.1" width="0.9" height="3.8" fill="#40464d" />
<rect x="751.5" y="240.8" width="2.6" height="0.8" fill="#7b828b" />
<rect x="796.3" y="251.4" width="1.1" height="2.6" fill="#5f666e" />
<rect x="792.8" y="251.9" width="2.1" height="1.0" fill="#40464d" />
<rect x="756.2" y="249.5" width="1.1" height="2.3" fill="#e4e6e8" />
<rect x="785.5" y="236.8" width="2.2" height="1.0" fill="#4a5058" />
<rect x="762.0" y="250.1" width="0.8" height="1.6" fill="#40464d" />
<rect x="760.4" y="236.7" width="5.5" height="1.0" fill="#4a5058" />
<rect x="791.9" y="251.5" width="0.9" height="2.5" fill="#40464d" />
<rect x="786.0" y="241.4" width="5.7" height="0.9" fill="#2a2f35" />
<rect x="782.1" y="249.1" width="1.0" height="2.2" fill="#e4e6e8" />
<rect x="797.8" y="251.5" width="1.8" height="0.8" fill="#40464d" />
<rect x="772.8" y="237.3" width="2.6" height="0.7" fill="#7b828b" />
<rect x="796.4" y="233.6" width="3.2" height="0.6" fill="#2a2f35" />
<rect x="778.1" y="250.0" width="1.0" height="2.4" fill="#e4e6e8" />
<rect x="747.7" y="237.8" width="0.8" height="2.4" fill="#4a5058" />
<rect x="793.2" y="234.6" width="0.8" height="4.4" fill="#2a2f35" />
<rect x="755.2" y="239.7" width="3.4" height="1.1" fill="#2a2f35" />
<rect x="748.7" y="246.2" width="3.0" height="0.9" fill="#5f666e" />
<rect x="780.2" y="245.0" width="1.0" height="3.6" fill="#5f666e" />
<rect x="772.9" y="243.4" width="3.9" height="0.8" fill="#7b828b" />
<rect x="742.0" y="242.2" width="3.0" height="0.7" fill="#4a5058" />
<rect x="766.2" y="232.2" width="1.9" height="1.0" fill="#40464d" />
<rect x="791.1" y="239.6" width="0.9" height="3.8" fill="#7b828b" />
<rect x="776.8" y="235.7" width="1.0" height="2.1" fill="#e4e6e8" />
<rect x="769.0" y="241.3" width="2.3" height="1.1" fill="#5f666e" />
<rect x="790.4" y="235.6" width="0.9" height="1.5" fill="#40464d" />
<rect x="796.9" y="236.3" width="0.8" height="5.0" fill="#2a2f35" />
<rect x="776.1" y="247.9" width="4.4" height="0.7" fill="#7b828b" />
<rect x="792.3" y="246.7" width="3.0" height="0.7" fill="#2a2f35" />
<rect x="781.0" y="252.3" width="1.0" height="1.7" fill="#4a5058" />
<rect x="779.9" y="239.3" width="4.1" height="1.0" fill="#40464d" />
<rect x="781.4" y="251.2" width="2.0" height="0.9" fill="#e4e6e8" />
<rect x="790.3" y="236.6" width="1.0" height="3.9" fill="#e4e6e8" />
<rect x="765.5" y="242.1" width="3.6" height="0.8" fill="#e4e6e8" />
<rect x="741.5" y="252.5" width="0.6" height="1.5" fill="#40464d" />
<rect x="760.7" y="250.2" width="0.6" height="3.7" fill="#e4e6e8" />
<rect x="753.8" y="233.7" width="0.9" height="4.4" fill="#e4e6e8" />
<rect x="755.2" y="248.3" width="2.3" height="1.0" fill="#2a2f35" />
<rect x="789.7" y="250.8" width="3.9" height="0.6" fill="#40464d" />
<rect x="777.5" y="240.8" width="0.7" height="2.4" fill="#4a5058" />
<rect x="780.7" y="237.4" width="0.9" height="2.8" fill="#4a5058" />
<rect x="743.9" y="234.7" width="0.9" height="4.6" fill="#7b828b" />
<rect x="741.7" y="238.4" width="5.9" height="0.8" fill="#7b828b" />
<rect x="760.2" y="240.1" width="4.1" height="1.1" fill="#7b828b" />
<rect x="771.0" y="245.4" width="1.0" height="4.0" fill="#2a2f35" />
<rect x="758.1" y="250.8" width="0.9" height="2.5" fill="#2a2f35" />
<rect x="760.3" y="249.8" width="4.6" height="1.0" fill="#4a5058" />
<rect x="767.7" y="251.6" width="0.9" height="2.4" fill="#5f666e" />
<rect x="750.7" y="251.3" width="0.6" height="1.6" fill="#2a2f35" />
<rect x="746.9" y="232.4" width="4.8" height="0.8" fill="#4a5058" />
<rect x="756.9" y="244.1" width="5.6" height="1.0" fill="#40464d" />
<rect x="782.8" y="234.0" width="5.0" height="0.9" fill="#4a5058" />
<rect x="753.5" y="241.0" width="6.0" height="13.0" fill="#17191c" />
<rect x="760.0" y="232.0" width="46.0" height="22.0" fill="#adb5c0" />
<rect x="760.8" y="234.7" width="0.6" height="2.4" fill="#4a5058" />
<rect x="793.5" y="242.5" width="1.1" height="4.8" fill="#5f666e" />
<rect x="779.6" y="252.3" width="5.7" height="1.0" fill="#40464d" />
<rect x="770.8" y="234.5" width="2.3" height="1.1" fill="#2a2f35" />
<rect x="786.2" y="243.0" width="0.9" height="3.9" fill="#7b828b" />
<rect x="769.9" y="249.3" width="1.0" height="4.7" fill="#2a2f35" />
<rect x="796.1" y="236.9" width="1.0" height="3.4" fill="#e4e6e8" />
<rect x="783.2" y="230.7" width="1.1" height="3.7" fill="#e4e6e8" />
<rect x="795.4" y="231.3" width="2.7" height="0.8" fill="#4a5058" />
<rect x="799.0" y="247.6" width="1.0" height="2.2" fill="#e4e6e8" />
<rect x="799.3" y="249.3" width="4.9" height="0.7" fill="#40464d" />
<rect x="796.7" y="239.1" width="2.3" height="0.9" fill="#4a5058" />
<rect x="787.7" y="245.7" width="3.4" height="0.7" fill="#4a5058" />
<rect x="794.4" y="242.7" width="0.6" height="2.4" fill="#e4e6e8" />
<rect x="791.3" y="247.2" width="4.2" height="0.9" fill="#7b828b" />
<rect x="790.3" y="249.5" width="0.8" height="2.9" fill="#e4e6e8" />
<rect x="766.7" y="248.4" width="0.8" height="3.9" fill="#40464d" />
<rect x="790.9" y="236.9" width="1.9" height="0.9" fill="#2a2f35" />
<rect x="793.5" y="236.6" width="0.7" height="3.4" fill="#40464d" />
<rect x="803.1" y="250.7" width="1.7" height="0.7" fill="#2a2f35" />
<rect x="767.7" y="237.5" width="1.6" height="1.1" fill="#5f666e" />
<rect x="775.7" y="235.8" width="1.5" height="0.9" fill="#40464d" />
<rect x="762.4" y="242.2" width="2.8" height="1.0" fill="#4a5058" />
<rect x="767.8" y="239.2" width="0.8" height="1.9" fill="#7b828b" />
<rect x="795.7" y="249.5" width="3.4" height="0.7" fill="#7b828b" />
<rect x="782.5" y="235.8" width="4.3" height="0.8" fill="#40464d" />
<rect x="790.3" y="241.4" width="0.9" height="2.2" fill="#4a5058" />
<rect x="794.9" y="251.2" width="0.7" height="2.8" fill="#40464d" />
<rect x="775.9" y="251.6" width="0.8" height="2.4" fill="#4a5058" />
<rect x="800.5" y="252.0" width="0.9" height="2.0" fill="#2a2f35" />
<rect x="778.7" y="245.9" width="4.4" height="0.7" fill="#e4e6e8" />
<rect x="789.0" y="238.3" width="2.8" height="0.9" fill="#e4e6e8" />
<rect x="797.1" y="248.1" width="0.7" height="2.0" fill="#7b828b" />
<rect x="779.1" y="244.2" width="4.8" height="0.8" fill="#e4e6e8" />
<rect x="769.2" y="235.3" width="1.0" height="1.6" fill="#2a2f35" />
<rect x="761.2" y="245.2" width="1.0" height="4.0" fill="#e4e6e8" />
<rect x="797.9" y="237.4" width="3.6" height="0.6" fill="#4a5058" />
<rect x="801.2" y="231.7" width="1.0" height="2.8" fill="#4a5058" />
<rect x="774.6" y="246.3" width="0.7" height="4.5" fill="#e4e6e8" />
<rect x="767.3" y="250.7" width="0.9" height="3.3" fill="#5f666e" />
<rect x="797.1" y="241.7" width="0.8" height="2.3" fill="#5f666e" />
<rect x="761.5" y="230.7" width="1.9" height="0.8" fill="#40464d" />
<rect x="785.4" y="245.4" width="2.6" height="0.7" fill="#7b828b" />
<rect x="776.7" y="243.9" width="0.8" height="2.2" fill="#e4e6e8" />
<rect x="793.3" y="234.8" width="1.0" height="1.7" fill="#4a5058" />
<rect x="778.9" y="241.4" width="1.0" height="2.9" fill="#7b828b" />
<rect x="782.0" y="243.7" width="3.8" height="0.8" fill="#4a5058" />
<rect x="788.4" y="251.1" width="0.8" height="2.9" fill="#7b828b" />
<rect x="764.9" y="242.3" width="0.7" height="3.5" fill="#2a2f35" />
<rect x="761.2" y="246.5" width="5.2" height="1.0" fill="#5f666e" />
<rect x="792.2" y="232.4" width="1.1" height="4.5" fill="#40464d" />
<rect x="791.8" y="235.8" width="0.8" height="4.9" fill="#2a2f35" />
<rect x="799.7" y="236.5" width="0.8" height="4.6" fill="#7b828b" />
<rect x="785.1" y="232.1" width="4.7" height="0.9" fill="#40464d" />
<rect x="794.4" y="247.1" width="1.1" height="2.1" fill="#5f666e" />
<rect x="780.5" y="233.8" width="0.8" height="2.8" fill="#5f666e" />
<rect x="773.1" y="231.7" width="1.0" height="1.7" fill="#40464d" />
<rect x="775.8" y="247.7" width="0.6" height="2.2" fill="#40464d" />
<rect x="785.8" y="250.6" width="1.1" height="2.9" fill="#5f666e" />
<rect x="794.0" y="251.3" width="3.1" height="0.7" fill="#5f666e" />
<rect x="799.4" y="233.0" width="5.9" height="0.7" fill="#40464d" />
<rect x="779.6" y="248.4" width="4.9" height="0.7" fill="#5f666e" />
<rect x="792.0" y="242.5" width="0.9" height="4.8" fill="#5f666e" />
<rect x="783.5" y="233.2" width="0.6" height="4.2" fill="#40464d" />
<rect x="800.6" y="247.0" width="0.7" height="3.9" fill="#7b828b" />
<rect x="781.6" y="239.7" width="4.0" height="0.9" fill="#4a5058" />
<rect x="783.3" y="249.4" width="0.7" height="1.6" fill="#4a5058" />
<rect x="768.4" y="236.5" width="2.8" height="0.9" fill="#7b828b" />
<rect x="784.8" y="238.8" width="2.0" height="0.6" fill="#4a5058" />
<rect x="763.1" y="239.3" width="0.9" height="1.9" fill="#4a5058" />
<rect x="778.0" y="249.0" width="0.9" height="1.7" fill="#2a2f35" />
<rect x="772.8" y="242.6" width="5.7" height="0.9" fill="#7b828b" />
<rect x="769.6" y="249.2" width="6.0" height="0.8" fill="#2a2f35" />
<rect x="775.7" y="240.6" width="1.1" height="3.4" fill="#e4e6e8" />
<rect x="790.7" y="240.7" width="2.1" height="0.7" fill="#2a2f35" />
<rect x="771.6" y="231.1" width="4.6" height="0.8" fill="#e4e6e8" />
<rect x="774.5" y="238.3" width="0.7" height="3.7" fill="#2a2f35" />
<rect x="793.1" y="236.5" width="1.0" height="1.9" fill="#7b828b" />
<rect x="799.5" y="230.9" width="0.9" height="4.3" fill="#e4e6e8" />
<rect x="779.2" y="233.2" width="2.2" height="1.1" fill="#7b828b" />
<rect x="798.5" y="235.1" width="0.9" height="2.6" fill="#5f666e" />
<rect x="772.4" y="247.5" width="2.2" height="1.1" fill="#7b828b" />
<rect x="770.2" y="237.1" width="4.6" height="0.9" fill="#4a5058" />
<rect x="801.4" y="235.7" width="0.7" height="1.5" fill="#5f666e" />
<rect x="803.9" y="234.0" width="0.8" height="2.7" fill="#4a5058" />
<rect x="774.8" y="244.0" width="1.1" height="3.8" fill="#5f666e" />
<rect x="784.7" y="234.2" width="0.6" height="4.7" fill="#4a5058" />
<rect x="785.3" y="240.7" width="4.9" height="0.9" fill="#4a5058" />
<rect x="794.3" y="238.7" width="5.3" height="0.9" fill="#7b828b" />
<rect x="770.6" y="234.6" width="0.8" height="4.1" fill="#5f666e" />
<rect x="777.0" y="243.5" width="20.0" height="4.2" fill="#15171a" />
<rect x="777.0" y="249.0" width="20.0" height="4.6" fill="#15171a" />
<path d="M790,226.4 L803,226.4 L805,233 L788.6,233 Z" fill="#1b302d" />
<path d="M803,227 L815,252 L808,252 L799,233 Z" fill="#a4acb6" stroke="#5a6068" stroke-width="0.60" />
<rect x="806.0" y="240.0" width="5.6" height="13.0" fill="#1c1f23" />
<rect x="812.0" y="236.0" width="14.0" height="6.0" fill="#9aa0a8" />
<rect x="815.0" y="233.0" width="9.0" height="4.0" fill="#3a3f45" />
<path d="M813,254 L813,242 L832,238.4 L850,240 L856,254 Z" fill="#cfd3d8" />
<rect x="822.5" y="243.0" width="5.6" height="10" rx="2.6" fill="#e8eaec" stroke="#4a5058" stroke-width="0.8"/>
<rect x="840.0" y="243.0" width="5.6" height="10" rx="2.6" fill="#e8eaec" stroke="#4a5058" stroke-width="0.8"/>
<line x1="829.0" y1="229.0" x2="832.0" y2="238.0" stroke="#50565d" stroke-width="0.80" />
<line x1="835.0" y1="224.0" x2="837.0" y2="238.0" stroke="#50565d" stroke-width="0.80" />
<line x1="838.0" y1="238.0" x2="842.0" y2="226.0" stroke="#50565d" stroke-width="0.80" />
<line x1="842.0" y1="226.0" x2="846.0" y2="231.0" stroke="#50565d" stroke-width="0.80" />
<line x1="846.0" y1="231.0" x2="850.0" y2="223.0" stroke="#50565d" stroke-width="0.80" />
<line x1="850.0" y1="223.0" x2="852.0" y2="240.0" stroke="#50565d" stroke-width="0.80" />
<line x1="822.0" y1="231.0" x2="825.0" y2="239.0" stroke="#50565d" stroke-width="0.80" />
<rect x="827.5" y="227.6" width="3.0" height="2.0" fill="#3a3f45" />
<rect x="849.0" y="221.6" width="2.4" height="2.0" fill="#3a3f45" />
<rect x="856.0" y="247.0" width="18.0" height="7.5" fill="#c3c7cd" />
<rect x="865.4" y="246.3" width="0.9" height="4.6" fill="#6f767e" />
<rect x="871.6" y="249.0" width="1.0" height="1.8" fill="#3a3f45" />
<rect x="861.2" y="252.0" width="1.9" height="1.0" fill="#3a3f45" />
<rect x="863.1" y="250.5" width="1.0" height="2.2" fill="#2a2e33" />
<rect x="867.8" y="246.7" width="0.8" height="5.0" fill="#2a2e33" />
<rect x="871.9" y="251.2" width="1.0" height="2.8" fill="#2a2e33" />
<rect x="860.4" y="250.3" width="0.9" height="1.5" fill="#2a2e33" />
<rect x="868.0" y="252.5" width="1.0" height="1.5" fill="#2a2e33" />
<rect x="861.2" y="248.3" width="1.1" height="3.3" fill="#3a3f45" />
<rect x="869.2" y="248.0" width="1.1" height="1.6" fill="#3a3f45" />
<rect x="867.5" y="246.5" width="1.0" height="1.5" fill="#3a3f45" />
<rect x="858.2" y="248.3" width="0.9" height="3.2" fill="#3a3f45" />
<path d="M856,240 L859,254 L856,254 Z" fill="#8b929b" />
<path d="M652,330.2 Q644,331 645.4,341 Q647,348.6 656,348.4 L760,348.8 L860,348.4 L896,348 Q903.4,346 902,339 Q900,334 893,334.6 L888,341.4 L760,341.6 L662,341.4 L660,331 Z" fill="#121415" />
<rect x="886.4" y="302.5" width="4.6" height="26.5" fill="#c9cdd2" />
<rect x="884.8" y="300.5" width="1.4" height="29.0" fill="#5a6068" />
<rect x="871.2" y="300.0" width="13.8" height="13.8" fill="#222a3a" />
<rect x="871.2" y="313.8" width="13.8" height="16.2" fill="#d2d5da" />
<rect x="873.5" y="315.0" width="10.0" height="3.0" fill="#eceef0" />
<rect x="872.5" y="322.2" width="11.0" height="3.9" fill="#2f3946" />
<rect x="867.0" y="300.0" width="4.4" height="24.6" fill="#93272f" />
<rect x="867.0" y="313.8" width="4.4" height="3.0" fill="#c9555a" />
<path d="M867.2,300.5 L856.6,312.6 L866.8,325.2 Z" fill="#a9aeb8" stroke="#3a3f45" stroke-width="0.60" />
<line x1="866.8" y1="302.0" x2="857.6" y2="312.6" stroke="#b05a62" stroke-width="0.50" />
<line x1="866.8" y1="307.0" x2="858.0" y2="312.6" stroke="#eceef0" stroke-width="0.50" />
<line x1="866.8" y1="312.0" x2="858.4" y2="312.6" stroke="#b05a62" stroke-width="0.50" />
<line x1="866.8" y1="317.0" x2="858.8" y2="312.6" stroke="#eceef0" stroke-width="0.50" />
<line x1="866.8" y1="322.0" x2="859.2" y2="312.6" stroke="#b05a62" stroke-width="0.50" />
<line x1="867.0" y1="300.3" x2="856.2" y2="312.6" stroke="#30343a" stroke-width="0.90" />
<line x1="856.2" y1="312.6" x2="861.2" y2="327.0" stroke="#5a6068" stroke-width="0.70" />
<path d="M661,331.5 L663,341.2 L760,341.4 L888,341.2 L893,334 L880,332.4 L760,333.4 Z" fill="#bcc3cd" />
<rect x="827.6" y="333.3" width="0.9" height="1.9" fill="#6f767e" />
<rect x="816.7" y="335.5" width="0.9" height="3.5" fill="#8b929b" />
<rect x="786.7" y="336.5" width="5.0" height="0.7" fill="#8b929b" />
<rect x="862.3" y="336.0" width="4.8" height="0.6" fill="#a7adb5" />
<rect x="721.7" y="336.1" width="0.7" height="3.4" fill="#6f767e" />
<rect x="697.2" y="334.4" width="2.0" height="0.6" fill="#8b929b" />
<rect x="672.7" y="338.4" width="0.7" height="2.6" fill="#8b929b" />
<rect x="769.2" y="339.2" width="4.6" height="0.7" fill="#6f767e" />
<rect x="810.0" y="337.0" width="3.5" height="0.8" fill="#e4e6e8" />
<rect x="686.0" y="333.4" width="1.0" height="4.0" fill="#e4e6e8" />
<rect x="689.1" y="335.2" width="5.1" height="0.9" fill="#8b929b" />
<rect x="712.6" y="335.3" width="0.6" height="1.6" fill="#e4e6e8" />
<rect x="880.1" y="336.9" width="0.8" height="4.1" fill="#e4e6e8" />
<rect x="869.5" y="336.0" width="0.6" height="4.8" fill="#8b929b" />
<rect x="746.6" y="336.4" width="5.9" height="1.0" fill="#8b929b" />
<rect x="864.3" y="336.3" width="1.1" height="4.6" fill="#6f767e" />
<rect x="668.9" y="334.7" width="1.0" height="2.1" fill="#6f767e" />
<rect x="733.9" y="339.0" width="4.7" height="0.6" fill="#a7adb5" />
<rect x="878.2" y="335.2" width="1.1" height="1.9" fill="#8b929b" />
<rect x="729.9" y="337.2" width="3.9" height="0.6" fill="#6f767e" />
<rect x="769.5" y="333.9" width="0.8" height="2.2" fill="#6f767e" />
<rect x="828.3" y="334.1" width="0.9" height="4.8" fill="#6f767e" />
<rect x="861.5" y="333.4" width="2.2" height="1.0" fill="#8b929b" />
<rect x="847.6" y="334.7" width="3.9" height="0.8" fill="#a7adb5" />
<rect x="826.5" y="337.1" width="0.9" height="1.6" fill="#a7adb5" />
<rect x="689.3" y="333.5" width="3.5" height="0.7" fill="#8b929b" />
<rect x="825.6" y="338.2" width="0.7" height="2.8" fill="#e4e6e8" />
<rect x="837.0" y="333.2" width="3.4" height="0.6" fill="#8b929b" />
<rect x="749.0" y="336.9" width="3.9" height="0.7" fill="#6f767e" />
<rect x="813.2" y="336.9" width="0.7" height="4.1" fill="#e4e6e8" />
<rect x="762.9" y="334.2" width="5.8" height="0.8" fill="#8b929b" />
<rect x="855.1" y="334.7" width="2.8" height="0.9" fill="#a7adb5" />
<rect x="703.0" y="338.3" width="3.4" height="0.7" fill="#e4e6e8" />
<rect x="686.4" y="338.1" width="0.6" height="2.9" fill="#8b929b" />
<rect x="824.2" y="333.9" width="4.6" height="0.8" fill="#8b929b" />
<rect x="844.6" y="334.1" width="0.8" height="1.6" fill="#a7adb5" />
<rect x="817.3" y="333.3" width="4.5" height="1.1" fill="#e4e6e8" />
<rect x="678.0" y="334.4" width="0.7" height="2.8" fill="#6f767e" />
<rect x="837.1" y="338.6" width="5.9" height="0.9" fill="#e4e6e8" />
<rect x="842.5" y="336.9" width="3.4" height="0.7" fill="#a7adb5" />
<rect x="785.2" y="338.8" width="3.5" height="0.7" fill="#e4e6e8" />
<rect x="885.6" y="334.8" width="0.9" height="2.8" fill="#a7adb5" />
<rect x="830.3" y="335.5" width="4.2" height="1.0" fill="#6f767e" />
<rect x="735.5" y="333.9" width="2.7" height="1.1" fill="#e4e6e8" />
<rect x="669.2" y="335.3" width="2.0" height="1.0" fill="#6f767e" />
<rect x="712.9" y="336.4" width="4.9" height="1.0" fill="#8b929b" />
<rect x="716.5" y="335.2" width="0.9" height="2.3" fill="#a7adb5" />
<rect x="748.1" y="337.2" width="5.5" height="1.0" fill="#8b929b" />
<rect x="769.9" y="334.1" width="0.9" height="3.8" fill="#e4e6e8" />
<rect x="785.0" y="336.7" width="0.9" height="3.4" fill="#a7adb5" />
<rect x="855.8" y="336.3" width="1.1" height="3.8" fill="#6f767e" />
<rect x="685.5" y="339.0" width="0.6" height="2.0" fill="#6f767e" />
<rect x="667.7" y="333.2" width="0.8" height="3.6" fill="#e4e6e8" />
<rect x="803.0" y="336.8" width="3.9" height="0.6" fill="#a7adb5" />
<rect x="722.1" y="335.6" width="4.9" height="0.8" fill="#8b929b" />
<rect x="721.7" y="333.9" width="1.0" height="4.6" fill="#8b929b" />
<rect x="806.6" y="334.0" width="0.8" height="3.7" fill="#8b929b" />
<rect x="868.5" y="339.1" width="0.6" height="1.9" fill="#8b929b" />
<rect x="668.2" y="337.2" width="2.0" height="0.8" fill="#6f767e" />
<rect x="829.1" y="335.7" width="4.3" height="0.9" fill="#e4e6e8" />
<rect x="858.9" y="337.3" width="1.0" height="2.2" fill="#6f767e" />
<rect x="707.1" y="334.2" width="2.0" height="1.1" fill="#8b929b" />
<rect x="772.7" y="336.7" width="5.4" height="1.0" fill="#e4e6e8" />
<rect x="730.9" y="333.7" width="0.7" height="2.4" fill="#6f767e" />
<rect x="763.8" y="336.4" width="2.8" height="1.1" fill="#a7adb5" />
<rect x="831.6" y="336.5" width="1.0" height="2.3" fill="#a7adb5" />
<rect x="710.1" y="334.0" width="0.9" height="3.2" fill="#8b929b" />
<rect x="823.6" y="333.7" width="3.7" height="0.6" fill="#8b929b" />
<rect x="721.8" y="338.4" width="4.1" height="0.9" fill="#a7adb5" />
<rect x="680.2" y="339.3" width="0.8" height="1.7" fill="#a7adb5" />
<rect x="662.0" y="326.0" width="22.0" height="7.0" fill="#c3c7cd" />
<rect x="665.8" y="325.1" width="5.5" height="0.9" fill="#6f767e" />
<rect x="662.9" y="330.4" width="1.0" height="2.6" fill="#2a2e33" />
<rect x="682.0" y="325.3" width="2.0" height="0.8" fill="#2a2e33" />
<rect x="672.0" y="329.0" width="0.9" height="3.3" fill="#2a2e33" />
<rect x="665.4" y="325.7" width="0.9" height="4.0" fill="#3a3f45" />
<rect x="674.2" y="325.2" width="4.3" height="0.7" fill="#2a2e33" />
<rect x="676.4" y="325.4" width="1.0" height="1.6" fill="#3a3f45" />
<rect x="677.6" y="326.8" width="1.1" height="3.6" fill="#2a2e33" />
<rect x="662.2" y="328.5" width="2.8" height="1.1" fill="#6f767e" />
<rect x="677.1" y="328.4" width="5.9" height="1.0" fill="#3a3f45" />
<rect x="675.2" y="325.8" width="3.0" height="0.8" fill="#2a2e33" />
<rect x="672.9" y="330.5" width="1.8" height="0.7" fill="#3a3f45" />
<rect x="670.8" y="328.1" width="0.7" height="3.8" fill="#2a2e33" />
<rect x="662.6" y="325.7" width="4.8" height="0.8" fill="#3a3f45" />
<path d="M682,334 L685,318 L690,310 L710,310 L716,318 L716,334 Z" fill="#d1d4d9" />
<path d="M689.5,310.4 L709.5,310.4 L711.5,316.6 L686.5,316.6 Z" fill="#2a57ab" />
<line x1="694.0" y1="310.6" x2="694.0" y2="316.4" stroke="#9db6e0" stroke-width="0.60" />
<line x1="699.0" y1="310.6" x2="699.0" y2="316.4" stroke="#9db6e0" stroke-width="0.60" />
<line x1="704.0" y1="310.6" x2="704.0" y2="316.4" stroke="#9db6e0" stroke-width="0.60" />
<rect x="690.0" y="321.5" width="5.0" height="2.6" fill="#2a2e33" />
<rect x="703.5" y="320.5" width="4.4" height="5.0" fill="#e8eaec" />
<line x1="692.0" y1="300.0" x2="697.0" y2="310.0" stroke="#3f444a" stroke-width="1.10" />
<line x1="693.0" y1="301.0" x2="700.0" y2="305.0" stroke="#3f444a" stroke-width="1.10" />
<line x1="688.0" y1="306.0" x2="689.0" y2="311.0" stroke="#3f444a" stroke-width="1.10" />
<line x1="707.0" y1="303.0" x2="708.0" y2="310.0" stroke="#3f444a" stroke-width="1.10" />
<line x1="681.0" y1="320.0" x2="684.0" y2="333.0" stroke="#3f444a" stroke-width="1.10" />
<circle cx="688.6" cy="306" r="1.7" fill="#2a2e33"/>
<rect x="710.0" y="308.6" width="10.0" height="4.0" fill="#8d949c" />
<rect x="716.0" y="316.0" width="8.0" height="18.0" fill="#adb5c0" />
<rect x="719.5" y="320.0" width="5.0" height="10.5" fill="#1a1c20" />
<path d="M727,303.6 L740.6,303.6 L742,309.6 L725.6,309.6 Z" fill="#1b302d" />
<path d="M727,304 L722,318 L726,334 L733,334 L730,310 Z" fill="#b4bbc5" stroke="#5a6068" stroke-width="0.60" />
<rect x="728.0" y="309.6" width="64.0" height="24.6" fill="#adb5c0" />
<rect x="782.8" y="326.0" width="5.8" height="1.1" fill="#5f666e" />
<rect x="733.6" y="330.9" width="5.9" height="0.8" fill="#7b828b" />
<rect x="749.5" y="315.0" width="2.0" height="0.7" fill="#7b828b" />
<rect x="776.0" y="314.0" width="3.2" height="0.8" fill="#2a2f35" />
<rect x="739.0" y="330.0" width="3.8" height="1.0" fill="#5f666e" />
<rect x="771.4" y="326.7" width="0.7" height="2.1" fill="#5f666e" />
<rect x="762.4" y="327.1" width="5.3" height="0.9" fill="#e4e6e8" />
<rect x="772.1" y="329.2" width="0.6" height="1.7" fill="#2a2f35" />
<rect x="762.9" y="313.3" width="3.4" height="0.9" fill="#4a5058" />
<rect x="748.6" y="309.3" width="0.8" height="3.7" fill="#7b828b" />
<rect x="773.1" y="323.4" width="1.9" height="0.9" fill="#2a2f35" />
<rect x="767.3" y="332.1" width="0.8" height="1.9" fill="#7b828b" />
<rect x="734.3" y="324.1" width="2.9" height="0.9" fill="#40464d" />
<rect x="739.7" y="323.0" width="4.6" height="1.0" fill="#2a2f35" />
<rect x="770.4" y="310.4" width="0.9" height="2.2" fill="#40464d" />
<rect x="760.7" y="323.7" width="0.8" height="2.5" fill="#4a5058" />
<rect x="775.9" y="332.2" width="1.0" height="1.8" fill="#2a2f35" />
<rect x="744.6" y="330.9" width="2.4" height="0.8" fill="#4a5058" />
<rect x="765.8" y="310.4" width="0.8" height="3.1" fill="#7b828b" />
<rect x="783.5" y="315.8" width="1.1" height="1.6" fill="#4a5058" />
<rect x="757.7" y="322.1" width="3.5" height="0.7" fill="#e4e6e8" />
<rect x="729.5" y="323.3" width="2.0" height="0.8" fill="#7b828b" />
<rect x="731.9" y="324.2" width="5.6" height="0.7" fill="#40464d" />
<rect x="766.7" y="308.9" width="1.0" height="3.6" fill="#7b828b" />
<rect x="761.8" y="308.2" width="0.8" height="4.8" fill="#4a5058" />
<rect x="761.8" y="322.8" width="0.8" height="2.6" fill="#e4e6e8" />
<rect x="789.6" y="311.1" width="1.0" height="2.2" fill="#7b828b" />
<rect x="754.9" y="308.0" width="2.9" height="0.9" fill="#2a2f35" />
<rect x="789.2" y="310.8" width="0.6" height="1.9" fill="#e4e6e8" />
<rect x="736.7" y="326.0" width="0.8" height="3.0" fill="#4a5058" />
<rect x="767.5" y="332.1" width="0.8" height="1.7" fill="#4a5058" />
<rect x="774.8" y="311.4" width="0.7" height="3.0" fill="#7b828b" />
<rect x="775.2" y="326.1" width="1.9" height="1.0" fill="#40464d" />
<rect x="784.6" y="326.3" width="5.0" height="1.0" fill="#5f666e" />
<rect x="748.3" y="310.1" width="1.0" height="3.3" fill="#5f666e" />
<rect x="754.0" y="320.9" width="1.8" height="1.0" fill="#2a2f35" />
<rect x="756.2" y="321.7" width="0.9" height="1.7" fill="#5f666e" />
<rect x="735.8" y="328.1" width="0.8" height="2.7" fill="#4a5058" />
<rect x="760.6" y="319.2" width="0.7" height="3.3" fill="#5f666e" />
<rect x="741.1" y="318.3" width="3.5" height="0.8" fill="#4a5058" />
<rect x="750.1" y="316.0" width="5.9" height="1.1" fill="#40464d" />
<rect x="771.0" y="317.0" width="1.0" height="2.4" fill="#5f666e" />
<rect x="761.0" y="331.7" width="4.2" height="0.7" fill="#40464d" />
<rect x="770.1" y="324.2" width="0.9" height="3.9" fill="#4a5058" />
<rect x="728.8" y="326.2" width="0.6" height="2.6" fill="#e4e6e8" />
<rect x="749.4" y="313.9" width="0.7" height="2.8" fill="#2a2f35" />
<rect x="745.1" y="309.6" width="0.9" height="3.8" fill="#5f666e" />
<rect x="757.9" y="310.7" width="5.9" height="0.8" fill="#e4e6e8" />
<rect x="742.7" y="311.2" width="2.2" height="1.0" fill="#40464d" />
<rect x="752.7" y="320.5" width="5.3" height="0.7" fill="#40464d" />
<rect x="756.4" y="311.9" width="0.8" height="3.1" fill="#2a2f35" />
<rect x="784.8" y="310.4" width="0.8" height="4.7" fill="#40464d" />
<rect x="771.6" y="325.8" width="4.0" height="0.9" fill="#5f666e" />
<rect x="769.5" y="323.4" width="3.5" height="0.8" fill="#4a5058" />
<rect x="744.6" y="322.1" width="0.7" height="2.6" fill="#4a5058" />
<rect x="736.9" y="309.3" width="0.7" height="4.5" fill="#e4e6e8" />
<rect x="782.8" y="320.2" width="2.2" height="0.8" fill="#40464d" />
<rect x="731.3" y="328.6" width="1.9" height="0.7" fill="#40464d" />
<rect x="787.2" y="331.5" width="0.7" height="2.5" fill="#40464d" />
<rect x="773.3" y="325.9" width="0.7" height="3.4" fill="#40464d" />
<rect x="789.6" y="316.3" width="0.8" height="4.0" fill="#5f666e" />
<rect x="773.0" y="321.8" width="3.7" height="0.9" fill="#5f666e" />
<rect x="741.1" y="326.9" width="0.9" height="4.1" fill="#4a5058" />
<rect x="749.9" y="313.0" width="3.9" height="0.7" fill="#2a2f35" />
<rect x="733.2" y="312.9" width="0.6" height="4.5" fill="#4a5058" />
<rect x="756.8" y="322.0" width="3.0" height="0.8" fill="#7b828b" />
<rect x="770.2" y="323.3" width="1.0" height="2.6" fill="#7b828b" />
<rect x="787.8" y="328.8" width="2.6" height="0.9" fill="#e4e6e8" />
<rect x="771.9" y="329.6" width="0.9" height="1.6" fill="#e4e6e8" />
<rect x="747.3" y="321.3" width="0.8" height="4.6" fill="#e4e6e8" />
<rect x="741.7" y="331.3" width="1.8" height="1.1" fill="#4a5058" />
<rect x="764.7" y="331.3" width="4.9" height="0.7" fill="#5f666e" />
<rect x="773.7" y="318.4" width="2.6" height="0.7" fill="#5f666e" />
<rect x="778.2" y="322.6" width="4.4" height="0.8" fill="#e4e6e8" />
<rect x="758.5" y="312.8" width="0.7" height="3.4" fill="#2a2f35" />
<rect x="745.5" y="308.7" width="2.5" height="0.9" fill="#5f666e" />
<rect x="753.7" y="323.2" width="2.3" height="1.0" fill="#5f666e" />
<rect x="757.9" y="318.5" width="4.2" height="1.0" fill="#7b828b" />
<rect x="736.3" y="312.4" width="2.1" height="0.8" fill="#5f666e" />
<rect x="733.7" y="316.4" width="1.0" height="3.8" fill="#4a5058" />
<rect x="789.6" y="327.2" width="0.8" height="4.6" fill="#40464d" />
<rect x="756.6" y="319.3" width="0.6" height="3.9" fill="#7b828b" />
<rect x="770.1" y="310.7" width="0.6" height="4.7" fill="#5f666e" />
<rect x="782.3" y="326.1" width="4.2" height="0.8" fill="#2a2f35" />
<rect x="784.9" y="315.0" width="5.7" height="0.8" fill="#5f666e" />
<rect x="769.3" y="322.0" width="2.7" height="0.7" fill="#2a2f35" />
<rect x="733.7" y="327.7" width="0.9" height="3.3" fill="#7b828b" />
<rect x="776.7" y="308.8" width="0.8" height="4.6" fill="#2a2f35" />
<rect x="785.3" y="322.9" width="2.0" height="0.8" fill="#4a5058" />
<rect x="756.0" y="313.8" width="2.3" height="0.9" fill="#4a5058" />
<rect x="736.2" y="331.8" width="0.8" height="2.2" fill="#e4e6e8" />
<rect x="767.0" y="312.3" width="2.9" height="0.8" fill="#4a5058" />
<rect x="758.4" y="325.8" width="0.7" height="3.4" fill="#e4e6e8" />
<rect x="786.4" y="322.7" width="1.5" height="0.6" fill="#2a2f35" />
<rect x="789.2" y="326.3" width="0.7" height="3.6" fill="#7b828b" />
<rect x="751.2" y="314.0" width="1.0" height="3.6" fill="#4a5058" />
<rect x="778.6" y="308.3" width="5.2" height="0.8" fill="#e4e6e8" />
<rect x="780.0" y="326.0" width="3.5" height="1.0" fill="#e4e6e8" />
<rect x="732.2" y="314.4" width="0.9" height="2.9" fill="#4a5058" />
<rect x="760.7" y="329.6" width="4.3" height="0.8" fill="#5f666e" />
<rect x="783.5" y="326.0" width="1.0" height="4.4" fill="#5f666e" />
<rect x="767.2" y="331.7" width="1.1" height="2.3" fill="#5f666e" />
<rect x="740.4" y="317.9" width="4.8" height="1.0" fill="#40464d" />
<rect x="776.8" y="320.0" width="5.3" height="0.7" fill="#5f666e" />
<rect x="785.5" y="327.8" width="0.8" height="1.6" fill="#40464d" />
<rect x="756.9" y="318.7" width="0.8" height="2.9" fill="#2a2f35" />
<rect x="777.4" y="314.1" width="0.6" height="3.3" fill="#5f666e" />
<rect x="735.9" y="310.2" width="3.2" height="0.7" fill="#40464d" />
<rect x="774.9" y="317.6" width="1.0" height="2.9" fill="#2a2f35" />
<rect x="779.4" y="325.3" width="1.8" height="1.1" fill="#40464d" />
<rect x="741.1" y="316.8" width="5.8" height="1.0" fill="#40464d" />
<rect x="769.1" y="332.0" width="4.7" height="0.8" fill="#7b828b" />
<rect x="779.4" y="327.3" width="5.4" height="0.7" fill="#7b828b" />
<rect x="788.8" y="309.0" width="3.2" height="0.9" fill="#7b828b" />
<rect x="781.6" y="330.9" width="1.0" height="1.7" fill="#2a2f35" />
<rect x="774.2" y="318.9" width="2.9" height="1.0" fill="#e4e6e8" />
<rect x="735.9" y="314.9" width="5.3" height="0.9" fill="#5f666e" />
<rect x="763.6" y="331.6" width="1.0" height="2.4" fill="#2a2f35" />
<rect x="780.0" y="328.0" width="5.7" height="1.0" fill="#5f666e" />
<rect x="758.7" y="320.0" width="0.9" height="2.6" fill="#7b828b" />
<rect x="784.3" y="328.9" width="0.8" height="3.9" fill="#4a5058" />
<rect x="748.5" y="315.0" width="1.6" height="0.7" fill="#2a2f35" />
<rect x="788.2" y="323.5" width="0.6" height="3.4" fill="#4a5058" />
<rect x="744.4" y="308.6" width="0.9" height="4.8" fill="#5f666e" />
<rect x="780.4" y="329.2" width="0.7" height="2.2" fill="#5f666e" />
<rect x="767.3" y="316.4" width="2.2" height="0.6" fill="#2a2f35" />
<rect x="770.3" y="315.6" width="0.7" height="4.9" fill="#40464d" />
<rect x="764.5" y="312.6" width="0.9" height="1.8" fill="#40464d" />
<rect x="743.0" y="309.0" width="0.7" height="3.4" fill="#5f666e" />
<rect x="748.8" y="318.5" width="1.0" height="2.8" fill="#5f666e" />
<rect x="742.5" y="319.0" width="16.0" height="4.0" fill="#15171a" />
<rect x="742.5" y="324.6" width="16.0" height="4.0" fill="#15171a" />
<rect x="744.5" y="312.0" width="3.7" height="5.0" fill="#59616a" />
<rect x="749.2" y="312.0" width="3.7" height="5.0" fill="#59616a" />
<rect x="753.8" y="312.0" width="3.7" height="5.0" fill="#59616a" />
<rect x="758.5" y="312.0" width="3.7" height="5.0" fill="#59616a" />
<rect x="763.2" y="312.0" width="3.7" height="5.0" fill="#59616a" />
<rect x="767.8" y="312.0" width="3.7" height="5.0" fill="#59616a" />
<rect x="776.5" y="318.0" width="6.0" height="12.5" fill="#17191c" />
<rect x="783.0" y="312.0" width="24.0" height="22.0" fill="#adb5c0" />
<rect x="803.0" y="328.6" width="0.7" height="4.0" fill="#4a5058" />
<rect x="806.3" y="332.3" width="5.7" height="0.8" fill="#4a5058" />
<rect x="785.2" y="310.2" width="0.9" height="1.9" fill="#5f666e" />
<rect x="794.0" y="313.1" width="0.7" height="2.3" fill="#7b828b" />
<rect x="795.4" y="321.7" width="4.8" height="0.8" fill="#2a2f35" />
<rect x="801.3" y="319.6" width="1.6" height="1.1" fill="#2a2f35" />
<rect x="799.5" y="320.0" width="3.0" height="0.7" fill="#5f666e" />
<rect x="787.5" y="319.9" width="5.8" height="0.8" fill="#4a5058" />
<rect x="807.8" y="324.5" width="4.2" height="1.0" fill="#7b828b" />
<rect x="797.5" y="326.2" width="1.1" height="2.8" fill="#40464d" />
<rect x="792.2" y="327.1" width="3.6" height="0.8" fill="#5f666e" />
<rect x="791.4" y="328.3" width="1.9" height="0.9" fill="#7b828b" />
<rect x="805.6" y="323.1" width="1.0" height="4.1" fill="#7b828b" />
<rect x="796.7" y="320.4" width="2.6" height="0.7" fill="#4a5058" />
<rect x="809.8" y="313.9" width="2.2" height="0.8" fill="#4a5058" />
<rect x="791.5" y="331.7" width="2.1" height="0.7" fill="#7b828b" />
<rect x="798.3" y="330.8" width="1.0" height="2.2" fill="#2a2f35" />
<rect x="788.9" y="315.7" width="0.7" height="1.5" fill="#4a5058" />
<rect x="808.8" y="318.8" width="0.8" height="3.8" fill="#2a2f35" />
<rect x="794.3" y="314.6" width="1.1" height="3.2" fill="#4a5058" />
<rect x="790.8" y="323.5" width="4.9" height="0.9" fill="#e4e6e8" />
<rect x="786.9" y="313.2" width="2.7" height="0.8" fill="#4a5058" />
<rect x="794.6" y="325.2" width="0.9" height="1.5" fill="#2a2f35" />
<rect x="809.3" y="318.4" width="0.7" height="2.2" fill="#40464d" />
<rect x="802.3" y="321.7" width="3.5" height="1.0" fill="#e4e6e8" />
<rect x="798.3" y="320.3" width="0.9" height="2.8" fill="#2a2f35" />
<rect x="800.0" y="315.4" width="0.9" height="4.2" fill="#7b828b" />
<rect x="793.6" y="310.9" width="2.9" height="0.7" fill="#4a5058" />
<rect x="786.0" y="320.2" width="0.8" height="4.2" fill="#5f666e" />
<rect x="787.7" y="315.9" width="1.1" height="2.1" fill="#5f666e" />
<rect x="800.2" y="316.0" width="3.4" height="0.9" fill="#5f666e" />
<rect x="807.3" y="311.0" width="4.7" height="0.8" fill="#5f666e" />
<rect x="791.4" y="317.4" width="0.7" height="2.2" fill="#4a5058" />
<rect x="796.9" y="323.7" width="0.7" height="2.7" fill="#2a2f35" />
<rect x="791.1" y="325.4" width="3.7" height="1.0" fill="#40464d" />
<path d="M784,309 q1.8,-3 3.6,0 v4 h-3.6 Z" fill="#8b929b" />
<rect x="800.0" y="308.6" width="11.0" height="4.0" fill="#858c95" />
<rect x="814.0" y="308.6" width="11.0" height="4.0" fill="#858c95" />
<rect x="798.0" y="313.0" width="32.0" height="4.0" fill="#dfe1e4" />
<rect x="799.0" y="312.6" width="5.1" height="4.0" fill="#4a5159" />
<rect x="805.1" y="312.6" width="5.1" height="4.0" fill="#4a5159" />
<rect x="811.2" y="312.6" width="5.1" height="4.0" fill="#4a5159" />
<rect x="817.3" y="312.6" width="5.1" height="4.0" fill="#4a5159" />
<rect x="823.4" y="312.6" width="5.1" height="4.0" fill="#4a5159" />
<rect x="798.0" y="318.0" width="32.0" height="3.0" fill="#e4e6e8" />
<rect x="799.0" y="324.4" width="6.6" height="7.0" fill="#15171a" />
<rect x="806.6" y="324.4" width="6.6" height="7.0" fill="#15171a" />
<rect x="814.2" y="324.4" width="6.6" height="7.0" fill="#15171a" />
<rect x="821.9" y="324.4" width="6.6" height="7.0" fill="#15171a" />
<rect x="830.0" y="316.0" width="14.0" height="18.0" fill="#c3c8ce" />
<rect x="847.2" y="318.5" width="0.6" height="2.8" fill="#e4e6e8" />
<rect x="841.2" y="316.1" width="1.0" height="4.9" fill="#7b828b" />
<rect x="853.0" y="320.7" width="0.9" height="1.6" fill="#2a2f35" />
<rect x="846.2" y="319.5" width="0.6" height="2.3" fill="#4a5058" />
<rect x="842.5" y="317.8" width="6.0" height="0.8" fill="#7b828b" />
<rect x="835.1" y="327.1" width="5.1" height="1.0" fill="#4a5058" />
<rect x="847.5" y="321.9" width="1.0" height="2.1" fill="#5f666e" />
<rect x="832.6" y="316.4" width="0.8" height="4.0" fill="#4a5058" />
<rect x="834.2" y="322.5" width="3.4" height="0.8" fill="#40464d" />
<rect x="844.5" y="329.3" width="3.1" height="0.9" fill="#7b828b" />
<rect x="849.7" y="327.0" width="1.8" height="0.7" fill="#40464d" />
<rect x="840.7" y="320.8" width="0.7" height="3.2" fill="#7b828b" />
<rect x="849.2" y="318.9" width="1.0" height="2.5" fill="#e4e6e8" />
<rect x="837.1" y="323.8" width="0.8" height="3.0" fill="#4a5058" />
<rect x="840.7" y="324.4" width="1.7" height="0.7" fill="#4a5058" />
<rect x="844.2" y="322.5" width="0.7" height="2.5" fill="#7b828b" />
<rect x="851.5" y="324.5" width="1.7" height="0.8" fill="#40464d" />
<rect x="835.4" y="324.7" width="1.8" height="0.7" fill="#e4e6e8" />
<rect x="848.2" y="328.7" width="0.9" height="2.7" fill="#e4e6e8" />
<rect x="838.3" y="314.9" width="1.0" height="3.2" fill="#4a5058" />
<rect x="838.8" y="332.0" width="4.0" height="0.8" fill="#2a2f35" />
<rect x="832.1" y="331.9" width="0.7" height="2.1" fill="#2a2f35" />
<rect x="830.8" y="320.1" width="0.7" height="1.5" fill="#40464d" />
<rect x="859.9" y="324.8" width="2.1" height="1.0" fill="#4a5058" />
<rect x="852.9" y="325.8" width="2.5" height="0.7" fill="#2a2f35" />
<rect x="843.7" y="331.2" width="0.7" height="2.8" fill="#4a5058" />
<rect x="857.3" y="327.3" width="4.7" height="1.0" fill="#4a5058" />
<rect x="841.8" y="319.3" width="1.7" height="0.8" fill="#2a2f35" />
<rect x="852.1" y="329.3" width="1.1" height="4.5" fill="#40464d" />
<rect x="842.5" y="324.2" width="5.0" height="0.9" fill="#4a5058" />
<rect x="831.5" y="327.2" width="0.6" height="4.8" fill="#e4e6e8" />
<rect x="848.3" y="314.6" width="1.1" height="4.6" fill="#5f666e" />
<rect x="837.0" y="326.2" width="1.6" height="0.7" fill="#40464d" />
<rect x="852.1" y="316.5" width="0.9" height="2.1" fill="#2a2f35" />
<rect x="859.2" y="326.2" width="0.8" height="2.4" fill="#4a5058" />
<rect x="844.0" y="320.0" width="18.0" height="14.0" fill="#dfe1e4" />
<path d="M327,471.4 Q316.4,474 316.8,484 Q317.6,492.8 326,493 L400,493 L470,492.8 L505,493 Q520,493.8 536,491.6 L560,491 L612,492.6 Q622.6,491 622.6,483 Q622,474 614,472.6 L560,474.6 L536,474 Q520,476 505,473.2 L470,474 L400,473.6 L338,472.4 Z" fill="#121415" />
<path d="M556,468 L614,467.4 L616,473 L556,474.6 Z" fill="#c3c7cc" stroke="#4a5058" stroke-width="0.50" />
<rect x="569.5" y="469.5" width="2.5" height="0.7" fill="#6f767e" />
<rect x="568.6" y="468.7" width="5.0" height="0.9" fill="#3a3f45" />
<rect x="566.4" y="469.4" width="5.3" height="1.0" fill="#e4e6e8" />
<rect x="583.8" y="469.1" width="2.0" height="1.0" fill="#2a2e33" />
<rect x="586.2" y="471.4" width="4.3" height="0.7" fill="#2a2e33" />
<rect x="609.6" y="470.2" width="3.1" height="0.6" fill="#e4e6e8" />
<rect x="563.4" y="470.3" width="5.3" height="0.7" fill="#e4e6e8" />
<rect x="561.1" y="470.5" width="3.3" height="0.8" fill="#6f767e" />
<rect x="558.3" y="471.4" width="2.4" height="0.8" fill="#e4e6e8" />
<rect x="591.0" y="470.7" width="0.6" height="2.7" fill="#e4e6e8" />
<rect x="563.2" y="468.4" width="0.9" height="2.7" fill="#6f767e" />
<rect x="606.8" y="470.8" width="1.7" height="1.0" fill="#6f767e" />
<rect x="591.5" y="469.2" width="1.1" height="1.6" fill="#6f767e" />
<rect x="599.8" y="468.9" width="4.5" height="0.8" fill="#e4e6e8" />
<rect x="576.7" y="470.7" width="0.9" height="2.7" fill="#2a2e33" />
<rect x="593.5" y="471.5" width="2.0" height="0.6" fill="#2a2e33" />
<rect x="598.9" y="470.2" width="0.8" height="2.0" fill="#e4e6e8" />
<rect x="574.5" y="469.1" width="0.8" height="2.3" fill="#2a2e33" />
<rect x="577.8" y="468.5" width="3.9" height="0.8" fill="#6f767e" />
<rect x="580.5" y="470.4" width="0.9" height="3.0" fill="#6f767e" />
<rect x="596.8" y="469.3" width="2.5" height="0.6" fill="#e4e6e8" />
<rect x="581.4" y="471.7" width="0.7" height="1.7" fill="#3a3f45" />
<path d="M330,475 L400,476 L470,476.6 L505,476 Q520,478.6 536,476.8 L560,477.4 L618,476" fill="none" stroke="#eceef0" stroke-width="1.30" />
<path d="M320,486.4 L470,486 L505,486.4 Q520,487.4 536,485.6 L620,484.6" fill="none" stroke="#3a3f42" stroke-width="0.70" />
<rect x="605.4" y="436.9" width="4.6" height="32.5" fill="#c9cdd2" />
<rect x="603.8" y="434.9" width="1.4" height="35.0" fill="#5a6068" />
<rect x="588.0" y="434.4" width="16.0" height="16.6" fill="#222a3a" />
<rect x="588.0" y="451.0" width="16.0" height="19.4" fill="#d2d5da" />
<rect x="590.3" y="452.4" width="12.2" height="3.6" fill="#eceef0" />
<rect x="589.3" y="461.0" width="13.2" height="4.7" fill="#2f3946" />
<rect x="583.8" y="434.4" width="4.4" height="29.5" fill="#93272f" />
<rect x="583.8" y="451.0" width="4.4" height="3.6" fill="#c9555a" />
<path d="M584.0,434.9 L573.4,449.5 L583.6,464.6 Z" fill="#a9aeb8" stroke="#3a3f45" stroke-width="0.60" />
<line x1="583.6" y1="436.4" x2="574.4" y2="449.5" stroke="#b05a62" stroke-width="0.50" />
<line x1="583.6" y1="441.4" x2="574.8" y2="449.5" stroke="#eceef0" stroke-width="0.50" />
<line x1="583.6" y1="446.4" x2="575.2" y2="449.5" stroke="#b05a62" stroke-width="0.50" />
<line x1="583.6" y1="451.4" x2="575.6" y2="449.5" stroke="#eceef0" stroke-width="0.50" />
<line x1="583.6" y1="456.4" x2="576.0" y2="449.5" stroke="#b05a62" stroke-width="0.50" />
<line x1="583.8" y1="434.7" x2="573.0" y2="449.5" stroke="#30343a" stroke-width="0.90" />
<line x1="573.0" y1="449.5" x2="578.0" y2="466.8" stroke="#5a6068" stroke-width="0.70" />
<rect x="336.0" y="463.6" width="23.0" height="8.0" fill="#c9cdd2" />
<rect x="342.7" y="469.9" width="0.6" height="1.7" fill="#2a2e33" />
<rect x="343.2" y="463.8" width="2.5" height="0.6" fill="#6f767e" />
<rect x="342.6" y="468.2" width="0.7" height="1.5" fill="#6f767e" />
<rect x="341.3" y="466.3" width="0.7" height="3.4" fill="#6f767e" />
<rect x="347.3" y="465.9" width="5.9" height="0.9" fill="#3a3f45" />
<rect x="345.6" y="469.1" width="1.8" height="1.1" fill="#6f767e" />
<rect x="355.9" y="467.2" width="0.6" height="4.4" fill="#3a3f45" />
<rect x="341.8" y="463.9" width="5.9" height="0.8" fill="#3a3f45" />
<rect x="354.8" y="464.1" width="4.2" height="0.9" fill="#3a3f45" />
<rect x="345.4" y="469.0" width="0.9" height="1.8" fill="#6f767e" />
<rect x="338.0" y="466.7" width="0.9" height="2.3" fill="#6f767e" />
<rect x="338.9" y="463.1" width="3.5" height="0.7" fill="#3a3f45" />
<rect x="338.0" y="467.4" width="2.3" height="1.0" fill="#6f767e" />
<rect x="346.0" y="466.4" width="4.2" height="1.0" fill="#2a2e33" />
<path d="M359.6,473 L362.6,456 L366,453.4 L405.6,453.4 L406.5,473 Z" fill="#e0e3e7" stroke="#7b828b" stroke-width="0.50" />
<path d="M369.6,444.8 L395.4,444.8 L396.4,453.2 L367,453.2 Z" fill="#2b5db4" />
<rect x="395.6" y="443.0" width="16.4" height="6.0" fill="#8a9199" />
<rect x="397.0" y="444.2" width="13.6" height="1.2" fill="#d4d7dc" />
<line x1="374.6" y1="445.0" x2="374.6" y2="453.0" stroke="#16284a" stroke-width="0.90" />
<line x1="380.4" y1="445.0" x2="380.4" y2="453.0" stroke="#16284a" stroke-width="0.90" />
<line x1="386.0" y1="445.0" x2="386.0" y2="453.0" stroke="#16284a" stroke-width="0.90" />
<line x1="391.0" y1="445.0" x2="391.0" y2="453.0" stroke="#16284a" stroke-width="0.90" />
<rect x="395.6" y="467.3" width="5.6" height="0.6" fill="#8b929b" />
<rect x="383.6" y="470.3" width="4.7" height="0.9" fill="#a7adb5" />
<rect x="370.6" y="463.6" width="0.8" height="1.7" fill="#6f767e" />
<rect x="364.2" y="464.1" width="1.1" height="2.5" fill="#a7adb5" />
<rect x="377.3" y="470.1" width="0.8" height="1.9" fill="#8b929b" />
<rect x="375.7" y="455.8" width="0.6" height="4.1" fill="#6f767e" />
<rect x="376.9" y="470.3" width="0.8" height="1.7" fill="#8b929b" />
<rect x="364.7" y="458.7" width="0.7" height="1.9" fill="#6f767e" />
<rect x="367.3" y="457.6" width="4.8" height="0.8" fill="#6f767e" />
<rect x="367.6" y="461.7" width="0.7" height="3.6" fill="#6f767e" />
<rect x="381.0" y="454.7" width="0.6" height="2.3" fill="#8b929b" />
<rect x="386.7" y="457.5" width="5.4" height="1.0" fill="#8b929b" />
<rect x="392.9" y="454.4" width="1.0" height="4.3" fill="#6f767e" />
<rect x="378.7" y="454.8" width="1.1" height="4.8" fill="#6f767e" />
<rect x="362.9" y="465.3" width="0.8" height="3.7" fill="#6f767e" />
<rect x="370.8" y="463.1" width="0.9" height="4.7" fill="#6f767e" />
<rect x="372.0" y="456.4" width="14.0" height="2.2" fill="#3a3f45" />
<line x1="365.4" y1="435.0" x2="365.9" y2="447.0" stroke="#454a50" stroke-width="1.10" />
<rect x="364.2" y="434.2" width="2.6" height="2.2" fill="#33383d" />
<line x1="374.0" y1="441.0" x2="374.0" y2="447.0" stroke="#454a50" stroke-width="1.10" />
<rect x="372.8" y="440.2" width="2.6" height="2.2" fill="#33383d" />
<line x1="379.5" y1="434.0" x2="380.2" y2="447.0" stroke="#454a50" stroke-width="1.10" />
<rect x="378.3" y="433.2" width="2.6" height="2.2" fill="#33383d" />
<line x1="388.6" y1="437.0" x2="388.0" y2="447.0" stroke="#454a50" stroke-width="1.10" />
<rect x="387.4" y="436.2" width="2.6" height="2.2" fill="#33383d" />
<line x1="395.0" y1="439.4" x2="394.5" y2="447.0" stroke="#454a50" stroke-width="1.10" />
<rect x="393.8" y="438.6" width="2.6" height="2.2" fill="#33383d" />
<line x1="364.4" y1="444.0" x2="361.0" y2="470.0" stroke="#454a50" stroke-width="1.20" />
<rect x="406.8" y="457.4" width="5.8" height="6.2" fill="#16181b" />
<path d="M421.4,435.2 L435.6,435.2 L436.8,443 L418.6,443 Z" fill="#1c3d3c" />
<path d="M421.6,436.4 L414,453 L419,453 L424.4,442 Z" fill="#9aa2ac" stroke="#4a5058" stroke-width="0.60" />
<rect x="412.5" y="442.0" width="62.0" height="30.6" fill="#adb5c0" />
<rect x="414.9" y="465.9" width="4.2" height="0.8" fill="#2a2f35" />
<rect x="420.2" y="455.6" width="5.0" height="1.1" fill="#40464d" />
<rect x="445.2" y="443.4" width="0.8" height="2.6" fill="#40464d" />
<rect x="432.8" y="467.1" width="0.8" height="2.1" fill="#4a5058" />
<rect x="464.6" y="453.5" width="1.0" height="2.6" fill="#e4e6e8" />
<rect x="429.5" y="452.3" width="0.9" height="4.9" fill="#5f666e" />
<rect x="425.0" y="460.4" width="4.7" height="1.0" fill="#40464d" />
<rect x="458.4" y="442.7" width="0.7" height="4.4" fill="#5f666e" />
<rect x="419.4" y="467.7" width="3.0" height="0.6" fill="#5f666e" />
<rect x="446.6" y="466.3" width="1.0" height="3.9" fill="#e4e6e8" />
<rect x="443.3" y="455.5" width="1.0" height="2.2" fill="#40464d" />
<rect x="419.3" y="442.4" width="2.5" height="0.9" fill="#2a2f35" />
<rect x="420.3" y="443.2" width="0.9" height="3.8" fill="#2a2f35" />
<rect x="446.6" y="462.3" width="1.5" height="0.7" fill="#7b828b" />
<rect x="442.5" y="460.5" width="0.9" height="3.9" fill="#5f666e" />
<rect x="418.2" y="447.5" width="4.4" height="0.9" fill="#e4e6e8" />
<rect x="418.2" y="443.7" width="0.6" height="1.7" fill="#40464d" />
<rect x="442.6" y="444.7" width="0.6" height="1.5" fill="#e4e6e8" />
<rect x="428.2" y="454.9" width="2.3" height="0.9" fill="#40464d" />
<rect x="425.9" y="446.6" width="3.3" height="1.1" fill="#4a5058" />
<rect x="437.9" y="447.4" width="1.0" height="3.6" fill="#40464d" />
<rect x="465.3" y="451.8" width="0.9" height="4.4" fill="#40464d" />
<rect x="422.1" y="455.3" width="4.8" height="1.0" fill="#4a5058" />
<rect x="417.3" y="462.6" width="5.7" height="1.1" fill="#5f666e" />
<rect x="418.9" y="459.2" width="1.0" height="4.5" fill="#7b828b" />
<rect x="461.8" y="455.3" width="4.3" height="1.0" fill="#40464d" />
<rect x="423.9" y="451.3" width="0.8" height="4.1" fill="#e4e6e8" />
<rect x="464.8" y="467.2" width="2.1" height="0.9" fill="#e4e6e8" />
<rect x="429.6" y="457.8" width="0.7" height="2.1" fill="#e4e6e8" />
<rect x="463.0" y="466.1" width="0.8" height="2.7" fill="#40464d" />
<rect x="414.9" y="450.9" width="0.9" height="1.8" fill="#2a2f35" />
<rect x="465.6" y="466.3" width="0.8" height="2.4" fill="#40464d" />
<rect x="466.5" y="469.1" width="0.9" height="1.6" fill="#5f666e" />
<rect x="457.0" y="444.2" width="2.6" height="0.8" fill="#2a2f35" />
<rect x="470.2" y="454.5" width="2.0" height="0.6" fill="#2a2f35" />
<rect x="451.2" y="454.1" width="1.1" height="3.5" fill="#2a2f35" />
<rect x="453.5" y="452.6" width="0.9" height="4.1" fill="#40464d" />
<rect x="459.5" y="458.8" width="1.0" height="2.8" fill="#4a5058" />
<rect x="455.8" y="464.3" width="2.8" height="0.8" fill="#7b828b" />
<rect x="456.5" y="461.8" width="3.8" height="0.9" fill="#4a5058" />
<rect x="428.9" y="452.6" width="1.5" height="0.7" fill="#4a5058" />
<rect x="439.1" y="443.4" width="0.9" height="1.9" fill="#7b828b" />
<rect x="458.2" y="447.8" width="1.0" height="4.6" fill="#40464d" />
<rect x="413.8" y="443.7" width="0.7" height="4.8" fill="#e4e6e8" />
<rect x="437.3" y="460.8" width="1.0" height="4.9" fill="#e4e6e8" />
<rect x="434.7" y="444.3" width="0.7" height="4.9" fill="#7b828b" />
<rect x="423.5" y="451.3" width="2.4" height="0.9" fill="#4a5058" />
<rect x="426.1" y="453.4" width="0.9" height="4.8" fill="#2a2f35" />
<rect x="467.8" y="469.6" width="0.8" height="2.4" fill="#2a2f35" />
<rect x="457.8" y="468.8" width="0.9" height="3.2" fill="#2a2f35" />
<rect x="429.4" y="452.9" width="1.0" height="1.8" fill="#5f666e" />
<rect x="429.4" y="463.3" width="2.4" height="0.8" fill="#40464d" />
<rect x="471.6" y="444.4" width="2.3" height="1.0" fill="#4a5058" />
<rect x="423.9" y="461.3" width="0.6" height="1.6" fill="#7b828b" />
<rect x="462.2" y="458.5" width="1.6" height="0.8" fill="#40464d" />
<rect x="428.9" y="464.7" width="0.8" height="2.1" fill="#5f666e" />
<rect x="453.6" y="453.0" width="1.8" height="0.9" fill="#4a5058" />
<rect x="469.6" y="457.0" width="1.7" height="0.6" fill="#e4e6e8" />
<rect x="418.0" y="443.7" width="1.0" height="2.2" fill="#40464d" />
<rect x="428.5" y="454.3" width="3.5" height="1.1" fill="#e4e6e8" />
<rect x="429.2" y="462.1" width="0.7" height="3.7" fill="#4a5058" />
<rect x="420.5" y="447.5" width="0.9" height="2.1" fill="#7b828b" />
<rect x="457.3" y="444.2" width="1.0" height="4.2" fill="#2a2f35" />
<rect x="458.7" y="451.5" width="0.7" height="4.9" fill="#40464d" />
<rect x="465.8" y="444.7" width="1.9" height="0.9" fill="#7b828b" />
<rect x="421.2" y="461.9" width="3.5" height="0.6" fill="#4a5058" />
<rect x="412.6" y="467.7" width="4.4" height="0.6" fill="#5f666e" />
<rect x="430.5" y="470.4" width="0.9" height="1.6" fill="#7b828b" />
<rect x="471.3" y="452.7" width="0.6" height="3.8" fill="#7b828b" />
<rect x="462.8" y="459.3" width="2.1" height="0.8" fill="#2a2f35" />
<rect x="454.5" y="452.2" width="4.3" height="0.7" fill="#5f666e" />
<rect x="463.2" y="469.7" width="0.9" height="2.3" fill="#4a5058" />
<rect x="425.1" y="465.7" width="0.9" height="4.7" fill="#7b828b" />
<rect x="446.9" y="455.6" width="0.8" height="1.8" fill="#e4e6e8" />
<rect x="419.5" y="458.3" width="0.8" height="3.0" fill="#e4e6e8" />
<rect x="413.5" y="458.6" width="5.5" height="1.0" fill="#e4e6e8" />
<rect x="464.6" y="444.6" width="5.8" height="0.8" fill="#2a2f35" />
<rect x="443.4" y="456.4" width="2.1" height="0.7" fill="#7b828b" />
<rect x="430.8" y="469.4" width="4.5" height="0.8" fill="#40464d" />
<rect x="443.1" y="443.6" width="4.5" height="0.6" fill="#4a5058" />
<rect x="465.4" y="457.5" width="1.1" height="2.5" fill="#e4e6e8" />
<rect x="417.5" y="443.8" width="0.8" height="1.6" fill="#4a5058" />
<rect x="462.3" y="444.4" width="5.7" height="1.0" fill="#5f666e" />
<rect x="427.9" y="470.2" width="0.7" height="1.8" fill="#5f666e" />
<rect x="465.8" y="461.3" width="2.1" height="1.0" fill="#2a2f35" />
<rect x="434.6" y="452.9" width="3.1" height="0.9" fill="#e4e6e8" />
<rect x="412.9" y="454.4" width="1.0" height="2.0" fill="#e4e6e8" />
<rect x="465.6" y="449.0" width="2.9" height="1.0" fill="#5f666e" />
<rect x="423.6" y="466.5" width="1.0" height="4.7" fill="#40464d" />
<rect x="437.6" y="447.7" width="3.7" height="0.9" fill="#4a5058" />
<rect x="452.2" y="445.3" width="0.8" height="1.6" fill="#40464d" />
<rect x="435.9" y="468.4" width="1.0" height="1.9" fill="#e4e6e8" />
<rect x="463.6" y="442.2" width="0.8" height="4.3" fill="#7b828b" />
<rect x="437.8" y="442.3" width="2.1" height="1.1" fill="#7b828b" />
<rect x="439.2" y="468.2" width="1.0" height="3.8" fill="#40464d" />
<rect x="421.8" y="465.7" width="4.5" height="0.7" fill="#e4e6e8" />
<rect x="449.8" y="470.1" width="3.6" height="0.9" fill="#40464d" />
<rect x="423.5" y="465.0" width="2.0" height="0.6" fill="#4a5058" />
<rect x="437.8" y="449.3" width="4.0" height="0.9" fill="#2a2f35" />
<rect x="451.0" y="446.3" width="0.9" height="2.9" fill="#e4e6e8" />
<rect x="424.4" y="447.7" width="0.8" height="2.5" fill="#7b828b" />
<rect x="446.5" y="450.9" width="5.0" height="0.8" fill="#4a5058" />
<rect x="427.2" y="442.9" width="1.0" height="3.9" fill="#5f666e" />
<rect x="419.0" y="446.2" width="2.7" height="1.0" fill="#4a5058" />
<rect x="446.8" y="442.9" width="5.1" height="0.7" fill="#40464d" />
<rect x="452.4" y="461.4" width="0.8" height="2.9" fill="#2a2f35" />
<rect x="452.9" y="468.5" width="0.8" height="3.2" fill="#40464d" />
<rect x="439.3" y="448.1" width="3.9" height="1.0" fill="#5f666e" />
<rect x="436.7" y="443.5" width="3.5" height="1.0" fill="#2a2f35" />
<rect x="454.5" y="448.4" width="0.8" height="3.6" fill="#2a2f35" />
<rect x="463.3" y="463.5" width="3.2" height="1.1" fill="#2a2f35" />
<rect x="451.2" y="448.7" width="3.4" height="0.8" fill="#e4e6e8" />
<rect x="430.8" y="454.8" width="3.0" height="0.7" fill="#e4e6e8" />
<rect x="435.5" y="468.6" width="0.8" height="3.4" fill="#7b828b" />
<rect x="451.1" y="460.3" width="3.4" height="0.9" fill="#4a5058" />
<rect x="415.7" y="468.4" width="0.6" height="1.7" fill="#4a5058" />
<rect x="425.8" y="459.6" width="0.8" height="4.3" fill="#2a2f35" />
<rect x="467.4" y="444.9" width="2.0" height="0.8" fill="#7b828b" />
<rect x="417.1" y="463.5" width="3.3" height="0.7" fill="#7b828b" />
<rect x="423.4" y="458.2" width="0.6" height="3.9" fill="#7b828b" />
<rect x="441.9" y="450.5" width="3.4" height="1.1" fill="#2a2f35" />
<rect x="431.0" y="469.0" width="2.2" height="0.8" fill="#40464d" />
<rect x="454.4" y="451.2" width="4.6" height="1.0" fill="#7b828b" />
<rect x="448.8" y="447.7" width="3.5" height="0.7" fill="#7b828b" />
<rect x="424.6" y="446.3" width="5.3" height="0.8" fill="#5f666e" />
<rect x="462.9" y="462.3" width="3.6" height="1.1" fill="#e4e6e8" />
<rect x="431.9" y="449.0" width="0.9" height="3.5" fill="#40464d" />
<rect x="429.0" y="443.2" width="0.7" height="2.8" fill="#2a2f35" />
<rect x="468.7" y="450.8" width="0.9" height="3.4" fill="#40464d" />
<rect x="446.5" y="461.2" width="5.2" height="1.0" fill="#7b828b" />
<rect x="438.9" y="454.2" width="4.5" height="0.9" fill="#40464d" />
<rect x="471.5" y="448.2" width="0.9" height="3.4" fill="#40464d" />
<rect x="433.6" y="469.3" width="0.8" height="2.7" fill="#5f666e" />
<rect x="415.6" y="448.5" width="4.7" height="1.1" fill="#4a5058" />
<rect x="463.1" y="451.9" width="1.1" height="1.7" fill="#5f666e" />
<rect x="446.3" y="463.3" width="0.9" height="2.7" fill="#7b828b" />
<rect x="449.7" y="454.8" width="2.4" height="1.1" fill="#7b828b" />
<rect x="420.5" y="447.3" width="1.0" height="3.6" fill="#40464d" />
<rect x="433.1" y="453.6" width="5.0" height="0.7" fill="#7b828b" />
<rect x="449.9" y="460.9" width="4.7" height="1.1" fill="#7b828b" />
<rect x="423.0" y="443.0" width="50.0" height="3.4" fill="#e4e6e8" />
<rect x="424.5" y="443.4" width="4.3" height="5.6" fill="#6a727a" />
<rect x="429.8" y="443.4" width="4.3" height="5.6" fill="#6a727a" />
<rect x="435.2" y="443.4" width="4.3" height="5.6" fill="#6a727a" />
<rect x="440.5" y="443.4" width="4.3" height="5.6" fill="#6a727a" />
<rect x="445.8" y="443.4" width="4.3" height="5.6" fill="#6a727a" />
<rect x="451.2" y="443.4" width="4.3" height="5.6" fill="#6a727a" />
<rect x="456.5" y="443.4" width="4.3" height="5.6" fill="#6a727a" />
<rect x="461.8" y="443.4" width="4.3" height="5.6" fill="#6a727a" />
<rect x="467.2" y="443.4" width="4.3" height="5.6" fill="#6a727a" />
<rect x="414.5" y="458.0" width="3.0" height="5.5" fill="#2b3036" />
<rect x="418.5" y="458.0" width="3.0" height="5.5" fill="#2b3036" />
<rect x="422.5" y="458.0" width="3.0" height="5.5" fill="#2b3036" />
<rect x="426.5" y="458.0" width="3.0" height="5.5" fill="#2b3036" />
<rect x="430.5" y="458.0" width="3.0" height="5.5" fill="#2b3036" />
<rect x="435.5" y="457.6" width="7.6" height="14.6" fill="#17191c" />
<rect x="444.0" y="457.6" width="7.6" height="14.6" fill="#17191c" />
<rect x="454.1" y="458.0" width="2.9" height="5.5" fill="#2b3036" />
<rect x="458.0" y="458.0" width="2.9" height="5.5" fill="#2b3036" />
<rect x="461.9" y="458.0" width="2.9" height="5.5" fill="#2b3036" />
<rect x="465.7" y="458.0" width="2.9" height="5.5" fill="#2b3036" />
<rect x="469.6" y="458.0" width="2.9" height="5.5" fill="#2b3036" />
<rect x="475.0" y="452.6" width="10.0" height="20.0" fill="#c9cdd3" />
<rect x="476.0" y="454.0" width="7.4" height="7.0" fill="#1c1f23" />
<line x1="485.6" y1="434.6" x2="485.6" y2="452.0" stroke="#6a7078" stroke-width="1.00" />
<rect x="486.0" y="444.0" width="11.0" height="5.0" fill="#9299a2" />
<rect x="485.0" y="451.0" width="69.5" height="21.6" fill="#d3d7dc" />
<rect x="503.0" y="443.8" width="11.4" height="6.4" fill="#3a4147" />
<rect x="521.6" y="443.8" width="11.4" height="6.4" fill="#3a4147" />
<rect x="493.0" y="456.2" width="22.0" height="3.0" fill="#4a5058" />
<rect x="521.0" y="454.6" width="13.0" height="5.4" fill="#c23a3a" />
<rect x="524.0" y="456.0" width="7.0" height="2.6" fill="#f0d8d8" />
<path d="M540,451 L545,448 L551,451 Z" fill="#d3d7dc" />
<rect x="553.0" y="451.4" width="2.4" height="21.0" fill="#8e959d" />
<rect x="554.6" y="452.6" width="17.4" height="19.6" fill="#e4e6e9" />
<line x1="555.5" y1="452.0" x2="555.5" y2="472.4" stroke="#7d848c" stroke-width="0.80" />
<line x1="561.0" y1="452.0" x2="561.0" y2="472.4" stroke="#7d848c" stroke-width="0.80" />
<line x1="566.5" y1="452.0" x2="566.5" y2="472.4" stroke="#7d848c" stroke-width="0.80" />
<line x1="571.5" y1="452.0" x2="571.5" y2="472.4" stroke="#7d848c" stroke-width="0.80" />
<line x1="555.0" y1="462.0" x2="572.0" y2="462.0" stroke="#9aa0a8" stroke-width="0.60" />
<rect x="566.5" y="464.0" width="5.0" height="5.6" fill="#d8c98a" />
<path d="M350,294 C400,293.5 450,293.2 470,293 L505,292.4 Q519.5,291.2 534,292.6 L575,295.4 C598,296 614,304 614.6,322 L616.4,386 C616.5,400 603,408.4 587,408.8 L520,408.6 C470,408 400,409.4 352,409 C336,408.6 327.5,400 327.2,386 L326.8,318 C327,303 336,294.4 350,294 Z" fill="#141718" />
<path d="M346,313 L346,305.5 L357,298 L470,297.4 L519.5,296 L575,298.6 L606,301 L606,332 L346,320 Z" fill="#161b1d" />
<path d="M346,382 L606,370 L606,400 L596,404.6 L360,404.4 L346,396 Z" fill="#161b1d" />
<path d="M346,319.8 L470,319.4 L519.5,318 L560,319.6 L602,320.4 L603,381 L560,381.4 L519.5,380.4 L470,381.6 L346,381.8 Z" fill="#26373a" />
<path d="M346,342.0 L470,342.0 L505,341.4 Q519.5,339.8 534,341.2 L602,342.4 L602,359.0 L534,357.8 Q519.5,356.4 505,358.0 L470,358.6 L346,358.6 Z" fill="#29332f" />
<path d="M346,342.2 L470,342.2 L505,341.6 Q519.5,340.0 534,341.4 L602,342.6 L602,345.0 L534,343.8 Q519.5,342.4 505,344.0 L470,344.6 L346,344.6 Z" fill="#272c5c" />
<path d="M346,355.6 L470,355.6 L505,355.0 Q519.5,353.4 534,354.8 L602,356.0 L602,358.6 L534,357.4 Q519.5,356.0 505,357.6 L470,358.2 L346,358.2 Z" fill="#272c5c" />
<path d="M347,340.7 L470,340.7 L505,340.1 Q519.5,338.5 534,339.9 L601,341.1" fill="none" stroke="#9ec79a" stroke-width="1.70" stroke-dasharray="7.4 0.9"/>
<path d="M347,360.6 L470,360.6 L505,360.0 Q519.5,358.4 534,359.8 L601,361.0" fill="none" stroke="#94b594" stroke-width="1.50" stroke-dasharray="7.4 0.9"/>
<path d="M347,350.4 L470,350.4 L505,349.8 Q519.5,348.2 534,349.6 L601,350.8" fill="none" stroke="#bcc648" stroke-width="1.70" />
<line x1="474.2" y1="317.0" x2="474.2" y2="382.0" stroke="#cfd046" stroke-width="1.40" />
<line x1="469.0" y1="316.8" x2="474.6" y2="316.8" stroke="#cfd046" stroke-width="1.00" />
<line x1="379.0" y1="320.0" x2="379.0" y2="381.0" stroke="#1f2a2b" stroke-width="0.70" />
<line x1="393.0" y1="320.0" x2="393.0" y2="381.0" stroke="#1f2a2b" stroke-width="0.70" />
<line x1="560.0" y1="320.0" x2="560.0" y2="381.0" stroke="#1f2a2b" stroke-width="0.70" />
<path d="M346,320 L346,305.5 L357,298 L470,297.4 L519.5,296 L575,298.4" fill="none" stroke="#d5d8da" stroke-width="1.00" />
<path d="M346,381 L346,396 L360,404.2 L470,403.6 L519.5,402.8 L577,404.6" fill="none" stroke="#d5d8da" stroke-width="1.00" />
<line x1="344.8" y1="320.0" x2="344.8" y2="382.0" stroke="#c9cdd0" stroke-width="1.10" />
<line x1="603.4" y1="331.0" x2="603.4" y2="370.0" stroke="#d0d3d5" stroke-width="1.10" />
<line x1="348.0" y1="319.6" x2="560.0" y2="318.6" stroke="#9aa3a5" stroke-width="0.80" />
<line x1="348.0" y1="382.0" x2="560.0" y2="381.2" stroke="#9aa3a5" stroke-width="0.80" />
<rect x="407.5" y="308.7" width="1.0" height="4.5" fill="#a9afb3" />
<rect x="379.9" y="312.8" width="6.3" height="0.8" fill="#8d9599" />
<rect x="391.9" y="301.0" width="1.2" height="2.2" fill="#8d9599" />
<rect x="461.3" y="310.3" width="0.8" height="2.1" fill="#a9afb3" />
<rect x="366.6" y="300.1" width="1.1" height="5.9" fill="#e3e5e6" />
<rect x="406.3" y="313.4" width="1.1" height="4.5" fill="#c9cdd0" />
<rect x="408.0" y="304.1" width="1.4" height="6.2" fill="#e3e5e6" />
<rect x="393.1" y="303.3" width="2.5" height="1.2" fill="#8d9599" />
<rect x="371.3" y="304.3" width="2.1" height="1.1" fill="#b5babe" />
<rect x="382.0" y="314.5" width="8.9" height="0.9" fill="#c9cdd0" />
<rect x="419.5" y="302.8" width="0.9" height="3.6" fill="#c9cdd0" />
<rect x="461.2" y="312.0" width="3.7" height="0.8" fill="#c9cdd0" />
<rect x="408.8" y="307.5" width="0.8" height="4.5" fill="#b5babe" />
<rect x="404.0" y="305.8" width="8.9" height="0.7" fill="#a9afb3" />
<rect x="391.9" y="314.1" width="4.8" height="1.2" fill="#a9afb3" />
<rect x="370.5" y="315.8" width="3.8" height="1.2" fill="#e3e5e6" />
<rect x="447.2" y="305.9" width="3.5" height="1.1" fill="#c9cdd0" />
<rect x="423.1" y="305.6" width="8.7" height="1.0" fill="#a9afb3" />
<rect x="374.3" y="305.9" width="0.9" height="3.1" fill="#a9afb3" />
<rect x="386.2" y="302.6" width="1.4" height="3.0" fill="#8d9599" />
<rect x="452.6" y="309.5" width="2.7" height="0.7" fill="#e3e5e6" />
<rect x="385.0" y="311.1" width="7.8" height="1.1" fill="#e3e5e6" />
<rect x="414.6" y="314.8" width="0.8" height="3.2" fill="#a9afb3" />
<rect x="424.5" y="304.1" width="0.8" height="2.1" fill="#e3e5e6" />
<rect x="403.2" y="303.6" width="4.0" height="1.0" fill="#b5babe" />
<rect x="369.7" y="301.8" width="4.3" height="1.1" fill="#a9afb3" />
<rect x="421.4" y="301.8" width="2.1" height="1.2" fill="#e3e5e6" />
<rect x="461.1" y="299.9" width="1.0" height="5.7" fill="#e3e5e6" />
<rect x="374.3" y="300.7" width="4.6" height="0.7" fill="#b5babe" />
<rect x="443.3" y="314.6" width="6.8" height="1.2" fill="#8d9599" />
<rect x="459.1" y="300.0" width="2.1" height="1.1" fill="#8d9599" />
<rect x="421.2" y="309.5" width="6.5" height="1.3" fill="#8d9599" />
<rect x="436.5" y="305.9" width="1.1" height="4.2" fill="#a9afb3" />
<rect x="368.8" y="311.9" width="6.2" height="1.0" fill="#b5babe" />
<rect x="460.5" y="301.4" width="1.2" height="4.4" fill="#c9cdd0" />
<rect x="398.6" y="301.9" width="1.1" height="5.8" fill="#e3e5e6" />
<rect x="429.3" y="306.8" width="0.9" height="5.3" fill="#b5babe" />
<rect x="426.6" y="312.8" width="0.8" height="3.1" fill="#b5babe" />
<rect x="421.2" y="304.7" width="5.5" height="1.2" fill="#c9cdd0" />
<rect x="434.7" y="315.2" width="3.2" height="1.0" fill="#e3e5e6" />
<rect x="457.2" y="313.2" width="5.6" height="1.1" fill="#a9afb3" />
<rect x="407.5" y="300.7" width="8.1" height="0.7" fill="#e3e5e6" />
<rect x="419.9" y="304.6" width="0.7" height="2.7" fill="#8d9599" />
<rect x="379.9" y="312.2" width="7.5" height="1.2" fill="#c9cdd0" />
<rect x="406.9" y="309.9" width="1.3" height="6.8" fill="#b5babe" />
<rect x="380.9" y="307.3" width="2.1" height="1.0" fill="#c9cdd0" />
<rect x="378.8" y="304.0" width="6.9" height="1.0" fill="#a9afb3" />
<rect x="464.7" y="302.1" width="1.2" height="3.1" fill="#8d9599" />
<rect x="457.9" y="311.4" width="5.2" height="1.1" fill="#c9cdd0" />
<rect x="399.6" y="308.9" width="1.3" height="6.7" fill="#8d9599" />
<rect x="394.3" y="315.7" width="8.1" height="1.2" fill="#c9cdd0" />
<rect x="382.4" y="314.3" width="1.4" height="3.7" fill="#e3e5e6" />
<rect x="387.5" y="311.4" width="5.5" height="0.7" fill="#e3e5e6" />
<rect x="417.8" y="312.2" width="2.2" height="1.2" fill="#c9cdd0" />
<rect x="405.0" y="300.1" width="1.2" height="6.6" fill="#8d9599" />
<rect x="375.6" y="308.0" width="1.3" height="5.4" fill="#8d9599" />
<rect x="420.8" y="310.9" width="1.0" height="4.8" fill="#a9afb3" />
<rect x="427.1" y="308.1" width="1.1" height="3.6" fill="#8d9599" />
<rect x="460.3" y="313.9" width="0.9" height="2.7" fill="#a9afb3" />
<rect x="415.0" y="309.0" width="5.8" height="1.0" fill="#a9afb3" />
<rect x="399.6" y="308.4" width="8.4" height="1.0" fill="#a9afb3" />
<rect x="372.8" y="301.0" width="8.5" height="1.0" fill="#8d9599" />
<rect x="388.3" y="307.3" width="5.0" height="1.2" fill="#8d9599" />
<rect x="415.1" y="301.3" width="2.2" height="0.9" fill="#c9cdd0" />
<rect x="363.7" y="302.1" width="4.0" height="1.1" fill="#b5babe" />
<rect x="425.1" y="301.2" width="0.8" height="4.6" fill="#e3e5e6" />
<rect x="435.4" y="311.1" width="0.7" height="5.2" fill="#a9afb3" />
<rect x="424.7" y="308.4" width="1.1" height="3.1" fill="#b5babe" />
<rect x="449.4" y="309.6" width="0.9" height="5.7" fill="#e3e5e6" />
<rect x="454.8" y="304.7" width="8.5" height="0.8" fill="#b5babe" />
<rect x="453.2" y="301.7" width="7.1" height="0.9" fill="#c9cdd0" />
<rect x="405.7" y="315.0" width="1.2" height="3.0" fill="#c9cdd0" />
<rect x="370.1" y="308.9" width="7.7" height="0.9" fill="#a9afb3" />
<rect x="426.6" y="305.2" width="1.3" height="6.0" fill="#8d9599" />
<rect x="371.1" y="300.1" width="1.1" height="4.8" fill="#b5babe" />
<rect x="379.9" y="301.4" width="3.1" height="0.9" fill="#c9cdd0" />
<rect x="420.9" y="301.7" width="0.8" height="2.5" fill="#8d9599" />
<rect x="409.0" y="308.0" width="6.2" height="0.7" fill="#c9cdd0" />
<rect x="448.6" y="302.5" width="7.2" height="0.9" fill="#b5babe" />
<rect x="423.5" y="301.1" width="0.9" height="2.4" fill="#8d9599" />
<rect x="419.8" y="302.7" width="0.9" height="5.8" fill="#e3e5e6" />
<rect x="455.7" y="311.8" width="1.3" height="4.0" fill="#e3e5e6" />
<rect x="452.4" y="311.0" width="1.2" height="4.0" fill="#b5babe" />
<rect x="367.4" y="305.1" width="2.1" height="0.9" fill="#a9afb3" />
<rect x="365.2" y="304.0" width="0.9" height="3.1" fill="#8d9599" />
<rect x="419.8" y="308.3" width="9.0" height="1.1" fill="#c9cdd0" />
<rect x="440.0" y="315.7" width="6.3" height="1.1" fill="#e3e5e6" />
<rect x="406.6" y="307.8" width="1.2" height="2.1" fill="#e3e5e6" />
<rect x="386.3" y="314.4" width="1.1" height="3.6" fill="#a9afb3" />
<rect x="448.9" y="301.1" width="6.5" height="1.0" fill="#c9cdd0" />
<rect x="400.6" y="315.0" width="8.8" height="1.2" fill="#a9afb3" />
<rect x="424.2" y="300.5" width="1.0" height="4.6" fill="#a9afb3" />
<rect x="392.8" y="308.3" width="3.9" height="1.3" fill="#e3e5e6" />
<rect x="362.8" y="312.2" width="1.1" height="4.0" fill="#8d9599" />
<rect x="365.5" y="304.7" width="6.1" height="1.1" fill="#e3e5e6" />
<rect x="367.7" y="314.4" width="5.3" height="1.3" fill="#b5babe" />
<rect x="364.8" y="301.1" width="1.3" height="2.7" fill="#b5babe" />
<rect x="423.4" y="301.4" width="1.0" height="3.0" fill="#c9cdd0" />
<rect x="397.5" y="302.1" width="3.0" height="1.0" fill="#a9afb3" />
<rect x="387.5" y="309.1" width="7.4" height="1.0" fill="#b5babe" />
<rect x="460.0" y="311.6" width="2.8" height="1.2" fill="#a9afb3" />
<rect x="425.6" y="305.4" width="6.8" height="1.0" fill="#a9afb3" />
<rect x="380.0" y="304.1" width="8.7" height="1.0" fill="#b5babe" />
<rect x="452.3" y="300.2" width="3.9" height="1.0" fill="#a9afb3" />
<rect x="364.0" y="303.2" width="7.3" height="1.2" fill="#b5babe" />
<rect x="417.8" y="309.9" width="5.3" height="0.8" fill="#e3e5e6" />
<rect x="411.9" y="301.7" width="1.3" height="4.2" fill="#a9afb3" />
<rect x="448.0" y="312.2" width="7.2" height="0.9" fill="#b5babe" />
<rect x="398.7" y="310.3" width="0.9" height="4.7" fill="#b5babe" />
<rect x="404.9" y="305.6" width="8.1" height="0.7" fill="#c9cdd0" />
<rect x="405.4" y="308.9" width="1.0" height="6.1" fill="#c9cdd0" />
<rect x="368.0" y="303.0" width="0.8" height="3.5" fill="#e3e5e6" />
<rect x="389.7" y="301.9" width="7.1" height="0.9" fill="#c9cdd0" />
<rect x="393.9" y="306.8" width="1.3" height="5.4" fill="#e3e5e6" />
<rect x="406.0" y="312.8" width="4.2" height="0.9" fill="#a9afb3" />
<rect x="386.1" y="305.5" width="4.5" height="0.9" fill="#8d9599" />
<rect x="443.6" y="311.7" width="4.7" height="0.8" fill="#a9afb3" />
<rect x="419.1" y="302.4" width="1.3" height="3.4" fill="#c9cdd0" />
<rect x="383.2" y="300.5" width="4.1" height="0.7" fill="#8d9599" />
<rect x="366.7" y="308.5" width="0.8" height="2.4" fill="#c9cdd0" />
<rect x="560.5" y="301.3" width="0.8" height="5.7" fill="#8d9599" />
<rect x="499.1" y="303.3" width="1.1" height="5.8" fill="#8d9599" />
<rect x="508.9" y="312.1" width="3.0" height="1.0" fill="#c9cdd0" />
<rect x="542.6" y="313.7" width="7.8" height="1.1" fill="#c9cdd0" />
<rect x="551.8" y="312.5" width="1.4" height="4.5" fill="#a9afb3" />
<rect x="510.0" y="300.2" width="8.5" height="1.2" fill="#b5babe" />
<rect x="545.7" y="314.9" width="3.2" height="0.8" fill="#8d9599" />
<rect x="525.7" y="304.1" width="1.0" height="5.7" fill="#e3e5e6" />
<rect x="536.9" y="311.6" width="2.4" height="1.0" fill="#a9afb3" />
<rect x="521.2" y="312.0" width="3.4" height="0.9" fill="#a9afb3" />
<rect x="498.1" y="310.8" width="0.9" height="2.9" fill="#e3e5e6" />
<rect x="513.8" y="313.7" width="1.1" height="3.3" fill="#a9afb3" />
<rect x="521.1" y="303.9" width="1.3" height="3.7" fill="#a9afb3" />
<rect x="548.5" y="301.4" width="1.0" height="3.1" fill="#b5babe" />
<rect x="551.3" y="305.8" width="1.1" height="3.4" fill="#c9cdd0" />
<rect x="537.8" y="303.6" width="5.3" height="0.9" fill="#b5babe" />
<rect x="543.0" y="309.1" width="3.1" height="0.9" fill="#e3e5e6" />
<rect x="561.4" y="312.2" width="7.2" height="1.1" fill="#a9afb3" />
<rect x="526.3" y="302.3" width="0.7" height="6.1" fill="#b5babe" />
<rect x="553.3" y="301.2" width="7.0" height="0.8" fill="#8d9599" />
<rect x="541.2" y="301.2" width="1.1" height="4.5" fill="#c9cdd0" />
<rect x="550.2" y="306.3" width="0.8" height="6.1" fill="#b5babe" />
<rect x="479.5" y="306.2" width="8.6" height="1.3" fill="#e3e5e6" />
<rect x="505.2" y="301.1" width="5.3" height="1.1" fill="#e3e5e6" />
<rect x="483.0" y="302.1" width="1.2" height="5.7" fill="#c9cdd0" />
<rect x="537.5" y="300.2" width="7.0" height="0.8" fill="#a9afb3" />
<rect x="486.7" y="311.6" width="1.3" height="5.4" fill="#a9afb3" />
<rect x="490.3" y="309.4" width="1.2" height="6.8" fill="#8d9599" />
<rect x="528.2" y="301.3" width="4.6" height="0.8" fill="#e3e5e6" />
<rect x="564.8" y="308.4" width="0.9" height="6.1" fill="#c9cdd0" />
<rect x="485.6" y="309.3" width="6.4" height="0.8" fill="#b5babe" />
<rect x="513.8" y="312.6" width="0.8" height="3.1" fill="#b5babe" />
<rect x="568.8" y="306.5" width="0.9" height="6.1" fill="#a9afb3" />
<rect x="489.1" y="303.1" width="6.8" height="1.0" fill="#8d9599" />
<rect x="534.6" y="310.9" width="0.9" height="5.9" fill="#b5babe" />
<rect x="538.1" y="309.1" width="4.3" height="0.9" fill="#8d9599" />
<rect x="486.0" y="305.7" width="1.3" height="6.1" fill="#a9afb3" />
<rect x="543.1" y="303.8" width="0.9" height="3.2" fill="#a9afb3" />
<rect x="523.0" y="302.1" width="1.4" height="4.6" fill="#b5babe" />
<rect x="529.3" y="300.4" width="1.2" height="2.7" fill="#8d9599" />
<rect x="530.2" y="310.5" width="8.5" height="0.9" fill="#8d9599" />
<rect x="559.0" y="306.8" width="0.9" height="4.8" fill="#a9afb3" />
<rect x="528.7" y="308.4" width="8.4" height="1.3" fill="#e3e5e6" />
<rect x="532.5" y="301.8" width="0.9" height="6.5" fill="#b5babe" />
<rect x="547.3" y="305.4" width="6.2" height="1.2" fill="#8d9599" />
<rect x="479.0" y="302.7" width="1.4" height="5.3" fill="#e3e5e6" />
<rect x="547.1" y="312.7" width="1.1" height="4.3" fill="#c9cdd0" />
<rect x="490.9" y="306.2" width="5.7" height="0.8" fill="#8d9599" />
<rect x="492.3" y="307.8" width="6.0" height="0.9" fill="#c9cdd0" />
<rect x="543.8" y="311.8" width="5.5" height="0.8" fill="#e3e5e6" />
<rect x="398.5" y="394.6" width="1.2" height="5.8" fill="#8d9599" />
<rect x="452.5" y="391.9" width="1.2" height="6.1" fill="#c9cdd0" />
<rect x="416.0" y="399.4" width="1.1" height="3.6" fill="#c9cdd0" />
<rect x="388.2" y="384.9" width="1.3" height="5.7" fill="#a9afb3" />
<rect x="388.4" y="397.4" width="1.3" height="3.2" fill="#8d9599" />
<rect x="379.4" y="398.8" width="1.0" height="2.5" fill="#b5babe" />
<rect x="413.6" y="395.2" width="1.3" height="7.0" fill="#e3e5e6" />
<rect x="449.9" y="391.2" width="0.9" height="5.7" fill="#a9afb3" />
<rect x="365.9" y="385.2" width="0.8" height="6.4" fill="#a9afb3" />
<rect x="459.5" y="384.0" width="4.1" height="0.9" fill="#c9cdd0" />
<rect x="401.8" y="391.7" width="0.8" height="5.5" fill="#b5babe" />
<rect x="357.2" y="384.5" width="0.9" height="4.5" fill="#8d9599" />
<rect x="451.3" y="387.4" width="1.2" height="2.3" fill="#e3e5e6" />
<rect x="446.7" y="390.0" width="3.2" height="1.2" fill="#a9afb3" />
<rect x="374.8" y="394.8" width="8.2" height="0.7" fill="#c9cdd0" />
<rect x="386.6" y="397.9" width="0.9" height="4.1" fill="#b5babe" />
<rect x="389.8" y="400.3" width="1.0" height="2.7" fill="#e3e5e6" />
<rect x="365.6" y="395.7" width="7.0" height="1.0" fill="#e3e5e6" />
<rect x="441.3" y="390.3" width="1.3" height="4.9" fill="#b5babe" />
<rect x="462.4" y="399.2" width="3.6" height="0.8" fill="#c9cdd0" />
<rect x="404.3" y="385.3" width="0.8" height="6.5" fill="#c9cdd0" />
<rect x="419.8" y="388.8" width="7.6" height="0.8" fill="#e3e5e6" />
<rect x="463.7" y="387.2" width="6.3" height="0.7" fill="#b5babe" />
<rect x="463.6" y="384.6" width="6.4" height="0.9" fill="#8d9599" />
<rect x="358.8" y="385.1" width="1.3" height="3.6" fill="#8d9599" />
<rect x="440.5" y="392.8" width="1.3" height="5.4" fill="#a9afb3" />
<rect x="436.1" y="393.0" width="1.2" height="2.6" fill="#8d9599" />
<rect x="378.6" y="391.5" width="1.3" height="6.0" fill="#b5babe" />
<rect x="381.3" y="393.3" width="1.1" height="3.3" fill="#b5babe" />
<rect x="419.4" y="396.2" width="1.3" height="2.9" fill="#b5babe" />
<rect x="420.7" y="394.3" width="1.1" height="5.6" fill="#c9cdd0" />
<rect x="360.2" y="399.4" width="1.1" height="3.6" fill="#b5babe" />
<rect x="422.4" y="384.9" width="6.9" height="1.2" fill="#a9afb3" />
<rect x="440.2" y="397.0" width="6.6" height="1.0" fill="#8d9599" />
<rect x="380.8" y="386.7" width="1.3" height="5.9" fill="#c9cdd0" />
<rect x="387.7" y="391.9" width="1.2" height="6.8" fill="#b5babe" />
<rect x="407.3" y="396.9" width="0.8" height="4.3" fill="#c9cdd0" />
<rect x="352.4" y="391.0" width="0.8" height="4.8" fill="#8d9599" />
<rect x="400.0" y="385.3" width="9.0" height="1.2" fill="#a9afb3" />
<rect x="378.0" y="388.3" width="0.9" height="4.3" fill="#b5babe" />
<rect x="393.1" y="389.7" width="1.1" height="2.2" fill="#8d9599" />
<rect x="418.1" y="400.9" width="1.1" height="2.1" fill="#a9afb3" />
<rect x="456.4" y="387.0" width="1.4" height="3.1" fill="#8d9599" />
<rect x="440.3" y="387.7" width="3.3" height="1.0" fill="#b5babe" />
<rect x="406.3" y="390.8" width="1.2" height="4.4" fill="#8d9599" />
<rect x="464.2" y="395.5" width="0.8" height="3.9" fill="#c9cdd0" />
<rect x="357.3" y="388.7" width="1.1" height="4.6" fill="#e3e5e6" />
<rect x="409.9" y="393.6" width="0.9" height="2.5" fill="#c9cdd0" />
<rect x="369.3" y="399.9" width="7.4" height="1.1" fill="#c9cdd0" />
<rect x="354.3" y="389.5" width="2.6" height="1.2" fill="#e3e5e6" />
<rect x="381.0" y="398.9" width="0.9" height="4.1" fill="#8d9599" />
<rect x="356.6" y="386.6" width="0.7" height="3.6" fill="#8d9599" />
<rect x="406.1" y="395.8" width="1.1" height="3.6" fill="#8d9599" />
<rect x="427.3" y="386.5" width="4.0" height="1.1" fill="#8d9599" />
<rect x="367.4" y="392.8" width="2.7" height="0.9" fill="#a9afb3" />
<rect x="376.4" y="384.7" width="6.4" height="1.0" fill="#e3e5e6" />
<rect x="426.6" y="385.1" width="1.1" height="3.8" fill="#c9cdd0" />
<rect x="459.9" y="398.8" width="6.4" height="0.8" fill="#8d9599" />
<rect x="365.5" y="392.4" width="8.5" height="0.9" fill="#e3e5e6" />
<rect x="377.0" y="399.7" width="7.4" height="0.9" fill="#b5babe" />
<rect x="410.8" y="396.6" width="1.3" height="4.4" fill="#e3e5e6" />
<rect x="431.3" y="393.4" width="0.7" height="4.0" fill="#e3e5e6" />
<rect x="454.8" y="399.5" width="4.6" height="1.2" fill="#e3e5e6" />
<rect x="405.0" y="389.5" width="2.2" height="0.9" fill="#e3e5e6" />
<rect x="415.9" y="388.5" width="0.8" height="4.3" fill="#a9afb3" />
<rect x="390.6" y="399.3" width="7.0" height="0.8" fill="#c9cdd0" />
<rect x="422.9" y="394.6" width="4.9" height="0.9" fill="#8d9599" />
<rect x="451.4" y="390.5" width="0.7" height="2.7" fill="#a9afb3" />
<rect x="382.8" y="392.4" width="2.1" height="1.1" fill="#e3e5e6" />
<rect x="377.8" y="395.6" width="2.0" height="1.0" fill="#8d9599" />
<rect x="352.4" y="393.3" width="1.2" height="2.4" fill="#a9afb3" />
<rect x="451.9" y="395.7" width="0.9" height="2.5" fill="#c9cdd0" />
<rect x="387.4" y="396.2" width="1.2" height="6.8" fill="#b5babe" />
<rect x="370.0" y="394.6" width="5.9" height="0.9" fill="#e3e5e6" />
<rect x="393.5" y="395.4" width="6.5" height="0.9" fill="#b5babe" />
<rect x="455.7" y="396.5" width="1.4" height="6.1" fill="#e3e5e6" />
<rect x="364.7" y="391.7" width="1.0" height="2.8" fill="#8d9599" />
<rect x="450.3" y="384.9" width="5.6" height="1.2" fill="#8d9599" />
<rect x="380.6" y="394.8" width="6.8" height="0.8" fill="#b5babe" />
<rect x="447.2" y="398.1" width="1.0" height="4.9" fill="#a9afb3" />
<rect x="435.6" y="388.6" width="3.4" height="1.1" fill="#e3e5e6" />
<rect x="378.1" y="387.1" width="6.1" height="1.3" fill="#b5babe" />
<rect x="382.3" y="388.6" width="6.7" height="0.9" fill="#b5babe" />
<rect x="357.5" y="396.1" width="2.3" height="0.9" fill="#a9afb3" />
<rect x="464.3" y="386.0" width="2.2" height="1.0" fill="#8d9599" />
<rect x="371.3" y="385.1" width="8.1" height="1.1" fill="#b5babe" />
<rect x="396.3" y="394.5" width="1.4" height="3.9" fill="#b5babe" />
<rect x="413.7" y="397.6" width="3.2" height="0.8" fill="#e3e5e6" />
<rect x="451.5" y="391.4" width="8.2" height="0.9" fill="#a9afb3" />
<rect x="368.2" y="394.6" width="3.6" height="1.0" fill="#e3e5e6" />
<rect x="414.3" y="393.5" width="2.0" height="1.2" fill="#c9cdd0" />
<rect x="352.5" y="389.7" width="7.5" height="1.3" fill="#8d9599" />
<rect x="406.7" y="391.0" width="1.0" height="2.3" fill="#a9afb3" />
<rect x="421.7" y="398.1" width="3.3" height="0.9" fill="#b5babe" />
<rect x="464.4" y="391.5" width="1.2" height="2.9" fill="#c9cdd0" />
<rect x="458.8" y="393.2" width="0.9" height="2.1" fill="#a9afb3" />
<rect x="387.0" y="392.7" width="3.5" height="1.3" fill="#c9cdd0" />
<rect x="438.7" y="388.5" width="8.5" height="1.0" fill="#e3e5e6" />
<rect x="442.7" y="398.1" width="1.4" height="2.5" fill="#8d9599" />
<rect x="397.5" y="396.0" width="8.4" height="0.7" fill="#a9afb3" />
<rect x="367.9" y="389.5" width="1.1" height="3.4" fill="#e3e5e6" />
<rect x="422.8" y="391.6" width="2.5" height="1.1" fill="#a9afb3" />
<rect x="362.6" y="389.7" width="0.8" height="5.7" fill="#a9afb3" />
<rect x="386.4" y="387.5" width="3.1" height="0.9" fill="#b5babe" />
<rect x="400.7" y="384.2" width="1.0" height="3.6" fill="#a9afb3" />
<rect x="446.9" y="396.9" width="3.2" height="0.7" fill="#a9afb3" />
<rect x="364.2" y="400.8" width="8.7" height="0.8" fill="#8d9599" />
<rect x="440.2" y="399.1" width="0.7" height="3.9" fill="#e3e5e6" />
<rect x="451.6" y="397.2" width="0.7" height="5.7" fill="#8d9599" />
<rect x="454.9" y="384.9" width="0.9" height="4.2" fill="#8d9599" />
<rect x="409.0" y="393.7" width="7.9" height="1.1" fill="#8d9599" />
<rect x="401.3" y="391.9" width="1.1" height="3.9" fill="#a9afb3" />
<rect x="416.7" y="392.8" width="6.4" height="1.0" fill="#a9afb3" />
<rect x="357.2" y="384.9" width="5.8" height="0.9" fill="#e3e5e6" />
<rect x="435.4" y="389.3" width="1.4" height="4.0" fill="#b5babe" />
<rect x="437.1" y="399.3" width="3.3" height="1.3" fill="#b5babe" />
<rect x="445.7" y="397.6" width="1.4" height="2.3" fill="#c9cdd0" />
<rect x="432.4" y="388.3" width="1.0" height="4.7" fill="#8d9599" />
<rect x="374.1" y="388.8" width="0.8" height="4.8" fill="#8d9599" />
<rect x="451.1" y="385.2" width="2.4" height="1.2" fill="#c9cdd0" />
<rect x="550.9" y="386.4" width="2.7" height="0.7" fill="#e3e5e6" />
<rect x="565.8" y="387.5" width="4.9" height="1.1" fill="#c9cdd0" />
<rect x="555.8" y="393.9" width="0.8" height="6.9" fill="#b5babe" />
<rect x="526.0" y="389.1" width="1.4" height="4.8" fill="#8d9599" />
<rect x="511.6" y="397.1" width="1.3" height="4.9" fill="#a9afb3" />
<rect x="495.6" y="387.4" width="0.8" height="4.9" fill="#c9cdd0" />
<rect x="488.1" y="385.9" width="1.1" height="3.8" fill="#b5babe" />
<rect x="476.8" y="385.1" width="7.0" height="1.2" fill="#8d9599" />
<rect x="494.8" y="385.1" width="4.6" height="1.1" fill="#e3e5e6" />
<rect x="518.9" y="392.1" width="0.9" height="5.5" fill="#b5babe" />
<rect x="522.3" y="385.9" width="8.1" height="1.3" fill="#c9cdd0" />
<rect x="539.6" y="391.3" width="1.0" height="5.7" fill="#a9afb3" />
<rect x="496.7" y="394.2" width="4.3" height="1.1" fill="#e3e5e6" />
<rect x="503.5" y="395.1" width="0.9" height="4.1" fill="#b5babe" />
<rect x="531.8" y="397.9" width="3.9" height="0.8" fill="#a9afb3" />
<rect x="485.8" y="394.5" width="3.5" height="1.2" fill="#c9cdd0" />
<rect x="511.2" y="395.6" width="0.9" height="6.4" fill="#c9cdd0" />
<rect x="538.8" y="386.5" width="3.2" height="1.0" fill="#8d9599" />
<rect x="539.1" y="393.7" width="1.4" height="7.0" fill="#8d9599" />
<rect x="516.7" y="387.7" width="0.8" height="2.3" fill="#8d9599" />
<rect x="537.7" y="396.6" width="1.1" height="4.9" fill="#8d9599" />
<rect x="510.8" y="386.3" width="7.2" height="0.8" fill="#b5babe" />
<rect x="566.1" y="395.1" width="1.3" height="5.3" fill="#8d9599" />
<rect x="548.9" y="385.9" width="2.1" height="1.2" fill="#c9cdd0" />
<rect x="486.2" y="390.6" width="1.4" height="5.9" fill="#c9cdd0" />
<rect x="504.3" y="392.1" width="6.0" height="0.8" fill="#c9cdd0" />
<rect x="523.9" y="388.9" width="3.7" height="1.1" fill="#8d9599" />
<rect x="481.1" y="387.5" width="5.9" height="1.0" fill="#c9cdd0" />
<rect x="552.1" y="392.1" width="6.0" height="0.8" fill="#a9afb3" />
<rect x="533.5" y="397.8" width="1.0" height="2.1" fill="#b5babe" />
<rect x="550.9" y="385.8" width="1.0" height="3.5" fill="#a9afb3" />
<rect x="478.7" y="385.8" width="8.8" height="1.1" fill="#c9cdd0" />
<rect x="512.6" y="388.8" width="5.8" height="1.1" fill="#8d9599" />
<rect x="506.9" y="391.8" width="1.3" height="6.7" fill="#a9afb3" />
<rect x="568.3" y="398.8" width="6.4" height="0.9" fill="#a9afb3" />
<rect x="500.3" y="389.9" width="5.3" height="0.9" fill="#8d9599" />
<rect x="507.4" y="385.9" width="5.7" height="0.8" fill="#8d9599" />
<rect x="527.5" y="390.4" width="2.7" height="0.9" fill="#e3e5e6" />
<rect x="509.8" y="399.2" width="1.1" height="2.8" fill="#e3e5e6" />
<rect x="514.2" y="399.5" width="6.2" height="1.3" fill="#e3e5e6" />
<rect x="566.6" y="395.1" width="0.8" height="5.8" fill="#c9cdd0" />
<rect x="505.6" y="392.0" width="1.2" height="2.3" fill="#c9cdd0" />
<rect x="496.1" y="393.4" width="1.4" height="5.2" fill="#e3e5e6" />
<rect x="513.8" y="388.6" width="0.8" height="6.9" fill="#e3e5e6" />
<rect x="506.8" y="389.1" width="1.3" height="5.2" fill="#c9cdd0" />
<rect x="570.0" y="391.8" width="2.6" height="0.8" fill="#e3e5e6" />
<rect x="536.0" y="384.4" width="1.2" height="4.9" fill="#c9cdd0" />
<rect x="553.4" y="391.7" width="6.4" height="1.2" fill="#c9cdd0" />
<rect x="492.2" y="385.3" width="0.8" height="5.8" fill="#8d9599" />
<rect x="551.3" y="391.1" width="1.2" height="6.2" fill="#e3e5e6" />
<rect x="503.7" y="306.7" width="11.3" height="8.8" fill="#e6e8e9" />
<rect x="519.0" y="306.7" width="12.0" height="8.8" fill="#e6e8e9" />
<rect x="534.5" y="310.0" width="9.5" height="7.0" fill="#e6e8e9" />
<rect x="476.0" y="305.0" width="9.0" height="5.0" fill="#e6e8e9" />
<rect x="487.0" y="303.0" width="7.0" height="8.0" fill="#e6e8e9" />
<rect x="447.0" y="300.0" width="6.0" height="7.0" fill="#e6e8e9" />
<rect x="452.0" y="309.0" width="9.0" height="5.0" fill="#e6e8e9" />
<rect x="503.0" y="298.6" width="12.0" height="5.6" rx="2" fill="#23201c" stroke="#8a7d6a" stroke-width="0.9"/>
<rect x="520.0" y="298.6" width="12.0" height="5.6" rx="2" fill="#23201c" stroke="#8a7d6a" stroke-width="0.9"/>
<ellipse cx="539" cy="302.3" rx="3.2" ry="2.2" fill="#e8eaea"/>
<rect x="545.0" y="301.0" width="3.0" height="15.0" fill="#dfe2e3" />
<rect x="503.7" y="385.5" width="11.3" height="8.8" fill="#e6e8e9" />
<rect x="519.0" y="385.5" width="12.0" height="8.8" fill="#e6e8e9" />
<rect x="534.5" y="384.5" width="9.5" height="7.0" fill="#e6e8e9" />
<rect x="476.0" y="390.0" width="9.0" height="6.0" fill="#e6e8e9" />
<rect x="487.0" y="389.0" width="7.0" height="9.0" fill="#e6e8e9" />
<rect x="447.0" y="393.0" width="6.0" height="7.0" fill="#e6e8e9" />
<rect x="452.0" y="386.0" width="9.0" height="5.0" fill="#e6e8e9" />
<rect x="503.0" y="396.4" width="12.0" height="5.6" rx="2" fill="#23201c" stroke="#8a7d6a" stroke-width="0.9"/>
<rect x="520.0" y="396.4" width="12.0" height="5.6" rx="2" fill="#23201c" stroke="#8a7d6a" stroke-width="0.9"/>
<ellipse cx="540" cy="399.5" rx="3.2" ry="2.2" fill="#e8eaea"/>
<rect x="545.0" y="385.0" width="3.0" height="15.0" fill="#dfe2e3" />
<rect x="423" y="302" width="17" height="10.4" rx="4.6" fill="#1b4a48"/>
<rect x="423" y="389" width="17" height="10.4" rx="4.6" fill="#1b4a48"/>
<rect x="376.0" y="301.4" width="1.0" height="5.0" fill="#c9cdd0" />
<rect x="378.6" y="301.4" width="1.0" height="5.0" fill="#c9cdd0" />
<rect x="381.2" y="301.4" width="1.0" height="5.0" fill="#c9cdd0" />
<rect x="383.8" y="301.4" width="1.0" height="5.0" fill="#c9cdd0" />
<rect x="386.4" y="301.4" width="1.0" height="5.0" fill="#c9cdd0" />
<rect x="389.0" y="301.4" width="1.0" height="5.0" fill="#c9cdd0" />
<rect x="391.6" y="301.4" width="1.0" height="5.0" fill="#c9cdd0" />
<rect x="394.2" y="301.4" width="1.0" height="5.0" fill="#c9cdd0" />
<rect x="396.8" y="301.4" width="1.0" height="5.0" fill="#c9cdd0" />
<rect x="399.4" y="301.4" width="1.0" height="5.0" fill="#c9cdd0" />
<rect x="402.0" y="301.4" width="1.0" height="5.0" fill="#c9cdd0" />
<rect x="375.5" y="300.2" width="29.0" height="0.9" fill="#c9cdd0" />
<rect x="375.5" y="306.7" width="29.0" height="0.9" fill="#c9cdd0" />
<rect x="376.0" y="309.0" width="1.0" height="5.6" fill="#c9cdd0" />
<rect x="378.6" y="309.0" width="1.0" height="5.6" fill="#c9cdd0" />
<rect x="381.2" y="309.0" width="1.0" height="5.6" fill="#c9cdd0" />
<rect x="383.8" y="309.0" width="1.0" height="5.6" fill="#c9cdd0" />
<rect x="386.4" y="309.0" width="1.0" height="5.6" fill="#c9cdd0" />
<rect x="389.0" y="309.0" width="1.0" height="5.6" fill="#c9cdd0" />
<rect x="391.6" y="309.0" width="1.0" height="5.6" fill="#c9cdd0" />
<rect x="394.2" y="309.0" width="1.0" height="5.6" fill="#c9cdd0" />
<rect x="396.8" y="309.0" width="1.0" height="5.6" fill="#c9cdd0" />
<rect x="399.4" y="309.0" width="1.0" height="5.6" fill="#c9cdd0" />
<rect x="402.0" y="309.0" width="1.0" height="5.6" fill="#c9cdd0" />
<rect x="375.5" y="307.8" width="29.0" height="0.9" fill="#c9cdd0" />
<rect x="375.5" y="314.9" width="29.0" height="0.9" fill="#c9cdd0" />
<rect x="443.0" y="300.6" width="1.0" height="5.4" fill="#c9cdd0" />
<rect x="445.6" y="300.6" width="1.0" height="5.4" fill="#c9cdd0" />
<rect x="448.2" y="300.6" width="1.0" height="5.4" fill="#c9cdd0" />
<rect x="450.8" y="300.6" width="1.0" height="5.4" fill="#c9cdd0" />
<rect x="453.4" y="300.6" width="1.0" height="5.4" fill="#c9cdd0" />
<rect x="456.0" y="300.6" width="1.0" height="5.4" fill="#c9cdd0" />
<rect x="458.6" y="300.6" width="1.0" height="5.4" fill="#c9cdd0" />
<rect x="461.2" y="300.6" width="1.0" height="5.4" fill="#c9cdd0" />
<rect x="463.8" y="300.6" width="1.0" height="5.4" fill="#c9cdd0" />
<rect x="466.4" y="300.6" width="1.0" height="5.4" fill="#c9cdd0" />
<rect x="442.5" y="299.4" width="27.0" height="0.9" fill="#c9cdd0" />
<rect x="442.5" y="306.3" width="27.0" height="0.9" fill="#c9cdd0" />
<rect x="455.0" y="309.6" width="1.0" height="6.0" fill="#c9cdd0" />
<rect x="457.2" y="309.6" width="1.0" height="6.0" fill="#c9cdd0" />
<rect x="459.4" y="309.6" width="1.0" height="6.0" fill="#c9cdd0" />
<rect x="461.6" y="309.6" width="1.0" height="6.0" fill="#c9cdd0" />
<rect x="463.8" y="309.6" width="1.0" height="6.0" fill="#c9cdd0" />
<rect x="466.0" y="309.6" width="1.0" height="6.0" fill="#c9cdd0" />
<rect x="468.2" y="309.6" width="1.0" height="6.0" fill="#c9cdd0" />
<rect x="454.5" y="308.4" width="16.0" height="0.9" fill="#c9cdd0" />
<rect x="454.5" y="315.9" width="16.0" height="0.9" fill="#c9cdd0" />
<rect x="372.0" y="386.4" width="1.0" height="5.4" fill="#c9cdd0" />
<rect x="374.6" y="386.4" width="1.0" height="5.4" fill="#c9cdd0" />
<rect x="377.2" y="386.4" width="1.0" height="5.4" fill="#c9cdd0" />
<rect x="379.8" y="386.4" width="1.0" height="5.4" fill="#c9cdd0" />
<rect x="382.4" y="386.4" width="1.0" height="5.4" fill="#c9cdd0" />
<rect x="385.0" y="386.4" width="1.0" height="5.4" fill="#c9cdd0" />
<rect x="387.6" y="386.4" width="1.0" height="5.4" fill="#c9cdd0" />
<rect x="390.2" y="386.4" width="1.0" height="5.4" fill="#c9cdd0" />
<rect x="392.8" y="386.4" width="1.0" height="5.4" fill="#c9cdd0" />
<rect x="395.4" y="386.4" width="1.0" height="5.4" fill="#c9cdd0" />
<rect x="398.0" y="386.4" width="1.0" height="5.4" fill="#c9cdd0" />
<rect x="400.6" y="386.4" width="1.0" height="5.4" fill="#c9cdd0" />
<rect x="403.2" y="386.4" width="1.0" height="5.4" fill="#c9cdd0" />
<rect x="371.5" y="385.2" width="33.0" height="0.9" fill="#c9cdd0" />
<rect x="371.5" y="392.1" width="33.0" height="0.9" fill="#c9cdd0" />
<rect x="376.0" y="394.6" width="1.0" height="5.6" fill="#c9cdd0" />
<rect x="378.6" y="394.6" width="1.0" height="5.6" fill="#c9cdd0" />
<rect x="381.2" y="394.6" width="1.0" height="5.6" fill="#c9cdd0" />
<rect x="383.8" y="394.6" width="1.0" height="5.6" fill="#c9cdd0" />
<rect x="386.4" y="394.6" width="1.0" height="5.6" fill="#c9cdd0" />
<rect x="389.0" y="394.6" width="1.0" height="5.6" fill="#c9cdd0" />
<rect x="391.6" y="394.6" width="1.0" height="5.6" fill="#c9cdd0" />
<rect x="394.2" y="394.6" width="1.0" height="5.6" fill="#c9cdd0" />
<rect x="396.8" y="394.6" width="1.0" height="5.6" fill="#c9cdd0" />
<rect x="399.4" y="394.6" width="1.0" height="5.6" fill="#c9cdd0" />
<rect x="402.0" y="394.6" width="1.0" height="5.6" fill="#c9cdd0" />
<rect x="375.5" y="393.4" width="29.0" height="0.9" fill="#c9cdd0" />
<rect x="375.5" y="400.5" width="29.0" height="0.9" fill="#c9cdd0" />
<rect x="443.0" y="396.0" width="1.0" height="5.4" fill="#c9cdd0" />
<rect x="445.6" y="396.0" width="1.0" height="5.4" fill="#c9cdd0" />
<rect x="448.2" y="396.0" width="1.0" height="5.4" fill="#c9cdd0" />
<rect x="450.8" y="396.0" width="1.0" height="5.4" fill="#c9cdd0" />
<rect x="453.4" y="396.0" width="1.0" height="5.4" fill="#c9cdd0" />
<rect x="456.0" y="396.0" width="1.0" height="5.4" fill="#c9cdd0" />
<rect x="458.6" y="396.0" width="1.0" height="5.4" fill="#c9cdd0" />
<rect x="461.2" y="396.0" width="1.0" height="5.4" fill="#c9cdd0" />
<rect x="463.8" y="396.0" width="1.0" height="5.4" fill="#c9cdd0" />
<rect x="466.4" y="396.0" width="1.0" height="5.4" fill="#c9cdd0" />
<rect x="442.5" y="394.8" width="27.0" height="0.9" fill="#c9cdd0" />
<rect x="442.5" y="401.7" width="27.0" height="0.9" fill="#c9cdd0" />
<rect x="455.0" y="386.4" width="1.0" height="6.0" fill="#c9cdd0" />
<rect x="457.2" y="386.4" width="1.0" height="6.0" fill="#c9cdd0" />
<rect x="459.4" y="386.4" width="1.0" height="6.0" fill="#c9cdd0" />
<rect x="461.6" y="386.4" width="1.0" height="6.0" fill="#c9cdd0" />
<rect x="463.8" y="386.4" width="1.0" height="6.0" fill="#c9cdd0" />
<rect x="466.0" y="386.4" width="1.0" height="6.0" fill="#c9cdd0" />
<rect x="468.2" y="386.4" width="1.0" height="6.0" fill="#c9cdd0" />
<rect x="454.5" y="385.2" width="16.0" height="0.9" fill="#c9cdd0" />
<rect x="454.5" y="392.7" width="16.0" height="0.9" fill="#c9cdd0" />
<rect x="549.0" y="300.6" width="1.0" height="14.4" fill="#aab0b4" />
<rect x="551.4" y="300.6" width="1.0" height="14.4" fill="#aab0b4" />
<rect x="553.8" y="300.6" width="1.0" height="14.4" fill="#aab0b4" />
<rect x="556.2" y="300.6" width="1.0" height="14.4" fill="#aab0b4" />
<rect x="558.6" y="300.6" width="1.0" height="14.4" fill="#aab0b4" />
<rect x="561.0" y="300.6" width="1.0" height="14.4" fill="#aab0b4" />
<rect x="548.5" y="299.4" width="13.0" height="0.9" fill="#aab0b4" />
<rect x="548.5" y="315.3" width="13.0" height="0.9" fill="#aab0b4" />
<rect x="549.0" y="386.0" width="1.0" height="14.6" fill="#aab0b4" />
<rect x="551.4" y="386.0" width="1.0" height="14.6" fill="#aab0b4" />
<rect x="553.8" y="386.0" width="1.0" height="14.6" fill="#aab0b4" />
<rect x="556.2" y="386.0" width="1.0" height="14.6" fill="#aab0b4" />
<rect x="558.6" y="386.0" width="1.0" height="14.6" fill="#aab0b4" />
<rect x="561.0" y="386.0" width="1.0" height="14.6" fill="#aab0b4" />
<rect x="548.5" y="384.8" width="13.0" height="0.9" fill="#aab0b4" />
<rect x="548.5" y="400.9" width="13.0" height="0.9" fill="#aab0b4" />
<rect x="412.0" y="300.0" width="5.0" height="14.0" fill="#3a3f42" />
<rect x="409.0" y="387.0" width="6.0" height="14.0" fill="#15181a" />
<path d="M418,300 L424,306 L418,313" fill="none" stroke="#d0d3d5" stroke-width="1.00" />
<path d="M418,388 L424,394 L418,401" fill="none" stroke="#d0d3d5" stroke-width="1.00" />
<path d="M350,306 L358,300 L372,300 L372,312 L350,312 Z" fill="#222b2e" />
<path d="M350,388 L372,388 L372,400 L360,402 L350,396 Z" fill="#222b2e" />
<path d="M562,314.5 L566,300.6 L576,299.6 L576,329.4 L566,328.4 Z" fill="#3a3d52" stroke="#c4c3a0" stroke-width="0.80" />
<line x1="565.0" y1="302.6" x2="565.0" y2="326.4" stroke="#8f8da8" stroke-width="0.50" />
<line x1="567.4" y1="302.6" x2="567.4" y2="326.4" stroke="#8f8da8" stroke-width="0.50" />
<line x1="569.8" y1="302.6" x2="569.8" y2="326.4" stroke="#8f8da8" stroke-width="0.50" />
<line x1="572.2" y1="302.6" x2="572.2" y2="326.4" stroke="#8f8da8" stroke-width="0.50" />
<line x1="574.6" y1="302.6" x2="574.6" y2="326.4" stroke="#8f8da8" stroke-width="0.50" />
<rect x="577.4" y="299.6" width="6.0" height="30.8" fill="#8a2534" />
<rect x="583.4" y="298.0" width="11.2" height="31.8" fill="#21384e" />
<line x1="548.0" y1="314.2" x2="578.0" y2="314.2" stroke="#e3e5e6" stroke-width="1.40" />
<rect x="545.5" y="310.2" width="2.6" height="8.0" fill="#dfe2e3" />
<path d="M562,388.1 L566,371.6 L576,370.6 L576,405.6 L566,404.6 Z" fill="#3a3d52" stroke="#c4c3a0" stroke-width="0.80" />
<line x1="565.0" y1="373.6" x2="565.0" y2="402.6" stroke="#8f8da8" stroke-width="0.50" />
<line x1="567.4" y1="373.6" x2="567.4" y2="402.6" stroke="#8f8da8" stroke-width="0.50" />
<line x1="569.8" y1="373.6" x2="569.8" y2="402.6" stroke="#8f8da8" stroke-width="0.50" />
<line x1="572.2" y1="373.6" x2="572.2" y2="402.6" stroke="#8f8da8" stroke-width="0.50" />
<line x1="574.6" y1="373.6" x2="574.6" y2="402.6" stroke="#8f8da8" stroke-width="0.50" />
<rect x="577.4" y="370.6" width="6.0" height="36.0" fill="#8a2534" />
<rect x="583.4" y="369.0" width="11.2" height="37.0" fill="#21384e" />
<line x1="548.0" y1="389.0" x2="578.0" y2="389.0" stroke="#e3e5e6" stroke-width="1.40" />
<rect x="545.5" y="385.0" width="2.6" height="8.0" fill="#dfe2e3" />
<path d="M595.5,303 L600,303 L605.4,309 L605.4,330 L595.5,330 Z" fill="#dfe2e4" />
<path d="M597,372 L605.8,372 L605.8,392 L600,398.6 L597,398.6 Z" fill="#dfe2e4" />
<rect x="598.0" y="308.0" width="2.0" height="20.0" fill="#9aa0a4" />
<rect x="599.5" y="376.0" width="2.0" height="18.0" fill="#9aa0a4" />
<path d="M140,369 L285,371.6 Q291.6,373 291,379 L289.6,387 Q289,390 286,389.6 L139,386.4 Q135.6,386 135.2,381 L135,375 Q135.4,369.4 140,369 Z" fill="#131516" />
<line x1="138.0" y1="382.4" x2="288.0" y2="385.6" stroke="#4a4f54" stroke-width="0.70" />
<line x1="207.0" y1="370.0" x2="206.4" y2="388.0" stroke="#3a3f44" stroke-width="0.60" />
<line x1="243.0" y1="371.0" x2="242.4" y2="389.0" stroke="#3a3f44" stroke-width="0.60" />
<rect x="170.0" y="375.4" width="16.0" height="1.6" fill="#5a6066" />
<rect x="224.0" y="376.6" width="18.0" height="1.6" fill="#5a6066" />
<rect x="188.0" y="358.0" width="55.0" height="9.6" fill="#b9bfd0" />
<rect x="188.0" y="358.0" width="55.0" height="2.0" fill="#e6e8ec" />
<rect x="196.0" y="362.6" width="40.0" height="1.6" fill="#8f96ad" />
<line x1="214.0" y1="356.0" x2="214.0" y2="367.0" stroke="#4a5058" stroke-width="0.80" />
<rect x="186.0" y="367.0" width="58.0" height="2.4" fill="#d9dce0" />
<clipPath id="c249523"><path d="M145.2,368.4 L141.8,354.3 C141.8,336.4 150.9,330.8 165.8,330.8 C180.7,330.8 189.8,336.4 189.8,354.3 L186.4,368.4 Z"/></clipPath>
<g clip-path="url(#c249523)">
<rect x="141.8" y="330.8" width="48.0" height="38.6" fill="#dfe2e6" />
<rect x="159.4" y="345.8" width="3.2" height="2.9" fill="#e6e8ea" />
<rect x="146.4" y="337.4" width="2.5" height="2.0" fill="#e6e8ea" />
<rect x="176.4" y="347.7" width="3.5" height="2.4" fill="#c9a86a" />
<rect x="168.6" y="343.6" width="4.6" height="2.8" fill="#e6e8ea" />
<rect x="162.9" y="334.8" width="2.1" height="3.9" fill="#262b3a" />
<rect x="182.4" y="352.0" width="4.5" height="2.6" fill="#c9a86a" />
<rect x="159.6" y="331.6" width="4.3" height="2.5" fill="#a58455" />
<rect x="161.8" y="336.5" width="4.6" height="1.7" fill="#4a5060" />
<rect x="168.5" y="352.2" width="3.1" height="3.0" fill="#a58455" />
<rect x="159.6" y="357.9" width="3.6" height="2.8" fill="#e6e8ea" />
<rect x="157.6" y="351.2" width="3.9" height="3.8" fill="#8a909a" />
<rect x="178.6" y="333.4" width="4.0" height="3.2" fill="#a58455" />
<rect x="157.3" y="357.8" width="3.5" height="3.3" fill="#e6e8ea" />
<rect x="168.7" y="363.5" width="2.5" height="1.7" fill="#9aa0aa" />
<rect x="147.7" y="349.4" width="1.9" height="3.5" fill="#e6e8ea" />
<rect x="159.0" y="350.4" width="3.1" height="2.5" fill="#8a909a" />
<rect x="175.1" y="356.2" width="1.8" height="3.3" fill="#c9a86a" />
<rect x="153.4" y="362.7" width="3.3" height="4.0" fill="#8a909a" />
<rect x="162.3" y="351.0" width="3.4" height="3.9" fill="#e6e8ea" />
<rect x="172.4" y="346.8" width="2.1" height="1.5" fill="#e6e8ea" />
<rect x="170.0" y="342.7" width="4.6" height="2.4" fill="#e6e8ea" />
<rect x="150.6" y="350.6" width="4.5" height="3.2" fill="#a58455" />
<rect x="182.5" y="359.0" width="3.3" height="2.5" fill="#c9a86a" />
<rect x="162.4" y="342.2" width="3.1" height="2.1" fill="#8a909a" />
<rect x="160.6" y="355.2" width="3.0" height="2.9" fill="#c9a86a" />
<rect x="179.4" y="349.5" width="2.1" height="3.0" fill="#a58455" />
<rect x="158.8" y="354.8" width="3.7" height="2.1" fill="#8a909a" />
<rect x="148.7" y="348.8" width="1.7" height="2.4" fill="#a58455" />
<rect x="157.7" y="343.0" width="2.7" height="2.3" fill="#e6e8ea" />
<rect x="159.8" y="355.5" width="2.5" height="3.4" fill="#e6e8ea" />
<rect x="179.6" y="357.6" width="3.9" height="1.7" fill="#9aa0aa" />
<rect x="147.3" y="348.0" width="2.4" height="1.9" fill="#8a909a" />
<rect x="147.7" y="353.4" width="3.6" height="3.9" fill="#262b3a" />
<rect x="160.5" y="342.9" width="4.5" height="1.8" fill="#c9a86a" />
<rect x="155.3" y="359.0" width="3.1" height="2.0" fill="#e6e8ea" />
<rect x="173.8" y="355.5" width="2.7" height="3.6" fill="#e6e8ea" />
<rect x="145.0" y="340.5" width="4.3" height="3.1" fill="#8a909a" />
<rect x="167.2" y="340.8" width="3.0" height="2.7" fill="#4a5060" />
<rect x="171.1" y="340.1" width="3.0" height="2.5" fill="#a58455" />
<rect x="145.0" y="357.4" width="2.3" height="2.6" fill="#4a5060" />
<rect x="171.7" y="337.2" width="3.1" height="3.9" fill="#e6e8ea" />
<rect x="170.3" y="345.5" width="3.2" height="3.4" fill="#a58455" />
<rect x="163.5" y="329.8" width="2.8" height="2.0" fill="#e6e8ea" />
<rect x="177.6" y="352.9" width="2.0" height="2.0" fill="#e6e8ea" />
<rect x="183.1" y="351.4" width="4.7" height="3.7" fill="#9aa0aa" />
<rect x="175.8" y="341.1" width="3.2" height="1.7" fill="#262b3a" />
<rect x="156.2" y="347.9" width="3.4" height="2.5" fill="#262b3a" />
<rect x="178.3" y="343.4" width="2.0" height="3.9" fill="#e6e8ea" />
<rect x="144.5" y="344.0" width="2.8" height="1.9" fill="#262b3a" />
<rect x="144.2" y="344.6" width="2.4" height="2.1" fill="#4a5060" />
<rect x="167.8" y="345.4" width="3.3" height="2.9" fill="#262b3a" />
<rect x="148.6" y="356.6" width="2.5" height="2.8" fill="#4a5060" />
<rect x="152.6" y="352.6" width="4.4" height="3.6" fill="#c9a86a" />
<rect x="164.3" y="345.4" width="1.8" height="3.9" fill="#262b3a" />
<rect x="166.4" y="345.4" width="3.3" height="1.8" fill="#9aa0aa" />
<rect x="173.5" y="351.7" width="3.6" height="2.3" fill="#f4f5f6" />
<rect x="167.2" y="354.9" width="2.0" height="1.4" fill="#262b3a" />
<rect x="160.5" y="332.9" width="2.2" height="2.4" fill="#e6e8ea" />
<rect x="148.5" y="338.8" width="3.8" height="1.5" fill="#e6e8ea" />
<rect x="166.5" y="346.2" width="3.3" height="3.2" fill="#a58455" />
<ellipse cx="165.8" cy="349.6" rx="5.3" ry="4.1" fill="none" stroke="#3c424a" stroke-width="0.7"/>
<ellipse cx="165.8" cy="349.6" rx="10.1" ry="7.9" fill="none" stroke="#3c424a" stroke-width="0.7"/>
<ellipse cx="165.8" cy="349.6" rx="14.9" ry="11.7" fill="none" stroke="#3c424a" stroke-width="0.7"/>
<ellipse cx="165.8" cy="349.6" rx="19.7" ry="15.4" fill="none" stroke="#3c424a" stroke-width="0.7"/>
<ellipse cx="165.8" cy="349.6" rx="24.0" ry="18.8" fill="none" stroke="#3c424a" stroke-width="0.7"/>
<line x1="170.6" y1="350.0" x2="192.1" y2="351.7" stroke="#4a5058" stroke-width="0.55" />
<line x1="170.2" y1="351.0" x2="190.3" y2="357.4" stroke="#4a5058" stroke-width="0.55" />
<line x1="169.6" y1="351.9" x2="186.5" y2="362.5" stroke="#4a5058" stroke-width="0.55" />
<line x1="168.6" y1="352.7" x2="181.0" y2="366.5" stroke="#4a5058" stroke-width="0.55" />
<line x1="167.3" y1="353.2" x2="174.3" y2="369.2" stroke="#4a5058" stroke-width="0.55" />
<line x1="166.0" y1="353.4" x2="166.9" y2="370.3" stroke="#4a5058" stroke-width="0.55" />
<line x1="164.6" y1="353.2" x2="159.5" y2="369.7" stroke="#4a5058" stroke-width="0.55" />
<line x1="163.4" y1="352.8" x2="152.5" y2="367.5" stroke="#4a5058" stroke-width="0.55" />
<line x1="162.3" y1="352.2" x2="146.6" y2="363.8" stroke="#4a5058" stroke-width="0.55" />
<line x1="161.5" y1="351.3" x2="142.3" y2="359.0" stroke="#4a5058" stroke-width="0.55" />
<line x1="161.1" y1="350.3" x2="139.9" y2="353.4" stroke="#4a5058" stroke-width="0.55" />
<line x1="161.0" y1="349.2" x2="139.5" y2="347.5" stroke="#4a5058" stroke-width="0.55" />
<line x1="161.4" y1="348.2" x2="141.3" y2="341.8" stroke="#4a5058" stroke-width="0.55" />
<line x1="162.0" y1="347.3" x2="145.1" y2="336.7" stroke="#4a5058" stroke-width="0.55" />
<line x1="163.0" y1="346.5" x2="150.6" y2="332.7" stroke="#4a5058" stroke-width="0.55" />
<line x1="164.3" y1="346.0" x2="157.3" y2="330.0" stroke="#4a5058" stroke-width="0.55" />
<line x1="165.6" y1="345.8" x2="164.7" y2="328.9" stroke="#4a5058" stroke-width="0.55" />
<line x1="167.0" y1="346.0" x2="172.1" y2="329.5" stroke="#4a5058" stroke-width="0.55" />
<line x1="168.2" y1="346.4" x2="179.1" y2="331.7" stroke="#4a5058" stroke-width="0.55" />
<line x1="169.3" y1="347.0" x2="185.0" y2="335.4" stroke="#4a5058" stroke-width="0.55" />
<line x1="170.1" y1="347.9" x2="189.3" y2="340.2" stroke="#4a5058" stroke-width="0.55" />
<line x1="170.5" y1="348.9" x2="191.7" y2="345.8" stroke="#4a5058" stroke-width="0.55" />
<line x1="165.8" y1="349.6" x2="165.8" y2="328.9" stroke="#f2f3f4" stroke-width="1.20" />
<line x1="165.8" y1="349.6" x2="190.9" y2="343.2" stroke="#f2f3f4" stroke-width="1.20" />
<line x1="165.8" y1="349.6" x2="181.3" y2="366.3" stroke="#f2f3f4" stroke-width="1.20" />
<line x1="165.8" y1="349.6" x2="150.3" y2="366.3" stroke="#f2f3f4" stroke-width="1.20" />
<line x1="165.8" y1="349.6" x2="140.7" y2="343.2" stroke="#f2f3f4" stroke-width="1.20" />
</g>
<path d="M145.2,368.4 L141.8,354.3 C141.8,336.4 150.9,330.8 165.8,330.8 C180.7,330.8 189.8,336.4 189.8,354.3 L186.4,368.4" fill="none" stroke="#1d2024" stroke-width="1.3"/>
<clipPath id="c440940"><path d="M244.8,370.0 L241.4,355.6 C241.4,337.4 250.7,331.6 266.0,331.6 C281.3,331.6 290.6,337.4 290.6,355.6 L287.2,370.0 Z"/></clipPath>
<g clip-path="url(#c440940)">
<rect x="241.4" y="331.6" width="49.2" height="39.4" fill="#dfe2e6" />
<rect x="275.2" y="346.4" width="2.4" height="2.8" fill="#262b3a" />
<rect x="262.6" y="346.2" width="2.4" height="1.7" fill="#f4f5f6" />
<rect x="273.5" y="350.5" width="4.3" height="2.1" fill="#e6e8ea" />
<rect x="258.9" y="350.1" width="4.1" height="3.6" fill="#c9a86a" />
<rect x="253.4" y="347.6" width="4.1" height="2.9" fill="#262b3a" />
<rect x="276.3" y="356.5" width="3.2" height="2.0" fill="#262b3a" />
<rect x="253.2" y="356.3" width="1.9" height="3.7" fill="#9aa0aa" />
<rect x="265.3" y="351.3" width="4.5" height="1.5" fill="#c9a86a" />
<rect x="273.8" y="356.0" width="4.8" height="2.9" fill="#a58455" />
<rect x="265.0" y="346.8" width="3.5" height="2.8" fill="#c9a86a" />
<rect x="265.1" y="360.7" width="4.8" height="1.6" fill="#262b3a" />
<rect x="257.3" y="359.6" width="1.9" height="4.0" fill="#c9a86a" />
<rect x="256.4" y="341.4" width="4.2" height="2.4" fill="#a58455" />
<rect x="256.4" y="355.7" width="3.5" height="3.9" fill="#e6e8ea" />
<rect x="258.6" y="353.4" width="4.5" height="3.9" fill="#f4f5f6" />
<rect x="251.0" y="355.2" width="3.9" height="2.7" fill="#9aa0aa" />
<rect x="247.4" y="350.5" width="2.2" height="2.7" fill="#e6e8ea" />
<rect x="246.2" y="350.6" width="3.6" height="3.6" fill="#f4f5f6" />
<rect x="276.5" y="360.5" width="3.6" height="2.2" fill="#4a5060" />
<rect x="266.0" y="363.0" width="2.6" height="3.2" fill="#c9a86a" />
<rect x="245.7" y="357.8" width="4.9" height="3.7" fill="#9aa0aa" />
<rect x="261.0" y="355.3" width="2.9" height="1.8" fill="#c9a86a" />
<rect x="257.9" y="355.0" width="4.5" height="2.5" fill="#c9a86a" />
<rect x="258.2" y="335.9" width="3.2" height="3.6" fill="#4a5060" />
<rect x="270.4" y="338.8" width="5.0" height="1.6" fill="#e6e8ea" />
<rect x="282.7" y="344.2" width="3.2" height="2.0" fill="#262b3a" />
<rect x="265.8" y="363.5" width="1.8" height="2.0" fill="#a58455" />
<rect x="263.4" y="366.5" width="2.5" height="1.9" fill="#c9a86a" />
<rect x="258.0" y="333.1" width="2.2" height="1.5" fill="#8a909a" />
<rect x="265.8" y="352.4" width="1.9" height="1.6" fill="#c9a86a" />
<rect x="268.5" y="343.2" width="3.1" height="3.3" fill="#8a909a" />
<rect x="262.4" y="351.3" width="3.1" height="2.7" fill="#e6e8ea" />
<rect x="267.8" y="360.9" width="2.9" height="2.8" fill="#e6e8ea" />
<rect x="270.3" y="353.7" width="3.1" height="2.5" fill="#a58455" />
<rect x="256.1" y="348.1" width="4.8" height="2.4" fill="#9aa0aa" />
<rect x="266.7" y="334.3" width="3.9" height="3.1" fill="#8a909a" />
<rect x="283.3" y="343.7" width="4.2" height="3.9" fill="#262b3a" />
<rect x="257.3" y="339.3" width="3.9" height="2.7" fill="#262b3a" />
<rect x="272.4" y="351.8" width="3.5" height="1.9" fill="#a58455" />
<rect x="254.0" y="339.0" width="2.9" height="3.8" fill="#4a5060" />
<rect x="259.3" y="350.3" width="2.1" height="2.3" fill="#9aa0aa" />
<rect x="261.1" y="337.2" width="2.6" height="1.9" fill="#e6e8ea" />
<rect x="244.3" y="350.9" width="1.8" height="3.3" fill="#a58455" />
<rect x="264.4" y="337.9" width="2.9" height="1.7" fill="#a58455" />
<rect x="263.5" y="352.0" width="1.7" height="2.7" fill="#e6e8ea" />
<rect x="264.3" y="364.4" width="4.6" height="3.9" fill="#8a909a" />
<rect x="244.7" y="354.3" width="2.8" height="3.6" fill="#262b3a" />
<rect x="270.4" y="353.5" width="3.9" height="2.9" fill="#262b3a" />
<rect x="268.2" y="347.1" width="2.2" height="2.5" fill="#a58455" />
<rect x="263.1" y="333.2" width="2.0" height="3.0" fill="#a58455" />
<rect x="276.8" y="337.1" width="3.4" height="2.9" fill="#e6e8ea" />
<rect x="266.4" y="355.2" width="2.6" height="3.6" fill="#c9a86a" />
<rect x="253.2" y="352.2" width="2.9" height="2.8" fill="#c9a86a" />
<rect x="249.7" y="342.8" width="3.9" height="2.2" fill="#e6e8ea" />
<rect x="272.4" y="341.3" width="2.2" height="3.0" fill="#e6e8ea" />
<rect x="279.0" y="358.6" width="3.3" height="2.8" fill="#4a5060" />
<rect x="257.5" y="350.5" width="2.3" height="3.5" fill="#9aa0aa" />
<rect x="284.9" y="341.0" width="3.5" height="3.9" fill="#262b3a" />
<rect x="268.3" y="346.5" width="1.9" height="3.8" fill="#c9a86a" />
<rect x="279.9" y="351.2" width="1.9" height="2.8" fill="#e6e8ea" />
<ellipse cx="266.0" cy="350.8" rx="5.4" ry="4.2" fill="none" stroke="#3c424a" stroke-width="0.7"/>
<ellipse cx="266.0" cy="350.8" rx="10.3" ry="8.1" fill="none" stroke="#3c424a" stroke-width="0.7"/>
<ellipse cx="266.0" cy="350.8" rx="15.3" ry="11.9" fill="none" stroke="#3c424a" stroke-width="0.7"/>
<ellipse cx="266.0" cy="350.8" rx="20.2" ry="15.7" fill="none" stroke="#3c424a" stroke-width="0.7"/>
<ellipse cx="266.0" cy="350.8" rx="24.6" ry="19.2" fill="none" stroke="#3c424a" stroke-width="0.7"/>
<line x1="270.9" y1="351.2" x2="292.9" y2="352.9" stroke="#4a5058" stroke-width="0.55" />
<line x1="270.6" y1="352.2" x2="291.1" y2="358.7" stroke="#4a5058" stroke-width="0.55" />
<line x1="269.9" y1="353.2" x2="287.2" y2="363.9" stroke="#4a5058" stroke-width="0.55" />
<line x1="268.8" y1="353.9" x2="281.6" y2="368.1" stroke="#4a5058" stroke-width="0.55" />
<line x1="267.6" y1="354.4" x2="274.7" y2="370.8" stroke="#4a5058" stroke-width="0.55" />
<line x1="266.2" y1="354.6" x2="267.2" y2="371.9" stroke="#4a5058" stroke-width="0.55" />
<line x1="264.8" y1="354.5" x2="259.5" y2="371.3" stroke="#4a5058" stroke-width="0.55" />
<line x1="263.5" y1="354.1" x2="252.4" y2="369.0" stroke="#4a5058" stroke-width="0.55" />
<line x1="262.4" y1="353.4" x2="246.3" y2="365.3" stroke="#4a5058" stroke-width="0.55" />
<line x1="261.6" y1="352.5" x2="241.9" y2="360.4" stroke="#4a5058" stroke-width="0.55" />
<line x1="261.2" y1="351.5" x2="239.4" y2="354.7" stroke="#4a5058" stroke-width="0.55" />
<line x1="261.1" y1="350.4" x2="239.1" y2="348.7" stroke="#4a5058" stroke-width="0.55" />
<line x1="261.4" y1="349.4" x2="240.9" y2="342.9" stroke="#4a5058" stroke-width="0.55" />
<line x1="262.1" y1="348.4" x2="244.8" y2="337.7" stroke="#4a5058" stroke-width="0.55" />
<line x1="263.2" y1="347.7" x2="250.4" y2="333.5" stroke="#4a5058" stroke-width="0.55" />
<line x1="264.4" y1="347.2" x2="257.3" y2="330.8" stroke="#4a5058" stroke-width="0.55" />
<line x1="265.8" y1="347.0" x2="264.8" y2="329.7" stroke="#4a5058" stroke-width="0.55" />
<line x1="267.2" y1="347.1" x2="272.5" y2="330.3" stroke="#4a5058" stroke-width="0.55" />
<line x1="268.5" y1="347.5" x2="279.6" y2="332.6" stroke="#4a5058" stroke-width="0.55" />
<line x1="269.6" y1="348.2" x2="285.7" y2="336.3" stroke="#4a5058" stroke-width="0.55" />
<line x1="270.4" y1="349.1" x2="290.1" y2="341.2" stroke="#4a5058" stroke-width="0.55" />
<line x1="270.8" y1="350.1" x2="292.6" y2="346.9" stroke="#4a5058" stroke-width="0.55" />
<line x1="266.0" y1="350.8" x2="266.0" y2="329.7" stroke="#f2f3f4" stroke-width="1.20" />
<line x1="266.0" y1="350.8" x2="291.7" y2="344.3" stroke="#f2f3f4" stroke-width="1.20" />
<line x1="266.0" y1="350.8" x2="281.9" y2="367.9" stroke="#f2f3f4" stroke-width="1.20" />
<line x1="266.0" y1="350.8" x2="250.1" y2="367.9" stroke="#f2f3f4" stroke-width="1.20" />
<line x1="266.0" y1="350.8" x2="240.3" y2="344.3" stroke="#f2f3f4" stroke-width="1.20" />
</g>
<path d="M244.8,370.0 L241.4,355.6 C241.4,337.4 250.7,331.6 266.0,331.6 C281.3,331.6 290.6,337.4 290.6,355.6 L287.2,370.0" fill="none" stroke="#1d2024" stroke-width="1.3"/>
<rect x="167.4" y="332.5" width="2.8" height="35.0" fill="#2a3050" />
<rect x="170.4" y="334.0" width="3.2" height="33.5" fill="#c2a468" />
<rect x="161.2" y="334.0" width="2.2" height="33.5" fill="#8a909a" />
<rect x="145.8" y="340.0" width="1.6" height="16.0" fill="#3a4050" />
<rect x="148.0" y="341.2" width="1.6" height="14.5" fill="#3a4050" />
<rect x="150.2" y="342.4" width="1.6" height="13.0" fill="#3a4050" />
<rect x="152.4" y="343.6" width="1.6" height="11.5" fill="#3a4050" />
<rect x="154.6" y="344.8" width="1.6" height="10.0" fill="#3a4050" />
<rect x="156.8" y="346.0" width="1.6" height="8.5" fill="#3a4050" />
<rect x="267.6" y="332.5" width="2.8" height="35.0" fill="#2a3050" />
<rect x="270.6" y="334.0" width="3.2" height="33.5" fill="#c2a468" />
<rect x="261.4" y="334.0" width="2.2" height="33.5" fill="#8a909a" />
<rect x="246.0" y="340.0" width="1.6" height="16.0" fill="#3a4050" />
<rect x="248.2" y="341.2" width="1.6" height="14.5" fill="#3a4050" />
<rect x="250.4" y="342.4" width="1.6" height="13.0" fill="#3a4050" />
<rect x="252.6" y="343.6" width="1.6" height="11.5" fill="#3a4050" />
<rect x="254.8" y="344.8" width="1.6" height="10.0" fill="#3a4050" />
<rect x="257.0" y="346.0" width="1.6" height="8.5" fill="#3a4050" />
<rect x="143.0" y="361.0" width="46.0" height="1.2" fill="#5a6068" />
<rect x="243.0" y="362.0" width="46.0" height="1.2" fill="#5a6068" />
<rect x="146.0" y="362.0" width="1.2" height="7.0" fill="#6a7078" />
<rect x="152.0" y="362.0" width="1.2" height="7.0" fill="#6a7078" />
<rect x="158.0" y="362.0" width="1.2" height="7.0" fill="#6a7078" />
<rect x="176.0" y="362.0" width="1.2" height="7.0" fill="#6a7078" />
<rect x="182.0" y="362.0" width="1.2" height="7.0" fill="#6a7078" />
<rect x="246.0" y="362.0" width="1.2" height="7.0" fill="#6a7078" />
<rect x="252.0" y="362.0" width="1.2" height="7.0" fill="#6a7078" />
<rect x="258.0" y="362.0" width="1.2" height="7.0" fill="#6a7078" />
<rect x="276.0" y="362.0" width="1.2" height="7.0" fill="#6a7078" />
<rect x="283.0" y="362.0" width="1.2" height="7.0" fill="#6a7078" />
<line x1="141.0" y1="349.2" x2="166.0" y2="349.2" stroke="#e8822c" stroke-width="1.50" />
<line x1="143.6" y1="344.6" x2="164.0" y2="345.4" stroke="#3f5fd0" stroke-width="1.30" />
<line x1="142.6" y1="352.0" x2="165.0" y2="351.6" stroke="#4aa9a0" stroke-width="1.10" />
<line x1="144.0" y1="355.0" x2="163.0" y2="353.6" stroke="#c9a0c0" stroke-width="0.80" />
<line x1="243.0" y1="351.0" x2="266.0" y2="351.0" stroke="#c9a050" stroke-width="1.10" />
<line x1="266.0" y1="351.0" x2="289.0" y2="351.6" stroke="#c9a050" stroke-width="0.90" />
<path d="M166,349.4 L158,367 M166,349.4 L174,367" fill="none" stroke="#b9925e" stroke-width="1.50" />
<path d="M266,350.6 L258,368 M266,350.6 L274,368" fill="none" stroke="#b9925e" stroke-width="1.50" />
<circle cx="166.2" cy="349.4" r="2.2" fill="#f0f1f2"/>
<circle cx="266" cy="350.6" r="2.2" fill="#f0f1f2"/>
<rect x="160.0" y="330.0" width="10.0" height="3.0" fill="#22262c" />
<rect x="262.0" y="331.0" width="16.0" height="3.0" fill="#22262c" />
<rect x="182.0" y="312.3" width="1.4" height="2.2" fill="#999"/>
<rect x="184.1" y="312.3" width="1.4" height="2.2" fill="#999"/>
<rect x="246.0" y="316.3" width="1.4" height="2.2" fill="#999"/>
<rect x="248.1" y="316.3" width="1.4" height="2.2" fill="#999"/>
<rect x="269.0" y="316.3" width="1.4" height="2.2" fill="#999"/>
<rect x="271.1" y="316.3" width="1.4" height="2.2" fill="#999"/>
<rect x="138.0" y="335.9" width="1.4" height="2.2" fill="#999"/>
<rect x="140.1" y="335.9" width="1.4" height="2.2" fill="#999"/>
<rect x="216.0" y="335.4" width="1.4" height="2.2" fill="#999"/>
<rect x="218.1" y="335.4" width="1.4" height="2.2" fill="#999"/>
<rect x="224.0" y="335.4" width="1.4" height="2.2" fill="#999"/>
<rect x="226.1" y="335.4" width="1.4" height="2.2" fill="#999"/>
<rect x="165.0" y="394.9" width="1.4" height="2.2" fill="#999"/>
<rect x="167.1" y="394.9" width="1.4" height="2.2" fill="#999"/>
<rect x="188.0" y="395.4" width="1.4" height="2.2" fill="#999"/>
<rect x="190.1" y="395.4" width="1.4" height="2.2" fill="#999"/>
<rect x="232.0" y="399.9" width="1.4" height="2.2" fill="#999"/>
<rect x="234.1" y="399.9" width="1.4" height="2.2" fill="#999"/>
<rect x="254.0" y="398.5" width="1.4" height="2.2" fill="#999"/>
<rect x="256.1" y="398.5" width="1.4" height="2.2" fill="#999"/>
<rect x="271.0" y="398.9" width="1.4" height="2.2" fill="#999"/>
<rect x="273.1" y="398.9" width="1.4" height="2.2" fill="#999"/>
<clipPath id="c485498"><path d="M234.4,472.6 L231.0,457.6 C231.0,438.6 240.1,432.6 255.0,432.6 C269.9,432.6 279.0,438.6 279.0,457.6 L275.6,472.6 Z"/></clipPath>
<g clip-path="url(#c485498)">
<rect x="231.0" y="432.6" width="48.0" height="41.0" fill="#dfe2e6" />
<rect x="246.8" y="446.6" width="4.5" height="1.4" fill="#e6e8ea" />
<rect x="231.2" y="450.7" width="2.7" height="3.8" fill="#262b3a" />
<rect x="247.4" y="436.6" width="4.0" height="2.6" fill="#4a5060" />
<rect x="252.1" y="446.2" width="1.8" height="1.7" fill="#e6e8ea" />
<rect x="269.5" y="436.7" width="4.2" height="2.4" fill="#262b3a" />
<rect x="252.9" y="447.2" width="2.3" height="2.0" fill="#e6e8ea" />
<rect x="258.8" y="433.6" width="4.7" height="2.4" fill="#8a909a" />
<rect x="251.2" y="453.3" width="4.6" height="1.5" fill="#262b3a" />
<rect x="243.6" y="458.5" width="2.4" height="3.3" fill="#262b3a" />
<rect x="266.7" y="435.4" width="2.0" height="2.9" fill="#262b3a" />
<rect x="258.4" y="447.5" width="4.6" height="1.7" fill="#262b3a" />
<rect x="264.5" y="445.6" width="3.3" height="3.8" fill="#e6e8ea" />
<rect x="243.4" y="455.4" width="4.0" height="1.8" fill="#262b3a" />
<rect x="269.7" y="445.5" width="1.8" height="2.8" fill="#262b3a" />
<rect x="248.6" y="448.1" width="4.1" height="2.9" fill="#e6e8ea" />
<rect x="273.7" y="454.8" width="4.8" height="2.0" fill="#e6e8ea" />
<rect x="250.4" y="449.2" width="4.5" height="2.8" fill="#e6e8ea" />
<rect x="237.2" y="445.3" width="2.0" height="3.7" fill="#e6e8ea" />
<rect x="248.4" y="455.3" width="5.0" height="2.9" fill="#e6e8ea" />
<rect x="272.5" y="452.9" width="1.6" height="1.7" fill="#8a909a" />
<rect x="254.5" y="457.7" width="2.6" height="2.1" fill="#262b3a" />
<rect x="249.4" y="450.7" width="4.3" height="3.5" fill="#f4f5f6" />
<rect x="235.3" y="451.2" width="3.5" height="1.6" fill="#e6e8ea" />
<rect x="250.3" y="448.0" width="3.3" height="3.9" fill="#f4f5f6" />
<rect x="248.0" y="449.3" width="2.2" height="3.6" fill="#e6e8ea" />
<rect x="252.8" y="453.9" width="2.5" height="1.8" fill="#e6e8ea" />
<rect x="257.1" y="454.2" width="1.8" height="1.9" fill="#262b3a" />
<rect x="241.0" y="459.4" width="2.6" height="2.7" fill="#e6e8ea" />
<rect x="249.0" y="470.0" width="2.6" height="1.7" fill="#9aa0aa" />
<rect x="248.2" y="453.2" width="4.2" height="2.4" fill="#9aa0aa" />
<rect x="257.6" y="447.7" width="4.2" height="3.7" fill="#8a909a" />
<rect x="248.5" y="451.1" width="2.5" height="1.7" fill="#262b3a" />
<rect x="259.0" y="435.0" width="4.3" height="2.0" fill="#4a5060" />
<rect x="259.2" y="451.4" width="3.6" height="2.8" fill="#e6e8ea" />
<rect x="265.3" y="456.9" width="4.8" height="2.8" fill="#e6e8ea" />
<rect x="255.8" y="450.1" width="4.6" height="2.8" fill="#e6e8ea" />
<rect x="239.2" y="449.3" width="4.6" height="2.9" fill="#262b3a" />
<rect x="256.6" y="450.1" width="4.1" height="1.7" fill="#4a5060" />
<rect x="249.2" y="441.3" width="4.6" height="3.3" fill="#e6e8ea" />
<rect x="251.7" y="448.7" width="4.6" height="2.0" fill="#e6e8ea" />
<rect x="261.1" y="437.4" width="3.3" height="2.0" fill="#e6e8ea" />
<rect x="250.0" y="448.5" width="3.9" height="2.5" fill="#262b3a" />
<rect x="258.9" y="453.3" width="4.2" height="1.6" fill="#e6e8ea" />
<rect x="268.6" y="453.5" width="3.4" height="1.5" fill="#e6e8ea" />
<rect x="254.5" y="443.1" width="1.6" height="3.9" fill="#8a909a" />
<rect x="233.2" y="440.5" width="4.4" height="1.7" fill="#e6e8ea" />
<rect x="248.7" y="456.0" width="2.3" height="2.0" fill="#e6e8ea" />
<rect x="256.8" y="453.7" width="2.9" height="3.3" fill="#262b3a" />
<rect x="239.6" y="453.3" width="4.6" height="1.6" fill="#e6e8ea" />
<rect x="271.9" y="451.5" width="1.7" height="2.1" fill="#4a5060" />
<rect x="235.2" y="438.6" width="4.3" height="1.6" fill="#e6e8ea" />
<rect x="252.8" y="468.3" width="4.6" height="3.1" fill="#9aa0aa" />
<rect x="250.8" y="447.0" width="4.3" height="3.9" fill="#262b3a" />
<rect x="257.9" y="433.2" width="4.6" height="3.8" fill="#262b3a" />
<rect x="257.3" y="450.3" width="3.1" height="2.5" fill="#8a909a" />
<rect x="246.7" y="461.9" width="3.1" height="1.6" fill="#f4f5f6" />
<rect x="249.1" y="460.9" width="3.2" height="2.4" fill="#9aa0aa" />
<rect x="251.2" y="453.7" width="2.2" height="2.8" fill="#262b3a" />
<rect x="259.7" y="464.7" width="4.8" height="1.6" fill="#4a5060" />
<rect x="275.9" y="448.0" width="4.2" height="3.7" fill="#e6e8ea" />
<ellipse cx="255.0" cy="452.6" rx="5.3" ry="4.4" fill="none" stroke="#3c424a" stroke-width="0.7"/>
<ellipse cx="255.0" cy="452.6" rx="10.1" ry="8.4" fill="none" stroke="#3c424a" stroke-width="0.7"/>
<ellipse cx="255.0" cy="452.6" rx="14.9" ry="12.4" fill="none" stroke="#3c424a" stroke-width="0.7"/>
<ellipse cx="255.0" cy="452.6" rx="19.7" ry="16.4" fill="none" stroke="#3c424a" stroke-width="0.7"/>
<ellipse cx="255.0" cy="452.6" rx="24.0" ry="20.0" fill="none" stroke="#3c424a" stroke-width="0.7"/>
<line x1="259.8" y1="453.0" x2="281.3" y2="454.8" stroke="#4a5058" stroke-width="0.55" />
<line x1="259.4" y1="454.1" x2="279.5" y2="460.9" stroke="#4a5058" stroke-width="0.55" />
<line x1="258.8" y1="455.1" x2="275.7" y2="466.3" stroke="#4a5058" stroke-width="0.55" />
<line x1="257.8" y1="455.9" x2="270.2" y2="470.6" stroke="#4a5058" stroke-width="0.55" />
<line x1="256.5" y1="456.4" x2="263.5" y2="473.4" stroke="#4a5058" stroke-width="0.55" />
<line x1="255.2" y1="456.6" x2="256.1" y2="474.6" stroke="#4a5058" stroke-width="0.55" />
<line x1="253.8" y1="456.5" x2="248.7" y2="474.0" stroke="#4a5058" stroke-width="0.55" />
<line x1="252.6" y1="456.1" x2="241.7" y2="471.6" stroke="#4a5058" stroke-width="0.55" />
<line x1="251.5" y1="455.3" x2="235.8" y2="467.7" stroke="#4a5058" stroke-width="0.55" />
<line x1="250.7" y1="454.4" x2="231.5" y2="462.6" stroke="#4a5058" stroke-width="0.55" />
<line x1="250.3" y1="453.3" x2="229.1" y2="456.7" stroke="#4a5058" stroke-width="0.55" />
<line x1="250.2" y1="452.2" x2="228.7" y2="450.4" stroke="#4a5058" stroke-width="0.55" />
<line x1="250.6" y1="451.1" x2="230.5" y2="444.3" stroke="#4a5058" stroke-width="0.55" />
<line x1="251.2" y1="450.1" x2="234.3" y2="438.9" stroke="#4a5058" stroke-width="0.55" />
<line x1="252.2" y1="449.3" x2="239.8" y2="434.6" stroke="#4a5058" stroke-width="0.55" />
<line x1="253.5" y1="448.8" x2="246.5" y2="431.8" stroke="#4a5058" stroke-width="0.55" />
<line x1="254.8" y1="448.6" x2="253.9" y2="430.6" stroke="#4a5058" stroke-width="0.55" />
<line x1="256.2" y1="448.7" x2="261.3" y2="431.2" stroke="#4a5058" stroke-width="0.55" />
<line x1="257.4" y1="449.1" x2="268.3" y2="433.6" stroke="#4a5058" stroke-width="0.55" />
<line x1="258.5" y1="449.9" x2="274.2" y2="437.5" stroke="#4a5058" stroke-width="0.55" />
<line x1="259.3" y1="450.8" x2="278.5" y2="442.6" stroke="#4a5058" stroke-width="0.55" />
<line x1="259.7" y1="451.9" x2="280.9" y2="448.5" stroke="#4a5058" stroke-width="0.55" />
</g>
<path d="M234.4,472.6 L231.0,457.6 C231.0,438.6 240.1,432.6 255.0,432.6 C269.9,432.6 279.0,438.6 279.0,457.6 L275.6,472.6" fill="none" stroke="#1d2024" stroke-width="1.3"/>
<clipPath id="c769183"><path d="M139.0,472.4 L136.1,457.1 C136.1,437.7 143.9,431.6 156.6,431.6 C169.3,431.6 177.1,437.7 177.1,457.1 L174.2,472.4 Z"/></clipPath>
<g clip-path="url(#c769183)">
<rect x="136.1" y="431.6" width="41.0" height="41.8" fill="#dfe2e6" />
<rect x="143.4" y="460.2" width="1.9" height="3.1" fill="#8a909a" />
<rect x="149.1" y="453.3" width="4.2" height="3.5" fill="#8a909a" />
<rect x="144.0" y="450.2" width="2.6" height="2.8" fill="#262b3a" />
<rect x="156.6" y="451.4" width="1.7" height="1.8" fill="#e6e8ea" />
<rect x="156.6" y="453.7" width="3.8" height="2.4" fill="#f4f5f6" />
<rect x="163.3" y="443.1" width="3.3" height="2.3" fill="#4a5060" />
<rect x="160.1" y="448.5" width="3.5" height="3.5" fill="#f4f5f6" />
<rect x="155.5" y="445.2" width="1.6" height="3.2" fill="#e6e8ea" />
<rect x="165.4" y="451.8" width="4.7" height="3.4" fill="#f4f5f6" />
<rect x="153.9" y="455.0" width="3.2" height="4.0" fill="#e6e8ea" />
<rect x="156.6" y="454.7" width="4.1" height="1.5" fill="#e6e8ea" />
<rect x="153.1" y="458.6" width="2.2" height="3.4" fill="#e6e8ea" />
<rect x="152.7" y="447.1" width="2.8" height="3.3" fill="#4a5060" />
<rect x="161.1" y="457.7" width="2.3" height="3.2" fill="#9aa0aa" />
<rect x="139.0" y="458.6" width="4.8" height="3.3" fill="#262b3a" />
<rect x="151.4" y="450.5" width="4.6" height="2.5" fill="#e6e8ea" />
<rect x="153.8" y="444.9" width="4.7" height="3.9" fill="#262b3a" />
<rect x="162.0" y="454.7" width="4.2" height="3.9" fill="#e6e8ea" />
<rect x="159.2" y="461.3" width="2.7" height="2.0" fill="#9aa0aa" />
<rect x="157.2" y="450.4" width="3.6" height="1.9" fill="#9aa0aa" />
<rect x="158.2" y="444.1" width="2.7" height="2.4" fill="#4a5060" />
<rect x="169.9" y="458.3" width="3.1" height="3.9" fill="#e6e8ea" />
<rect x="159.7" y="451.8" width="4.6" height="3.2" fill="#e6e8ea" />
<rect x="143.7" y="437.8" width="2.9" height="3.4" fill="#e6e8ea" />
<rect x="163.1" y="443.0" width="1.7" height="4.0" fill="#e6e8ea" />
<rect x="160.8" y="457.9" width="4.4" height="3.1" fill="#e6e8ea" />
<rect x="146.1" y="442.7" width="3.4" height="2.1" fill="#e6e8ea" />
<rect x="139.7" y="437.7" width="3.4" height="4.0" fill="#8a909a" />
<rect x="153.6" y="436.5" width="2.7" height="3.6" fill="#e6e8ea" />
<rect x="155.2" y="452.6" width="4.1" height="2.1" fill="#f4f5f6" />
<rect x="154.0" y="452.6" width="4.8" height="2.4" fill="#e6e8ea" />
<rect x="149.4" y="444.3" width="3.5" height="1.5" fill="#4a5060" />
<rect x="154.3" y="444.5" width="2.3" height="2.1" fill="#262b3a" />
<rect x="162.1" y="443.6" width="3.5" height="3.2" fill="#8a909a" />
<rect x="168.0" y="457.2" width="4.8" height="1.6" fill="#f4f5f6" />
<rect x="144.3" y="445.4" width="2.8" height="3.1" fill="#e6e8ea" />
<rect x="161.4" y="445.3" width="3.4" height="2.5" fill="#9aa0aa" />
<rect x="161.0" y="460.6" width="3.2" height="2.1" fill="#e6e8ea" />
<rect x="158.1" y="439.1" width="1.8" height="2.3" fill="#262b3a" />
<rect x="152.6" y="436.4" width="2.5" height="2.6" fill="#e6e8ea" />
<rect x="172.6" y="458.2" width="3.3" height="3.3" fill="#f4f5f6" />
<rect x="158.5" y="452.0" width="3.0" height="1.4" fill="#e6e8ea" />
<rect x="146.1" y="454.0" width="4.9" height="3.9" fill="#4a5060" />
<rect x="159.7" y="449.8" width="2.4" height="3.2" fill="#262b3a" />
<rect x="141.7" y="448.9" width="2.3" height="3.0" fill="#262b3a" />
<rect x="149.4" y="455.2" width="4.9" height="1.6" fill="#4a5060" />
<rect x="147.0" y="449.2" width="4.6" height="1.9" fill="#e6e8ea" />
<rect x="140.7" y="452.8" width="4.3" height="2.7" fill="#e6e8ea" />
<rect x="173.9" y="444.9" width="4.2" height="2.6" fill="#9aa0aa" />
<rect x="143.0" y="443.0" width="4.4" height="1.6" fill="#e6e8ea" />
<rect x="155.0" y="432.9" width="1.9" height="2.6" fill="#8a909a" />
<rect x="144.5" y="444.2" width="5.0" height="2.7" fill="#4a5060" />
<rect x="145.0" y="456.2" width="3.6" height="1.4" fill="#262b3a" />
<rect x="151.3" y="465.0" width="4.5" height="2.9" fill="#262b3a" />
<rect x="153.5" y="462.6" width="1.6" height="3.7" fill="#8a909a" />
<rect x="144.4" y="449.7" width="4.8" height="4.0" fill="#e6e8ea" />
<rect x="152.2" y="455.1" width="4.0" height="2.2" fill="#8a909a" />
<rect x="136.5" y="453.0" width="4.8" height="2.1" fill="#8a909a" />
<rect x="164.9" y="457.3" width="4.3" height="3.0" fill="#e6e8ea" />
<rect x="155.8" y="447.3" width="2.4" height="2.2" fill="#f4f5f6" />
<ellipse cx="156.6" cy="452.0" rx="4.5" ry="4.5" fill="none" stroke="#3c424a" stroke-width="0.7"/>
<ellipse cx="156.6" cy="452.0" rx="8.6" ry="8.6" fill="none" stroke="#3c424a" stroke-width="0.7"/>
<ellipse cx="156.6" cy="452.0" rx="12.7" ry="12.6" fill="none" stroke="#3c424a" stroke-width="0.7"/>
<ellipse cx="156.6" cy="452.0" rx="16.8" ry="16.7" fill="none" stroke="#3c424a" stroke-width="0.7"/>
<ellipse cx="156.6" cy="452.0" rx="20.5" ry="20.4" fill="none" stroke="#3c424a" stroke-width="0.7"/>
<line x1="160.7" y1="452.4" x2="179.0" y2="454.2" stroke="#4a5058" stroke-width="0.55" />
<line x1="160.4" y1="453.5" x2="177.5" y2="460.4" stroke="#4a5058" stroke-width="0.55" />
<line x1="159.8" y1="454.5" x2="174.3" y2="466.0" stroke="#4a5058" stroke-width="0.55" />
<line x1="159.0" y1="455.3" x2="169.6" y2="470.3" stroke="#4a5058" stroke-width="0.55" />
<line x1="157.9" y1="455.9" x2="163.9" y2="473.2" stroke="#4a5058" stroke-width="0.55" />
<line x1="156.8" y1="456.1" x2="157.6" y2="474.4" stroke="#4a5058" stroke-width="0.55" />
<line x1="155.6" y1="456.0" x2="151.2" y2="473.8" stroke="#4a5058" stroke-width="0.55" />
<line x1="154.5" y1="455.5" x2="145.2" y2="471.4" stroke="#4a5058" stroke-width="0.55" />
<line x1="153.6" y1="454.8" x2="140.2" y2="467.4" stroke="#4a5058" stroke-width="0.55" />
<line x1="152.9" y1="453.9" x2="136.5" y2="462.2" stroke="#4a5058" stroke-width="0.55" />
<line x1="152.6" y1="452.8" x2="134.4" y2="456.1" stroke="#4a5058" stroke-width="0.55" />
<line x1="152.5" y1="451.6" x2="134.2" y2="449.8" stroke="#4a5058" stroke-width="0.55" />
<line x1="152.8" y1="450.5" x2="135.7" y2="443.6" stroke="#4a5058" stroke-width="0.55" />
<line x1="153.4" y1="449.5" x2="138.9" y2="438.0" stroke="#4a5058" stroke-width="0.55" />
<line x1="154.2" y1="448.7" x2="143.6" y2="433.7" stroke="#4a5058" stroke-width="0.55" />
<line x1="155.3" y1="448.1" x2="149.3" y2="430.8" stroke="#4a5058" stroke-width="0.55" />
<line x1="156.4" y1="447.9" x2="155.6" y2="429.6" stroke="#4a5058" stroke-width="0.55" />
<line x1="157.6" y1="448.0" x2="162.0" y2="430.2" stroke="#4a5058" stroke-width="0.55" />
<line x1="158.7" y1="448.5" x2="168.0" y2="432.6" stroke="#4a5058" stroke-width="0.55" />
<line x1="159.6" y1="449.2" x2="173.0" y2="436.6" stroke="#4a5058" stroke-width="0.55" />
<line x1="160.3" y1="450.1" x2="176.7" y2="441.8" stroke="#4a5058" stroke-width="0.55" />
<line x1="160.6" y1="451.2" x2="178.8" y2="447.9" stroke="#4a5058" stroke-width="0.55" />
</g>
<path d="M139.0,472.4 L136.1,457.1 C136.1,437.7 143.9,431.6 156.6,431.6 C169.3,431.6 177.1,437.7 177.1,457.1 L174.2,472.4" fill="none" stroke="#1d2024" stroke-width="1.3"/>
<rect x="153.0" y="461.0" width="84.0" height="8.4" fill="#d3d6db" />
<rect x="153.0" y="461.0" width="84.0" height="1.2" fill="#eef0f1" />
<rect x="153.0" y="466.4" width="84.0" height="1.4" fill="#a4aab2" />
<rect x="196.0" y="461.4" width="10.0" height="1.6" fill="#d6cf70" />
<path d="M126,472.6 L126,449 Q127,443.4 133,443 L155,443 Q158.4,444 158.4,449 L158.4,472.6 Z" fill="#c9cdd3" />
<path d="M130,444.4 L156.4,444.4 L156.4,451.8 L129.4,451.8 Z" fill="#2b59ae" />
<line x1="136.6" y1="444.4" x2="136.6" y2="451.8" stroke="#bcd0ee" stroke-width="0.80" />
<line x1="143.4" y1="444.4" x2="143.4" y2="451.8" stroke="#bcd0ee" stroke-width="0.80" />
<line x1="150.0" y1="444.4" x2="150.0" y2="451.8" stroke="#bcd0ee" stroke-width="0.80" />
<rect x="137.9" y="461.9" width="0.7" height="3.9" fill="#8b929b" />
<rect x="143.6" y="454.4" width="1.0" height="2.5" fill="#4a5058" />
<rect x="152.8" y="466.6" width="2.3" height="1.0" fill="#e9ebed" />
<rect x="153.4" y="454.7" width="1.0" height="2.4" fill="#e9ebed" />
<rect x="134.5" y="456.5" width="0.9" height="2.2" fill="#6f767e" />
<rect x="138.8" y="465.5" width="2.6" height="0.9" fill="#e9ebed" />
<rect x="134.7" y="455.7" width="1.0" height="3.6" fill="#4a5058" />
<rect x="130.9" y="461.7" width="1.0" height="2.9" fill="#e9ebed" />
<rect x="130.9" y="458.9" width="0.8" height="4.8" fill="#8b929b" />
<rect x="130.1" y="453.0" width="1.1" height="3.8" fill="#4a5058" />
<rect x="142.8" y="464.4" width="3.5" height="0.9" fill="#e9ebed" />
<rect x="131.6" y="454.1" width="0.7" height="2.1" fill="#8b929b" />
<rect x="127.8" y="462.9" width="0.6" height="3.9" fill="#8b929b" />
<rect x="145.2" y="460.0" width="4.7" height="0.7" fill="#4a5058" />
<rect x="129.2" y="455.6" width="3.8" height="0.7" fill="#e9ebed" />
<rect x="127.2" y="469.4" width="4.1" height="0.7" fill="#8b929b" />
<rect x="127.0" y="466.7" width="1.0" height="3.3" fill="#e9ebed" />
<rect x="154.4" y="457.8" width="3.0" height="0.6" fill="#6f767e" />
<rect x="151.6" y="456.4" width="1.0" height="4.0" fill="#8b929b" />
<rect x="151.7" y="465.5" width="4.8" height="0.7" fill="#e9ebed" />
<rect x="142.8" y="460.6" width="0.7" height="4.6" fill="#6f767e" />
<rect x="129.7" y="454.4" width="3.6" height="0.9" fill="#e9ebed" />
<rect x="144.2" y="454.7" width="1.0" height="4.2" fill="#e9ebed" />
<rect x="131.2" y="453.7" width="1.0" height="4.2" fill="#8b929b" />
<rect x="154.0" y="469.2" width="0.7" height="2.8" fill="#4a5058" />
<rect x="127.1" y="464.3" width="0.7" height="5.0" fill="#4a5058" />
<rect x="132.0" y="462.0" width="10.0" height="5.0" fill="#e9ebed" />
<rect x="127.0" y="466.0" width="28.0" height="1.2" fill="#5a6068" />
<circle cx="150" cy="458.6" r="3.1" fill="#f2f2f2" stroke="#444a52" stroke-width="0.8"/><circle cx="150" cy="458.6" r="1.7" fill="#d33a3a"/>
<rect x="138.0" y="437.4" width="20.0" height="5.6" fill="#2a2e36" />
<path d="M254,472.8 L254,450 Q256,446.6 262,446.6 L276,447.6 Q279.4,450 279,455 L278,472.8 Z" fill="#c9cdd3" />
<rect x="266.2" y="455.2" width="0.8" height="3.2" fill="#6f767e" />
<rect x="264.9" y="454.1" width="4.1" height="0.7" fill="#6f767e" />
<rect x="264.9" y="457.6" width="0.8" height="3.7" fill="#8b929b" />
<rect x="257.8" y="466.5" width="2.7" height="1.0" fill="#8b929b" />
<rect x="265.5" y="457.9" width="5.0" height="0.8" fill="#e9ebed" />
<rect x="268.5" y="466.7" width="0.8" height="2.0" fill="#8b929b" />
<rect x="273.4" y="467.3" width="4.6" height="1.1" fill="#4a5058" />
<rect x="275.7" y="457.3" width="2.3" height="0.9" fill="#e9ebed" />
<rect x="258.8" y="464.4" width="1.7" height="0.6" fill="#e9ebed" />
<rect x="264.6" y="448.6" width="1.1" height="1.7" fill="#4a5058" />
<rect x="257.2" y="449.3" width="3.4" height="0.6" fill="#e9ebed" />
<rect x="262.2" y="448.4" width="2.2" height="0.7" fill="#e9ebed" />
<rect x="264.0" y="456.0" width="1.0" height="3.7" fill="#4a5058" />
<rect x="262.2" y="469.4" width="2.3" height="0.7" fill="#4a5058" />
<rect x="275.9" y="464.2" width="0.6" height="3.0" fill="#6f767e" />
<rect x="275.1" y="456.3" width="2.9" height="1.0" fill="#8b929b" />
<rect x="274.8" y="449.5" width="0.8" height="3.5" fill="#6f767e" />
<rect x="263.1" y="459.4" width="4.1" height="0.9" fill="#6f767e" />
<rect x="271.2" y="449.7" width="3.5" height="1.0" fill="#8b929b" />
<rect x="271.5" y="453.0" width="3.1" height="0.7" fill="#e9ebed" />
<rect x="274.3" y="451.8" width="2.1" height="0.6" fill="#6f767e" />
<rect x="265.5" y="465.1" width="0.9" height="2.9" fill="#8b929b" />
<rect x="261.5" y="450.3" width="5.0" height="1.0" fill="#4a5058" />
<rect x="259.8" y="456.2" width="5.4" height="0.6" fill="#e9ebed" />
<path d="M257,436 L263,434 L266,446 L258,447 Z" fill="#2a2e36" />
<rect x="266.0" y="440.0" width="9.0" height="7.0" fill="#3a3f47" />
<circle cx="272.2" cy="460" r="3.1" fill="#f2f2f2" stroke="#444a52" stroke-width="0.8"/><circle cx="272.2" cy="460" r="1.7" fill="#d33a3a"/>
<ellipse cx="240.6" cy="465.6" rx="2.3" ry="1.9" fill="#f2f2f2" stroke="#14161a" stroke-width="1.3"/>
<rect x="246.4" y="463.0" width="1.8" height="5.4" fill="#14161a" />
<path d="M121,477 Q135,475.6 149,472.4 Q175,468.8 200,468.8 Q232,469 257,473.4 Q268,476 277,478.6 Q281.6,480 281.4,485 L281,491 Q280.6,494 277,493.8 L122,492 Q118,491.6 117.6,487 L117.4,481 Q117.6,477.6 121,477 Z" fill="#131516" />
<line x1="119.0" y1="486.6" x2="280.0" y2="488.2" stroke="#4a4f54" stroke-width="0.70" />
<rect x="167.8" y="472.9" width="2.6" height="1.5" fill="#b9bdc2" />
<rect x="183.2" y="472.9" width="2.6" height="1.5" fill="#b9bdc2" />
<rect x="199.8" y="472.9" width="2.6" height="1.5" fill="#b9bdc2" />
<rect x="215.5" y="472.9" width="2.6" height="1.5" fill="#b9bdc2" />
<rect x="231.1" y="472.9" width="2.6" height="1.5" fill="#b9bdc2" />
<rect x="152.8" y="477.9" width="2.6" height="1.5" fill="#b9bdc2" />
<rect x="167.8" y="477.9" width="2.6" height="1.5" fill="#b9bdc2" />
<rect x="183.2" y="477.9" width="2.6" height="1.5" fill="#b9bdc2" />
<rect x="199.8" y="477.9" width="2.6" height="1.5" fill="#b9bdc2" />
<rect x="215.5" y="477.9" width="2.6" height="1.5" fill="#b9bdc2" />
<rect x="231.1" y="477.9" width="2.6" height="1.5" fill="#b9bdc2" />
<rect x="245.3" y="477.9" width="2.6" height="1.5" fill="#b9bdc2" />
<rect x="152.8" y="482.7" width="2.6" height="1.5" fill="#b9bdc2" />
<rect x="167.8" y="482.7" width="2.6" height="1.5" fill="#b9bdc2" />
<rect x="183.2" y="482.7" width="2.6" height="1.5" fill="#b9bdc2" />
<rect x="199.8" y="482.7" width="2.6" height="1.5" fill="#b9bdc2" />
<rect x="215.5" y="482.7" width="2.6" height="1.5" fill="#b9bdc2" />
<rect x="231.1" y="482.7" width="2.6" height="1.5" fill="#b9bdc2" />
<rect x="245.3" y="482.7" width="2.6" height="1.5" fill="#b9bdc2" />
<rect x="124.0" y="479.6" width="22.0" height="1.0" fill="#4a4f54" />
<rect x="251.0" y="481.0" width="24.0" height="1.0" fill="#4a4f54" />
<rect x="113.0" y="448.9" width="1.4" height="2.2" fill="#999"/>
<rect x="109.0" y="465.9" width="1.4" height="2.2" fill="#999"/>
<rect x="108.0" y="481.9" width="1.4" height="2.2" fill="#999"/>
<rect x="124.0" y="492.9" width="1.4" height="2.2" fill="#999"/>
<rect x="167.0" y="502.9" width="1.4" height="2.2" fill="#999"/>
<rect x="196.0" y="457.9" width="1.4" height="2.2" fill="#999"/>
<rect x="212.0" y="456.9" width="1.4" height="2.2" fill="#999"/>
<rect x="224.0" y="458.9" width="1.4" height="2.2" fill="#999"/>
<rect x="203.0" y="503.9" width="1.4" height="2.2" fill="#999"/>
<rect x="238.0" y="504.9" width="1.4" height="2.2" fill="#999"/>
<rect x="262.0" y="503.9" width="1.4" height="2.2" fill="#999"/>
<rect x="291.0" y="466.9" width="1.4" height="2.2" fill="#999"/>
<path d="M678,360.4 L883.6,360.8 L898,436 L685,439.6 Z" fill="#fefefe" stroke="#60656c" stroke-width="0.90" />
<path d="M685,446 L899,445 L914,528 L691,532 Z" fill="#fefefe" stroke="#60656c" stroke-width="0.90" />
<path d="M724,361 L862.6,361.2 L863,372 L858,377.5 L813,378 L813,379 L792,380 L780.5,381.7 L779,388.8 L767.7,386 L756,376 L756,380.5 L733,380.5 L733,376 L726,372 Z" fill="#a2adbb" stroke="#5c636c" stroke-width="0.80" />
<line x1="756.0" y1="361.0" x2="756.0" y2="377.0" stroke="#5c636c" stroke-width="0.90" />
<line x1="813.0" y1="361.0" x2="813.0" y2="379.0" stroke="#5c636c" stroke-width="0.90" />
<text x="735.5" y="376.4" font-size="4.0" fill="#222" font-weight="bold" >LA-01</text>
<rect x="841.6" y="372.6" width="2.8" height="2.8" fill="#d43030"/>
<circle cx="843" cy="374" r="2.6" fill="#e88" opacity="0.45"/>
<path d="M731,439.2 L731,426.2 L763.5,426.6 L770.6,422.8 L772,414.3 L779,413 L783.3,415.7 L791.8,418.6 L811.6,420 L814.5,422.8 L820,423.6 L865,423 L871,430 L872.4,436.8 Z" fill="#a2adbb" stroke="#5c636c" stroke-width="0.80" />
<line x1="763.4" y1="426.6" x2="763.4" y2="438.6" stroke="#5c636c" stroke-width="0.90" />
<line x1="820.0" y1="423.6" x2="820.0" y2="437.6" stroke="#5c636c" stroke-width="0.90" />
<text x="736.5" y="431.6" font-size="4.0" fill="#222" font-weight="bold" >LA-01</text>
<rect x="851" y="426.2" width="2.8" height="2.8" fill="#d43030"/>
<circle cx="852.4" cy="427.6" r="2.6" fill="#e88" opacity="0.45"/>
<rect x="692.8" y="402.0" width="74.2" height="7.6" fill="#9aa3ad" stroke="#5a6169" stroke-width="0.8"/>
<rect x="694.3" y="406.2" width="71.2" height="1.3" fill="#d4d8dd" />
<line x1="729.9" y1="402.0" x2="729.9" y2="409.6" stroke="#5a6169" stroke-width="0.80" />
<rect x="758.0" y="402.6" width="7.0" height="2.4" fill="#3a4046" />
<rect x="839.0" y="401.0" width="39.8" height="8.0" fill="#9aa3ad" stroke="#5a6169" stroke-width="0.8"/>
<rect x="840.5" y="405.4" width="36.8" height="1.3" fill="#d4d8dd" />
<rect x="847.0" y="402.2" width="23.8" height="1.8" fill="#d9d48a" />
<rect x="853.0" y="402.0" width="8.0" height="6.0" fill="#e8e9e6" />
<rect x="841.0" y="402.0" width="5.0" height="6.0" fill="#c4c9b4" />
<rect x="701.0" y="491.0" width="76.5" height="8.0" fill="#9aa3ad" stroke="#5a6169" stroke-width="0.8"/>
<rect x="702.5" y="495.4" width="73.5" height="1.3" fill="#d4d8dd" />
<line x1="739.2" y1="491.0" x2="739.2" y2="499.0" stroke="#5a6169" stroke-width="0.80" />
<text x="746.0" y="497.6" font-size="5.2" fill="#1c1c1c" font-weight="bold" textLength="22" lengthAdjust="spacingAndGlyphs">2101</text>
<rect x="851.0" y="489.5" width="41.5" height="6.5" fill="#9aa3ad" stroke="#5a6169" stroke-width="0.8"/>
<rect x="852.5" y="493.1" width="38.5" height="1.3" fill="#d4d8dd" />
<rect x="859.0" y="490.7" width="25.5" height="1.8" fill="#d9d48a" />
<rect x="865.0" y="490.5" width="8.0" height="4.5" fill="#e8e9e6" />
<rect x="853.0" y="490.5" width="5.0" height="4.5" fill="#c4c9b4" />
<path d="M731,446.8 L876.8,446 L877,458 L871,464 L825.2,465.3 L817.3,468.1 L797.5,469.5 L790.4,472.4 L789,476.6 L781.9,473.8 L774.8,466.7 L766.3,465.3 L742,465.5 L738,462 L733,455 Z" fill="#a2adbb" stroke="#5c636c" stroke-width="0.80" />
<line x1="766.3" y1="446.6" x2="766.3" y2="465.4" stroke="#5c636c" stroke-width="0.90" />
<line x1="825.2" y1="446.2" x2="825.2" y2="465.4" stroke="#5c636c" stroke-width="0.90" />
<text x="740.0" y="463.2" font-size="5.4" fill="#1c1c1c" font-weight="bold" textLength="19" lengthAdjust="spacingAndGlyphs">1012</text>
<rect x="854.6" y="457.4" width="2.8" height="2.8" fill="#d43030"/>
<circle cx="856" cy="458.8" r="2.6" fill="#e88" opacity="0.45"/>
<path d="M740.8,530.8 L740.8,515 L773.4,516.3 L779,513.5 L781.9,505 L787.6,500.7 L794.6,501.6 L797.5,505 L803.1,507.2 L828.6,509.2 L832.9,512 L878,512 L885,519 L887,528.4 Z" fill="#a2adbb" stroke="#5c636c" stroke-width="0.80" />
<line x1="773.4" y1="516.0" x2="773.4" y2="530.2" stroke="#5c636c" stroke-width="0.90" />
<line x1="833.0" y1="512.0" x2="833.0" y2="529.4" stroke="#5c636c" stroke-width="0.90" />
<text x="746.5" y="524.2" font-size="5.4" fill="#1c1c1c" font-weight="bold" textLength="21" lengthAdjust="spacingAndGlyphs">2101</text>
<rect x="864.6" y="514.6" width="2.8" height="2.8" fill="#d43030"/>
<circle cx="866" cy="516" r="2.6" fill="#e88" opacity="0.45"/>
<path d="M731.0,382.5 l5.4,0.4 l-0.3,3.4 l-5.4,-0.4 z" fill="#111"/>
<path d="M737.6,383.5 L740.8,383.5 M737.6,385.0 L739.4,385.0 M740.5,383.0 L740.5,386.2 M737.9,383.0 L737.9,386.2 M739.2,384.4 L740.8,386.2 " stroke="#2a2a2a" stroke-width="0.70" fill="none"/>
<path d="M741.7,383.3 L744.9,383.3 M741.7,385.2 L744.4,385.2 M742.0,383.6 L742.0,386.2 M743.9,383.6 L743.9,386.2 " stroke="#2a2a2a" stroke-width="0.70" fill="none"/>
<path d="M745.8,383.0 L748.5,383.0 M745.8,383.9 L747.6,383.9 M745.8,385.0 L747.6,385.0 M745.8,385.9 L749.0,385.9 M748.0,383.6 L748.0,385.2 M747.4,384.4 L745.8,386.2 " stroke="#2a2a2a" stroke-width="0.70" fill="none"/>
<path d="M750.4,383.3 L753.1,383.3 M749.9,384.5 L753.1,384.5 M751.3,385.5 L752.6,385.5 M752.1,383.6 L752.1,386.2 M752.1,383.6 L752.1,386.2 M750.2,383.0 L750.2,386.2 " stroke="#2a2a2a" stroke-width="0.70" fill="none"/>
<ellipse cx="695.4" cy="395.0" rx="2.4" ry="1.6" fill="#111"/>
<path d="M700.1,393.8 L701.4,393.8 M699.6,394.6 L702.8,394.6 M699.6,395.6 L702.8,395.6 M699.6,396.4 L702.8,396.4 M699.9,393.6 L699.9,396.8 M699.9,394.2 L699.9,395.8 M701.2,395.0 L699.6,396.8 " stroke="#2a2a2a" stroke-width="0.70" fill="none"/>
<path d="M703.7,394.0 L706.9,394.0 M704.2,394.9 L706.9,394.9 M704.2,396.4 L706.9,396.4 M706.6,393.6 L706.6,396.8 M706.6,393.6 L706.6,396.8 M706.6,393.6 L706.6,396.8 " stroke="#2a2a2a" stroke-width="0.70" fill="none"/>
<ellipse cx="839.4" cy="395.0" rx="2.4" ry="1.6" fill="#111"/>
<path d="M844.1,394.0 L846.8,394.0 M843.6,396.2 L846.8,396.2 M846.5,394.2 L846.5,396.8 M843.9,393.6 L843.9,396.8 M845.2,395.0 L843.6,396.8 " stroke="#2a2a2a" stroke-width="0.70" fill="none"/>
<path d="M849.1,393.7 L850.9,393.7 M847.7,395.9 L850.4,395.9 M848.7,393.6 L848.7,396.8 M849.3,393.6 L849.3,396.8 M849.3,395.0 L850.9,396.8 " stroke="#2a2a2a" stroke-width="0.70" fill="none"/>
<path d="M735.0,417.1 l5.4,0.4 l-0.3,3.4 l-5.4,-0.4 z" fill="#111"/>
<path d="M741.6,417.8 L744.3,417.8 M741.6,419.0 L744.8,419.0 M741.6,420.2 L744.8,420.2 M741.9,417.6 L741.9,420.8 M741.9,417.6 L741.9,420.8 M743.2,419.0 L741.6,420.8 " stroke="#2a2a2a" stroke-width="0.70" fill="none"/>
<path d="M745.7,417.8 L748.9,417.8 M745.7,418.8 L747.5,418.8 M745.7,420.1 L747.5,420.1 M747.9,417.6 L747.9,420.8 M747.9,417.6 L747.9,420.8 M747.3,419.0 L745.7,420.8 " stroke="#2a2a2a" stroke-width="0.70" fill="none"/>
<path d="M749.8,417.7 L752.5,417.7 M749.8,419.1 L751.6,419.1 M749.8,420.1 L752.5,420.1 M750.8,417.6 L750.8,419.8 M752.0,418.2 L752.0,420.8 M750.1,418.2 L750.1,419.8 M751.4,419.0 L753.0,420.8 " stroke="#2a2a2a" stroke-width="0.70" fill="none"/>
<path d="M754.4,417.8 L757.1,417.8 M754.4,419.2 L757.1,419.2 M753.9,420.2 L757.1,420.2 M756.8,417.6 L756.8,420.8 M754.2,417.6 L754.2,420.8 M754.2,418.2 L754.2,420.8 " stroke="#2a2a2a" stroke-width="0.70" fill="none"/>
<path d="M741.0,472.1 l5.4,0.4 l-0.3,3.4 l-5.4,-0.4 z" fill="#111"/>
<path d="M747.6,473.1 L749.4,473.1 M749.0,474.7 L750.3,474.7 M747.9,473.2 L747.9,475.8 M750.5,473.2 L750.5,475.8 M748.6,472.6 L748.6,475.8 " stroke="#2a2a2a" stroke-width="0.70" fill="none"/>
<path d="M752.2,472.8 L754.9,472.8 M751.7,473.5 L754.4,473.5 M751.7,474.4 L754.4,474.4 M752.2,475.4 L754.4,475.4 M752.7,473.2 L752.7,475.8 M754.6,472.6 L754.6,474.8 M753.3,472.6 L753.3,474.8 " stroke="#2a2a2a" stroke-width="0.70" fill="none"/>
<path d="M756.3,472.6 L759.0,472.6 M755.8,473.6 L757.6,473.6 M755.8,474.5 L758.5,474.5 M756.3,475.5 L757.6,475.5 M758.0,473.2 L758.0,475.8 M757.4,472.6 L757.4,475.8 M757.4,474.0 L759.0,475.8 " stroke="#2a2a2a" stroke-width="0.70" fill="none"/>
<path d="M759.9,472.8 L763.1,472.8 M759.9,473.6 L763.1,473.6 M760.4,474.5 L763.1,474.5 M759.9,475.5 L761.7,475.5 M762.8,472.6 L762.8,474.8 M761.5,474.0 L759.9,475.8 " stroke="#2a2a2a" stroke-width="0.70" fill="none"/>
<ellipse cx="703.4" cy="484.5" rx="2.4" ry="1.6" fill="#111"/>
<path d="M707.6,483.4 L710.3,483.4 M709.0,485.5 L710.8,485.5 M708.6,483.1 L708.6,485.3 M709.2,484.5 L710.8,486.3 " stroke="#2a2a2a" stroke-width="0.70" fill="none"/>
<path d="M713.1,483.4 L714.9,483.4 M711.7,484.7 L714.4,484.7 M711.7,485.6 L714.9,485.6 M713.9,483.1 L713.9,486.3 M713.3,483.1 L713.3,485.3 M713.3,484.5 L711.7,486.3 " stroke="#2a2a2a" stroke-width="0.70" fill="none"/>
<ellipse cx="851.4" cy="481.0" rx="2.4" ry="1.6" fill="#111"/>
<path d="M855.6,480.0 L858.8,480.0 M857.0,481.7 L858.3,481.7 M857.2,479.6 L857.2,482.8 M857.2,479.6 L857.2,482.8 M857.2,481.0 L858.8,482.8 " stroke="#2a2a2a" stroke-width="0.70" fill="none"/>
<path d="M859.7,480.2 L861.5,480.2 M859.7,482.0 L861.5,482.0 M860.0,480.2 L860.0,482.8 M861.3,480.2 L861.3,481.8 M862.6,479.6 L862.6,481.8 M861.3,481.0 L862.9,482.8 " stroke="#2a2a2a" stroke-width="0.70" fill="none"/>
<path d="M744.0,506.1 l5.4,0.4 l-0.3,3.4 l-5.4,-0.4 z" fill="#111"/>
<path d="M750.6,506.7 L753.8,506.7 M751.1,507.9 L753.3,507.9 M752.0,509.1 L753.3,509.1 M751.6,506.6 L751.6,508.8 M753.5,506.6 L753.5,508.8 " stroke="#2a2a2a" stroke-width="0.70" fill="none"/>
<path d="M755.2,506.7 L757.4,506.7 M754.7,509.1 L756.5,509.1 M756.3,506.6 L756.3,508.8 M755.7,506.6 L755.7,509.8 " stroke="#2a2a2a" stroke-width="0.70" fill="none"/>
<path d="M759.3,506.8 L762.0,506.8 M759.3,508.9 L760.6,508.9 M761.0,506.6 L761.0,509.8 M759.8,506.6 L759.8,509.8 M760.4,508.0 L762.0,509.8 " stroke="#2a2a2a" stroke-width="0.70" fill="none"/>
<path d="M763.4,506.7 L765.6,506.7 M762.9,507.7 L766.1,507.7 M762.9,508.5 L766.1,508.5 M762.9,509.4 L766.1,509.4 M765.1,506.6 L765.1,508.8 M764.5,508.0 L762.9,509.8 " stroke="#2a2a2a" stroke-width="0.70" fill="none"/>
<rect x="701.0" y="363.9" width="1.4" height="2.2" fill="#999"/>
<rect x="703.1" y="363.9" width="1.4" height="2.2" fill="#999"/>
<rect x="704.0" y="368.9" width="1.4" height="2.2" fill="#999"/>
<rect x="706.1" y="368.9" width="1.4" height="2.2" fill="#999"/>
<rect x="889.0" y="370.9" width="1.4" height="2.2" fill="#999"/>
<rect x="891.1" y="370.9" width="1.4" height="2.2" fill="#999"/>
<rect x="860.0" y="390.9" width="1.4" height="2.2" fill="#999"/>
<rect x="862.1" y="390.9" width="1.4" height="2.2" fill="#999"/>
<rect x="833.0" y="405.9" width="1.4" height="2.2" fill="#999"/>
<rect x="835.1" y="405.9" width="1.4" height="2.2" fill="#999"/>
<rect x="707.0" y="428.9" width="1.4" height="2.2" fill="#999"/>
<rect x="709.1" y="428.9" width="1.4" height="2.2" fill="#999"/>
<rect x="703.0" y="434.9" width="1.4" height="2.2" fill="#999"/>
<rect x="705.1" y="434.9" width="1.4" height="2.2" fill="#999"/>
<rect x="893.0" y="424.9" width="1.4" height="2.2" fill="#999"/>
<rect x="895.1" y="424.9" width="1.4" height="2.2" fill="#999"/>
<rect x="781.0" y="395.9" width="1.4" height="2.2" fill="#999"/>
<rect x="783.1" y="395.9" width="1.4" height="2.2" fill="#999"/>
<rect x="715.0" y="459.9" width="1.4" height="2.2" fill="#999"/>
<rect x="717.1" y="459.9" width="1.4" height="2.2" fill="#999"/>
<rect x="901.0" y="458.9" width="1.4" height="2.2" fill="#999"/>
<rect x="903.1" y="458.9" width="1.4" height="2.2" fill="#999"/>
<rect x="718.0" y="517.9" width="1.4" height="2.2" fill="#999"/>
<rect x="720.1" y="517.9" width="1.4" height="2.2" fill="#999"/>
<rect x="891.0" y="480.9" width="1.4" height="2.2" fill="#999"/>
<rect x="893.1" y="480.9" width="1.4" height="2.2" fill="#999"/>
<rect x="862.0" y="500.9" width="1.4" height="2.2" fill="#999"/>
<rect x="864.1" y="500.9" width="1.4" height="2.2" fill="#999"/>
<rect x="880.0" y="502.9" width="1.4" height="2.2" fill="#999"/>
<rect x="882.1" y="502.9" width="1.4" height="2.2" fill="#999"/>
<rect x="729.0" y="486.9" width="1.4" height="2.2" fill="#999"/>
<rect x="731.1" y="486.9" width="1.4" height="2.2" fill="#999"/>
<rect x="749.0" y="487.9" width="1.4" height="2.2" fill="#999"/>
<rect x="751.1" y="487.9" width="1.4" height="2.2" fill="#999"/>
</g></g>
</svg>
</body></html>
